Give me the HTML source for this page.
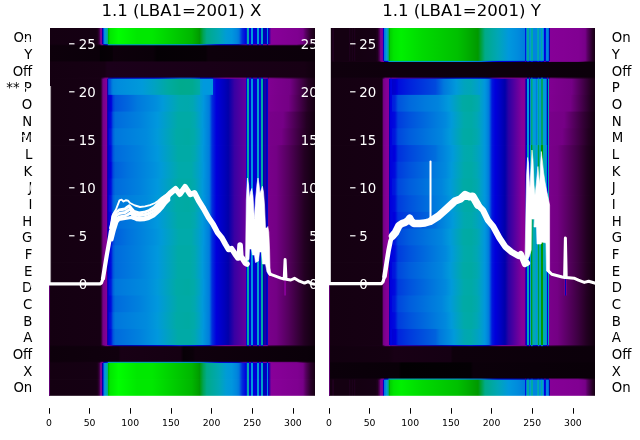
<!DOCTYPE html>
<html><head><meta charset="utf-8"><style>
html,body{margin:0;padding:0;background:#fff;}
body{width:640px;height:440px;overflow:hidden;}
svg{display:block;font-family:"DejaVu Sans","Liberation Sans",sans-serif;will-change:transform;}
</style></head><body>
<svg width="640" height="440" viewBox="0 0 640 440">
<rect width="640" height="440" fill="#fff"/>

<defs><linearGradient id="a0" gradientUnits="userSpaceOnUse" x1="49.00" y1="0" x2="315.00" y2="0"><stop offset="0.0000" stop-color="#140011"/><stop offset="0.1776" stop-color="#150013"/><stop offset="0.1842" stop-color="#1f001e"/><stop offset="0.1880" stop-color="#360039"/><stop offset="0.1898" stop-color="#430049"/><stop offset="0.1917" stop-color="#6a0078"/><stop offset="0.1927" stop-color="#780089"/><stop offset="0.1983" stop-color="#860097"/><stop offset="0.1992" stop-color="#66009d"/><stop offset="0.2011" stop-color="#0000aa"/><stop offset="0.2030" stop-color="#0000ce"/><stop offset="0.2039" stop-color="#000add"/><stop offset="0.2058" stop-color="#0073dd"/><stop offset="0.2068" stop-color="#0085dd"/><stop offset="0.2105" stop-color="#0099dd"/><stop offset="0.2180" stop-color="#00aaa5"/><stop offset="0.2199" stop-color="#00aa9c"/><stop offset="0.2209" stop-color="#00a66b"/><stop offset="0.2218" stop-color="#009a00"/><stop offset="0.2227" stop-color="#00b500"/><stop offset="0.2256" stop-color="#00cd00"/><stop offset="0.2293" stop-color="#00e700"/><stop offset="0.2613" stop-color="#00fe00"/><stop offset="0.3308" stop-color="#00e800"/><stop offset="0.3872" stop-color="#00e800"/><stop offset="0.5367" stop-color="#00b600"/><stop offset="0.5611" stop-color="#00a000"/><stop offset="0.5658" stop-color="#009902"/><stop offset="0.5799" stop-color="#00a455"/><stop offset="0.5930" stop-color="#00aa89"/><stop offset="0.6391" stop-color="#00a7b4"/><stop offset="0.6654" stop-color="#009cd5"/><stop offset="0.6870" stop-color="#0096dd"/><stop offset="0.7058" stop-color="#0086dd"/><stop offset="0.7143" stop-color="#0077dd"/><stop offset="0.7265" stop-color="#002ddd"/><stop offset="0.7415" stop-color="#0000dd"/><stop offset="0.7425" stop-color="#001bdd"/><stop offset="0.7434" stop-color="#0084dd"/><stop offset="0.7444" stop-color="#00a3c0"/><stop offset="0.7453" stop-color="#00a7b4"/><stop offset="0.7509" stop-color="#00a7b4"/><stop offset="0.7519" stop-color="#008cdd"/><stop offset="0.7528" stop-color="#0034dd"/><stop offset="0.7538" stop-color="#0000db"/><stop offset="0.7575" stop-color="#0000da"/><stop offset="0.7585" stop-color="#004bdd"/><stop offset="0.7594" stop-color="#0088dd"/><stop offset="0.7603" stop-color="#0099dd"/><stop offset="0.7660" stop-color="#0099dd"/><stop offset="0.7669" stop-color="#0087dd"/><stop offset="0.7679" stop-color="#0049dd"/><stop offset="0.7688" stop-color="#0000d9"/><stop offset="0.7801" stop-color="#0000d7"/><stop offset="0.7810" stop-color="#0008dd"/><stop offset="0.7820" stop-color="#0078dd"/><stop offset="0.7829" stop-color="#0099dd"/><stop offset="0.7838" stop-color="#009cd3"/><stop offset="0.7885" stop-color="#009cd3"/><stop offset="0.7895" stop-color="#0092dd"/><stop offset="0.7904" stop-color="#0062dd"/><stop offset="0.7914" stop-color="#0000d5"/><stop offset="0.7951" stop-color="#0000d4"/><stop offset="0.7961" stop-color="#006bdd"/><stop offset="0.7970" stop-color="#0098dd"/><stop offset="0.7979" stop-color="#00a0c9"/><stop offset="0.8036" stop-color="#00a0c9"/><stop offset="0.8045" stop-color="#0098dd"/><stop offset="0.8055" stop-color="#0058dd"/><stop offset="0.8064" stop-color="#0000b9"/><stop offset="0.8167" stop-color="#0000b9"/><stop offset="0.8177" stop-color="#0000cb"/><stop offset="0.8186" stop-color="#003edd"/><stop offset="0.8195" stop-color="#0085dd"/><stop offset="0.8233" stop-color="#0085dd"/><stop offset="0.8242" stop-color="#003add"/><stop offset="0.8252" stop-color="#0000c7"/><stop offset="0.8261" stop-color="#0000ad"/><stop offset="0.8271" stop-color="#0900a9"/><stop offset="0.8308" stop-color="#5200a0"/><stop offset="0.8365" stop-color="#880099"/><stop offset="0.9361" stop-color="#7f0090"/><stop offset="0.9549" stop-color="#770088"/><stop offset="0.9662" stop-color="#54005d"/><stop offset="0.9840" stop-color="#290029"/><stop offset="1.0000" stop-color="#160013"/></linearGradient><linearGradient id="a1" gradientUnits="userSpaceOnUse" x1="49.00" y1="0" x2="315.00" y2="0"><stop offset="0.0000" stop-color="#0d000b"/><stop offset="0.1889" stop-color="#0b000a"/><stop offset="0.1936" stop-color="#040004"/><stop offset="0.2378" stop-color="#070006"/><stop offset="0.2425" stop-color="#0d000b"/><stop offset="0.3910" stop-color="#0a0009"/><stop offset="0.4060" stop-color="#040004"/><stop offset="0.5883" stop-color="#070006"/><stop offset="0.5987" stop-color="#0d000b"/><stop offset="1.0000" stop-color="#0b000a"/></linearGradient><linearGradient id="a2" gradientUnits="userSpaceOnUse" x1="49.00" y1="0" x2="315.00" y2="0"><stop offset="0.0000" stop-color="#140011"/><stop offset="0.2086" stop-color="#160013"/><stop offset="0.2190" stop-color="#1b001a"/><stop offset="0.9596" stop-color="#170014"/><stop offset="1.0000" stop-color="#0f000d"/></linearGradient><linearGradient id="a3" gradientUnits="userSpaceOnUse" x1="49.00" y1="0" x2="315.00" y2="0"><stop offset="0.0000" stop-color="#140011"/><stop offset="0.1927" stop-color="#160013"/><stop offset="0.1964" stop-color="#2e002f"/><stop offset="0.2030" stop-color="#770088"/><stop offset="0.2180" stop-color="#860097"/><stop offset="0.2190" stop-color="#56009f"/><stop offset="0.2199" stop-color="#1600a7"/><stop offset="0.2209" stop-color="#0000ba"/><stop offset="0.2218" stop-color="#0000c5"/><stop offset="0.2227" stop-color="#002cdd"/><stop offset="0.2246" stop-color="#0050dd"/><stop offset="0.2331" stop-color="#005fdd"/><stop offset="0.2359" stop-color="#0078dd"/><stop offset="0.2425" stop-color="#0086dd"/><stop offset="0.2585" stop-color="#008cdd"/><stop offset="0.3496" stop-color="#009ada"/><stop offset="0.3966" stop-color="#00a2c2"/><stop offset="0.4483" stop-color="#00aaa0"/><stop offset="0.4953" stop-color="#00aa8d"/><stop offset="0.5385" stop-color="#00aa8f"/><stop offset="0.5667" stop-color="#00aaa7"/><stop offset="0.5677" stop-color="#009fcb"/><stop offset="0.5808" stop-color="#0099dd"/><stop offset="0.6156" stop-color="#0099dd"/><stop offset="0.6165" stop-color="#0024dd"/><stop offset="0.6288" stop-color="#0000dc"/><stop offset="0.6598" stop-color="#0000bc"/><stop offset="0.6739" stop-color="#0200aa"/><stop offset="0.6974" stop-color="#3900a3"/><stop offset="0.7312" stop-color="#5d009e"/><stop offset="0.7406" stop-color="#65009d"/><stop offset="0.7415" stop-color="#0000ac"/><stop offset="0.7425" stop-color="#000add"/><stop offset="0.7434" stop-color="#0088dd"/><stop offset="0.7444" stop-color="#00a9ae"/><stop offset="0.7453" stop-color="#00aaa3"/><stop offset="0.7509" stop-color="#00aaa3"/><stop offset="0.7519" stop-color="#0092dd"/><stop offset="0.7528" stop-color="#002cdd"/><stop offset="0.7538" stop-color="#0000d3"/><stop offset="0.7575" stop-color="#0000d3"/><stop offset="0.7585" stop-color="#0038dd"/><stop offset="0.7594" stop-color="#0081dd"/><stop offset="0.7603" stop-color="#0092dd"/><stop offset="0.7660" stop-color="#0092dd"/><stop offset="0.7669" stop-color="#0081dd"/><stop offset="0.7679" stop-color="#0038dd"/><stop offset="0.7688" stop-color="#0000d3"/><stop offset="0.7810" stop-color="#0000d3"/><stop offset="0.7820" stop-color="#0069dd"/><stop offset="0.7829" stop-color="#0098dd"/><stop offset="0.7838" stop-color="#00a0c9"/><stop offset="0.7885" stop-color="#00a0c9"/><stop offset="0.7895" stop-color="#0091dd"/><stop offset="0.7904" stop-color="#004fdd"/><stop offset="0.7914" stop-color="#0000d3"/><stop offset="0.7942" stop-color="#0000d3"/><stop offset="0.7951" stop-color="#000add"/><stop offset="0.7961" stop-color="#0088dd"/><stop offset="0.7970" stop-color="#00a9ae"/><stop offset="0.7979" stop-color="#00aaa3"/><stop offset="0.8036" stop-color="#00aaa3"/><stop offset="0.8045" stop-color="#00a9ae"/><stop offset="0.8055" stop-color="#0080dd"/><stop offset="0.8064" stop-color="#0000b3"/><stop offset="0.8073" stop-color="#1b00a7"/><stop offset="0.8167" stop-color="#1b00a7"/><stop offset="0.8177" stop-color="#0000b5"/><stop offset="0.8186" stop-color="#0000ca"/><stop offset="0.8195" stop-color="#0000d3"/><stop offset="0.8224" stop-color="#0000d3"/><stop offset="0.8233" stop-color="#2c00a4"/><stop offset="0.8242" stop-color="#800091"/><stop offset="0.8252" stop-color="#79008a"/><stop offset="0.8261" stop-color="#800091"/><stop offset="0.9051" stop-color="#740085"/><stop offset="0.9746" stop-color="#250024"/><stop offset="1.0000" stop-color="#150013"/></linearGradient><linearGradient id="a4" gradientUnits="userSpaceOnUse" x1="49.00" y1="0" x2="315.00" y2="0"><stop offset="0.0000" stop-color="#140011"/><stop offset="0.1927" stop-color="#160013"/><stop offset="0.1964" stop-color="#2e002f"/><stop offset="0.2030" stop-color="#770088"/><stop offset="0.2180" stop-color="#860097"/><stop offset="0.2190" stop-color="#56009f"/><stop offset="0.2199" stop-color="#1600a7"/><stop offset="0.2209" stop-color="#0000ba"/><stop offset="0.2218" stop-color="#0000c5"/><stop offset="0.2227" stop-color="#0000c2"/><stop offset="0.2246" stop-color="#0000d1"/><stop offset="0.2340" stop-color="#0000dc"/><stop offset="0.2406" stop-color="#003cdd"/><stop offset="0.2491" stop-color="#0054dd"/><stop offset="0.2979" stop-color="#0067dd"/><stop offset="0.3318" stop-color="#0079dd"/><stop offset="0.4013" stop-color="#008edd"/><stop offset="0.4276" stop-color="#009ad9"/><stop offset="0.4897" stop-color="#00a9ae"/><stop offset="0.5226" stop-color="#00a9ac"/><stop offset="0.5414" stop-color="#00a7b3"/><stop offset="0.5658" stop-color="#009dd2"/><stop offset="0.5667" stop-color="#009cd4"/><stop offset="0.5677" stop-color="#009fcb"/><stop offset="0.5808" stop-color="#0097dd"/><stop offset="0.6006" stop-color="#007edd"/><stop offset="0.6043" stop-color="#0073dd"/><stop offset="0.6128" stop-color="#0030dd"/><stop offset="0.6288" stop-color="#0000dc"/><stop offset="0.6598" stop-color="#0000bc"/><stop offset="0.6739" stop-color="#0200aa"/><stop offset="0.6974" stop-color="#3900a3"/><stop offset="0.7312" stop-color="#5d009e"/><stop offset="0.7406" stop-color="#65009d"/><stop offset="0.7415" stop-color="#0000ac"/><stop offset="0.7425" stop-color="#000add"/><stop offset="0.7434" stop-color="#0088dd"/><stop offset="0.7444" stop-color="#00a9ae"/><stop offset="0.7453" stop-color="#00aaa3"/><stop offset="0.7509" stop-color="#00aaa3"/><stop offset="0.7519" stop-color="#0092dd"/><stop offset="0.7528" stop-color="#002cdd"/><stop offset="0.7538" stop-color="#0000d3"/><stop offset="0.7575" stop-color="#0000d3"/><stop offset="0.7585" stop-color="#0038dd"/><stop offset="0.7594" stop-color="#0081dd"/><stop offset="0.7603" stop-color="#0092dd"/><stop offset="0.7660" stop-color="#0092dd"/><stop offset="0.7669" stop-color="#0081dd"/><stop offset="0.7679" stop-color="#0038dd"/><stop offset="0.7688" stop-color="#0000d3"/><stop offset="0.7810" stop-color="#0000d3"/><stop offset="0.7820" stop-color="#0069dd"/><stop offset="0.7829" stop-color="#0098dd"/><stop offset="0.7838" stop-color="#00a0c9"/><stop offset="0.7885" stop-color="#00a0c9"/><stop offset="0.7895" stop-color="#0091dd"/><stop offset="0.7904" stop-color="#004fdd"/><stop offset="0.7914" stop-color="#0000d3"/><stop offset="0.7942" stop-color="#0000d3"/><stop offset="0.7951" stop-color="#000add"/><stop offset="0.7961" stop-color="#0088dd"/><stop offset="0.7970" stop-color="#00a9ae"/><stop offset="0.7979" stop-color="#00aaa3"/><stop offset="0.8036" stop-color="#00aaa3"/><stop offset="0.8045" stop-color="#00a9ae"/><stop offset="0.8055" stop-color="#0080dd"/><stop offset="0.8064" stop-color="#0000b3"/><stop offset="0.8073" stop-color="#1b00a7"/><stop offset="0.8167" stop-color="#1b00a7"/><stop offset="0.8177" stop-color="#0000b5"/><stop offset="0.8186" stop-color="#0000ca"/><stop offset="0.8195" stop-color="#0000d3"/><stop offset="0.8224" stop-color="#0000d3"/><stop offset="0.8233" stop-color="#2c00a4"/><stop offset="0.8242" stop-color="#800091"/><stop offset="0.8252" stop-color="#79008a"/><stop offset="0.8261" stop-color="#7f0090"/><stop offset="0.9004" stop-color="#750085"/><stop offset="0.9737" stop-color="#240023"/><stop offset="1.0000" stop-color="#140012"/></linearGradient><linearGradient id="a5" gradientUnits="userSpaceOnUse" x1="49.00" y1="0" x2="315.00" y2="0"><stop offset="0.0000" stop-color="#140011"/><stop offset="0.1927" stop-color="#160013"/><stop offset="0.1964" stop-color="#2e002f"/><stop offset="0.2030" stop-color="#770088"/><stop offset="0.2180" stop-color="#860097"/><stop offset="0.2190" stop-color="#56009f"/><stop offset="0.2199" stop-color="#1600a7"/><stop offset="0.2209" stop-color="#0000ba"/><stop offset="0.2246" stop-color="#0000db"/><stop offset="0.2331" stop-color="#000cdd"/><stop offset="0.2406" stop-color="#0053dd"/><stop offset="0.2491" stop-color="#006bdd"/><stop offset="0.3412" stop-color="#0081dd"/><stop offset="0.4079" stop-color="#0098dd"/><stop offset="0.4859" stop-color="#00aaa6"/><stop offset="0.5320" stop-color="#00aaa6"/><stop offset="0.5479" stop-color="#00a8b0"/><stop offset="0.5771" stop-color="#009ada"/><stop offset="0.5996" stop-color="#0080dd"/><stop offset="0.6043" stop-color="#0073dd"/><stop offset="0.6128" stop-color="#0030dd"/><stop offset="0.6288" stop-color="#0000dc"/><stop offset="0.6598" stop-color="#0000bc"/><stop offset="0.6739" stop-color="#0200aa"/><stop offset="0.6974" stop-color="#3900a3"/><stop offset="0.7312" stop-color="#5d009e"/><stop offset="0.7406" stop-color="#65009d"/><stop offset="0.7415" stop-color="#0000ac"/><stop offset="0.7425" stop-color="#000add"/><stop offset="0.7434" stop-color="#0088dd"/><stop offset="0.7444" stop-color="#00a9ae"/><stop offset="0.7453" stop-color="#00aaa3"/><stop offset="0.7509" stop-color="#00aaa3"/><stop offset="0.7519" stop-color="#0092dd"/><stop offset="0.7528" stop-color="#002cdd"/><stop offset="0.7538" stop-color="#0000d3"/><stop offset="0.7575" stop-color="#0000d3"/><stop offset="0.7585" stop-color="#0038dd"/><stop offset="0.7594" stop-color="#0081dd"/><stop offset="0.7603" stop-color="#0092dd"/><stop offset="0.7660" stop-color="#0092dd"/><stop offset="0.7669" stop-color="#0081dd"/><stop offset="0.7679" stop-color="#0038dd"/><stop offset="0.7688" stop-color="#0000d3"/><stop offset="0.7810" stop-color="#0000d3"/><stop offset="0.7820" stop-color="#0069dd"/><stop offset="0.7829" stop-color="#0098dd"/><stop offset="0.7838" stop-color="#00a0c9"/><stop offset="0.7885" stop-color="#00a0c9"/><stop offset="0.7895" stop-color="#0091dd"/><stop offset="0.7904" stop-color="#004fdd"/><stop offset="0.7914" stop-color="#0000d3"/><stop offset="0.7942" stop-color="#0000d3"/><stop offset="0.7951" stop-color="#000add"/><stop offset="0.7961" stop-color="#0088dd"/><stop offset="0.7970" stop-color="#00a9ae"/><stop offset="0.7979" stop-color="#00aaa3"/><stop offset="0.8036" stop-color="#00aaa3"/><stop offset="0.8045" stop-color="#00a9ae"/><stop offset="0.8055" stop-color="#0080dd"/><stop offset="0.8064" stop-color="#0000b3"/><stop offset="0.8073" stop-color="#1b00a7"/><stop offset="0.8167" stop-color="#1b00a7"/><stop offset="0.8177" stop-color="#0000b5"/><stop offset="0.8186" stop-color="#0000ca"/><stop offset="0.8195" stop-color="#0000d3"/><stop offset="0.8224" stop-color="#0000d3"/><stop offset="0.8233" stop-color="#2c00a4"/><stop offset="0.8242" stop-color="#800091"/><stop offset="0.8252" stop-color="#79008a"/><stop offset="0.8797" stop-color="#750086"/><stop offset="0.9680" stop-color="#230022"/><stop offset="1.0000" stop-color="#11000f"/></linearGradient><linearGradient id="a6" gradientUnits="userSpaceOnUse" x1="49.00" y1="0" x2="315.00" y2="0"><stop offset="0.0000" stop-color="#140011"/><stop offset="0.1927" stop-color="#160013"/><stop offset="0.1964" stop-color="#2e002f"/><stop offset="0.2030" stop-color="#770088"/><stop offset="0.2180" stop-color="#860097"/><stop offset="0.2190" stop-color="#56009f"/><stop offset="0.2199" stop-color="#1600a7"/><stop offset="0.2209" stop-color="#0000ba"/><stop offset="0.2237" stop-color="#0000d9"/><stop offset="0.2256" stop-color="#000ddd"/><stop offset="0.2331" stop-color="#0018dd"/><stop offset="0.2406" stop-color="#005fdd"/><stop offset="0.2491" stop-color="#0077dd"/><stop offset="0.3675" stop-color="#008bdd"/><stop offset="0.4070" stop-color="#009ada"/><stop offset="0.4793" stop-color="#00aaa6"/><stop offset="0.5244" stop-color="#00aaa2"/><stop offset="0.5451" stop-color="#00aaa9"/><stop offset="0.5658" stop-color="#00a2c3"/><stop offset="0.5695" stop-color="#009ece"/><stop offset="0.5808" stop-color="#0097dd"/><stop offset="0.6006" stop-color="#007edd"/><stop offset="0.6043" stop-color="#0073dd"/><stop offset="0.6128" stop-color="#0030dd"/><stop offset="0.6288" stop-color="#0000dc"/><stop offset="0.6598" stop-color="#0000bc"/><stop offset="0.6739" stop-color="#0200aa"/><stop offset="0.6974" stop-color="#3900a3"/><stop offset="0.7312" stop-color="#5d009e"/><stop offset="0.7406" stop-color="#65009d"/><stop offset="0.7415" stop-color="#0000ac"/><stop offset="0.7425" stop-color="#000add"/><stop offset="0.7434" stop-color="#0088dd"/><stop offset="0.7444" stop-color="#00a9ae"/><stop offset="0.7453" stop-color="#00aaa3"/><stop offset="0.7509" stop-color="#00aaa3"/><stop offset="0.7519" stop-color="#0092dd"/><stop offset="0.7528" stop-color="#002cdd"/><stop offset="0.7538" stop-color="#0000d3"/><stop offset="0.7575" stop-color="#0000d3"/><stop offset="0.7585" stop-color="#0038dd"/><stop offset="0.7594" stop-color="#0081dd"/><stop offset="0.7603" stop-color="#0092dd"/><stop offset="0.7660" stop-color="#0092dd"/><stop offset="0.7669" stop-color="#0081dd"/><stop offset="0.7679" stop-color="#0038dd"/><stop offset="0.7688" stop-color="#0000d3"/><stop offset="0.7810" stop-color="#0000d3"/><stop offset="0.7820" stop-color="#0069dd"/><stop offset="0.7829" stop-color="#0098dd"/><stop offset="0.7838" stop-color="#00a0c9"/><stop offset="0.7885" stop-color="#00a0c9"/><stop offset="0.7895" stop-color="#0091dd"/><stop offset="0.7904" stop-color="#004fdd"/><stop offset="0.7914" stop-color="#0000d3"/><stop offset="0.7942" stop-color="#0000d3"/><stop offset="0.7951" stop-color="#000add"/><stop offset="0.7961" stop-color="#0088dd"/><stop offset="0.7970" stop-color="#00a9ae"/><stop offset="0.7979" stop-color="#00aaa3"/><stop offset="0.8036" stop-color="#00aaa3"/><stop offset="0.8045" stop-color="#00a9ae"/><stop offset="0.8055" stop-color="#0080dd"/><stop offset="0.8064" stop-color="#0000b3"/><stop offset="0.8073" stop-color="#1b00a7"/><stop offset="0.8167" stop-color="#1b00a7"/><stop offset="0.8177" stop-color="#0000b5"/><stop offset="0.8186" stop-color="#0000ca"/><stop offset="0.8195" stop-color="#0000d3"/><stop offset="0.8224" stop-color="#0000d3"/><stop offset="0.8233" stop-color="#2c00a4"/><stop offset="0.8242" stop-color="#800091"/><stop offset="0.8252" stop-color="#79008a"/><stop offset="0.8731" stop-color="#750085"/><stop offset="0.9662" stop-color="#230022"/><stop offset="1.0000" stop-color="#11000f"/></linearGradient><linearGradient id="a7" gradientUnits="userSpaceOnUse" x1="49.00" y1="0" x2="315.00" y2="0"><stop offset="0.0000" stop-color="#140011"/><stop offset="0.1927" stop-color="#160013"/><stop offset="0.1964" stop-color="#2e002f"/><stop offset="0.2030" stop-color="#770088"/><stop offset="0.2180" stop-color="#860097"/><stop offset="0.2190" stop-color="#56009f"/><stop offset="0.2199" stop-color="#1600a7"/><stop offset="0.2209" stop-color="#0000ba"/><stop offset="0.2246" stop-color="#0000db"/><stop offset="0.2331" stop-color="#000cdd"/><stop offset="0.2406" stop-color="#0053dd"/><stop offset="0.2491" stop-color="#006bdd"/><stop offset="0.3412" stop-color="#0081dd"/><stop offset="0.4079" stop-color="#0098dd"/><stop offset="0.4859" stop-color="#00aaa6"/><stop offset="0.5320" stop-color="#00aaa6"/><stop offset="0.5479" stop-color="#00a8b0"/><stop offset="0.5771" stop-color="#009ada"/><stop offset="0.5996" stop-color="#0080dd"/><stop offset="0.6043" stop-color="#0073dd"/><stop offset="0.6128" stop-color="#0030dd"/><stop offset="0.6288" stop-color="#0000dc"/><stop offset="0.6598" stop-color="#0000bc"/><stop offset="0.6739" stop-color="#0200aa"/><stop offset="0.6974" stop-color="#3900a3"/><stop offset="0.7312" stop-color="#5d009e"/><stop offset="0.7406" stop-color="#65009d"/><stop offset="0.7415" stop-color="#0000ac"/><stop offset="0.7425" stop-color="#000add"/><stop offset="0.7434" stop-color="#0088dd"/><stop offset="0.7444" stop-color="#00a9ae"/><stop offset="0.7453" stop-color="#00aaa3"/><stop offset="0.7509" stop-color="#00aaa3"/><stop offset="0.7519" stop-color="#0092dd"/><stop offset="0.7528" stop-color="#002cdd"/><stop offset="0.7538" stop-color="#0000d3"/><stop offset="0.7575" stop-color="#0000d3"/><stop offset="0.7585" stop-color="#0038dd"/><stop offset="0.7594" stop-color="#0081dd"/><stop offset="0.7603" stop-color="#0092dd"/><stop offset="0.7660" stop-color="#0092dd"/><stop offset="0.7669" stop-color="#0081dd"/><stop offset="0.7679" stop-color="#0038dd"/><stop offset="0.7688" stop-color="#0000d3"/><stop offset="0.7810" stop-color="#0000d3"/><stop offset="0.7820" stop-color="#0069dd"/><stop offset="0.7829" stop-color="#0098dd"/><stop offset="0.7838" stop-color="#00a0c9"/><stop offset="0.7885" stop-color="#00a0c9"/><stop offset="0.7895" stop-color="#0091dd"/><stop offset="0.7904" stop-color="#004fdd"/><stop offset="0.7914" stop-color="#0000d3"/><stop offset="0.7942" stop-color="#0000d3"/><stop offset="0.7951" stop-color="#000add"/><stop offset="0.7961" stop-color="#0088dd"/><stop offset="0.7970" stop-color="#00a9ae"/><stop offset="0.7979" stop-color="#00aaa3"/><stop offset="0.8036" stop-color="#00aaa3"/><stop offset="0.8045" stop-color="#00a9ae"/><stop offset="0.8055" stop-color="#0080dd"/><stop offset="0.8064" stop-color="#0000b3"/><stop offset="0.8073" stop-color="#1b00a7"/><stop offset="0.8167" stop-color="#1b00a7"/><stop offset="0.8177" stop-color="#0000b5"/><stop offset="0.8186" stop-color="#0000ca"/><stop offset="0.8195" stop-color="#0000d3"/><stop offset="0.8224" stop-color="#0000d3"/><stop offset="0.8233" stop-color="#2c00a4"/><stop offset="0.8242" stop-color="#800091"/><stop offset="0.8252" stop-color="#79008a"/><stop offset="0.8543" stop-color="#740085"/><stop offset="0.9004" stop-color="#54005d"/><stop offset="0.9605" stop-color="#230022"/><stop offset="1.0000" stop-color="#0f000d"/></linearGradient><linearGradient id="a8" gradientUnits="userSpaceOnUse" x1="49.00" y1="0" x2="315.00" y2="0"><stop offset="0.0000" stop-color="#140011"/><stop offset="0.1927" stop-color="#160013"/><stop offset="0.1964" stop-color="#2e002f"/><stop offset="0.2030" stop-color="#770088"/><stop offset="0.2180" stop-color="#860097"/><stop offset="0.2190" stop-color="#56009f"/><stop offset="0.2199" stop-color="#1600a7"/><stop offset="0.2209" stop-color="#0000ba"/><stop offset="0.2218" stop-color="#0000c5"/><stop offset="0.2237" stop-color="#0000cf"/><stop offset="0.2256" stop-color="#0000d8"/><stop offset="0.2331" stop-color="#0000dd"/><stop offset="0.2406" stop-color="#0047dd"/><stop offset="0.2491" stop-color="#0060dd"/><stop offset="0.2979" stop-color="#0073dd"/><stop offset="0.3985" stop-color="#0091dd"/><stop offset="0.4211" stop-color="#009ad9"/><stop offset="0.4887" stop-color="#00aaaa"/><stop offset="0.5348" stop-color="#00aaaa"/><stop offset="0.5620" stop-color="#00a0c7"/><stop offset="0.5667" stop-color="#009ecf"/><stop offset="0.5686" stop-color="#009ecd"/><stop offset="0.5808" stop-color="#0097dd"/><stop offset="0.6006" stop-color="#007edd"/><stop offset="0.6043" stop-color="#0073dd"/><stop offset="0.6128" stop-color="#0030dd"/><stop offset="0.6288" stop-color="#0000dc"/><stop offset="0.6598" stop-color="#0000bc"/><stop offset="0.6739" stop-color="#0200aa"/><stop offset="0.6974" stop-color="#3900a3"/><stop offset="0.7312" stop-color="#5d009e"/><stop offset="0.7406" stop-color="#65009d"/><stop offset="0.7415" stop-color="#0000ac"/><stop offset="0.7425" stop-color="#000add"/><stop offset="0.7434" stop-color="#0088dd"/><stop offset="0.7444" stop-color="#00a9ae"/><stop offset="0.7453" stop-color="#00aaa3"/><stop offset="0.7509" stop-color="#00aaa3"/><stop offset="0.7519" stop-color="#0092dd"/><stop offset="0.7528" stop-color="#002cdd"/><stop offset="0.7538" stop-color="#0000d3"/><stop offset="0.7575" stop-color="#0000d3"/><stop offset="0.7585" stop-color="#0038dd"/><stop offset="0.7594" stop-color="#0081dd"/><stop offset="0.7603" stop-color="#0092dd"/><stop offset="0.7660" stop-color="#0092dd"/><stop offset="0.7669" stop-color="#0081dd"/><stop offset="0.7679" stop-color="#0038dd"/><stop offset="0.7688" stop-color="#0000d3"/><stop offset="0.7810" stop-color="#0000d3"/><stop offset="0.7820" stop-color="#0069dd"/><stop offset="0.7829" stop-color="#0098dd"/><stop offset="0.7838" stop-color="#00a0c9"/><stop offset="0.7885" stop-color="#00a0c9"/><stop offset="0.7895" stop-color="#0091dd"/><stop offset="0.7904" stop-color="#004fdd"/><stop offset="0.7914" stop-color="#0000d3"/><stop offset="0.7942" stop-color="#0000d3"/><stop offset="0.7951" stop-color="#000add"/><stop offset="0.7961" stop-color="#0088dd"/><stop offset="0.7970" stop-color="#00a9ae"/><stop offset="0.7979" stop-color="#00aaa3"/><stop offset="0.8036" stop-color="#00aaa3"/><stop offset="0.8045" stop-color="#00a9ae"/><stop offset="0.8055" stop-color="#0080dd"/><stop offset="0.8064" stop-color="#0000b3"/><stop offset="0.8073" stop-color="#1b00a7"/><stop offset="0.8167" stop-color="#1b00a7"/><stop offset="0.8177" stop-color="#0000b5"/><stop offset="0.8186" stop-color="#0000ca"/><stop offset="0.8195" stop-color="#0000d3"/><stop offset="0.8224" stop-color="#0000d3"/><stop offset="0.8233" stop-color="#2c00a4"/><stop offset="0.8242" stop-color="#800091"/><stop offset="0.8252" stop-color="#79008a"/><stop offset="0.8543" stop-color="#740085"/><stop offset="0.9004" stop-color="#54005d"/><stop offset="0.9605" stop-color="#230022"/><stop offset="1.0000" stop-color="#0f000d"/></linearGradient><linearGradient id="a9" gradientUnits="userSpaceOnUse" x1="49.00" y1="0" x2="315.00" y2="0"><stop offset="0.0000" stop-color="#140011"/><stop offset="0.1927" stop-color="#160013"/><stop offset="0.1964" stop-color="#2e002f"/><stop offset="0.2030" stop-color="#770088"/><stop offset="0.2180" stop-color="#860097"/><stop offset="0.2190" stop-color="#56009f"/><stop offset="0.2199" stop-color="#1600a7"/><stop offset="0.2209" stop-color="#0000ba"/><stop offset="0.2246" stop-color="#0000db"/><stop offset="0.2331" stop-color="#000cdd"/><stop offset="0.2406" stop-color="#0053dd"/><stop offset="0.2491" stop-color="#006bdd"/><stop offset="0.3412" stop-color="#0081dd"/><stop offset="0.4079" stop-color="#0098dd"/><stop offset="0.4859" stop-color="#00aaa6"/><stop offset="0.5320" stop-color="#00aaa6"/><stop offset="0.5479" stop-color="#00a8b0"/><stop offset="0.5771" stop-color="#009ada"/><stop offset="0.5996" stop-color="#0080dd"/><stop offset="0.6043" stop-color="#0073dd"/><stop offset="0.6128" stop-color="#0030dd"/><stop offset="0.6288" stop-color="#0000dc"/><stop offset="0.6598" stop-color="#0000bc"/><stop offset="0.6739" stop-color="#0200aa"/><stop offset="0.6974" stop-color="#3900a3"/><stop offset="0.7312" stop-color="#5d009e"/><stop offset="0.7406" stop-color="#65009d"/><stop offset="0.7415" stop-color="#0000ac"/><stop offset="0.7425" stop-color="#000add"/><stop offset="0.7434" stop-color="#0088dd"/><stop offset="0.7444" stop-color="#00a9ae"/><stop offset="0.7453" stop-color="#00aaa3"/><stop offset="0.7509" stop-color="#00aaa3"/><stop offset="0.7519" stop-color="#0092dd"/><stop offset="0.7528" stop-color="#002cdd"/><stop offset="0.7538" stop-color="#0000d3"/><stop offset="0.7575" stop-color="#0000d3"/><stop offset="0.7585" stop-color="#0038dd"/><stop offset="0.7594" stop-color="#0081dd"/><stop offset="0.7603" stop-color="#0092dd"/><stop offset="0.7660" stop-color="#0092dd"/><stop offset="0.7669" stop-color="#0081dd"/><stop offset="0.7679" stop-color="#0038dd"/><stop offset="0.7688" stop-color="#0000d3"/><stop offset="0.7810" stop-color="#0000d3"/><stop offset="0.7820" stop-color="#0069dd"/><stop offset="0.7829" stop-color="#0098dd"/><stop offset="0.7838" stop-color="#00a0c9"/><stop offset="0.7885" stop-color="#00a0c9"/><stop offset="0.7895" stop-color="#0091dd"/><stop offset="0.7904" stop-color="#004fdd"/><stop offset="0.7914" stop-color="#0000d3"/><stop offset="0.7942" stop-color="#0000d3"/><stop offset="0.7951" stop-color="#000add"/><stop offset="0.7961" stop-color="#0088dd"/><stop offset="0.7970" stop-color="#00a9ae"/><stop offset="0.7979" stop-color="#00aaa3"/><stop offset="0.8036" stop-color="#00aaa3"/><stop offset="0.8045" stop-color="#00a9ae"/><stop offset="0.8055" stop-color="#0080dd"/><stop offset="0.8064" stop-color="#0000b3"/><stop offset="0.8073" stop-color="#1b00a7"/><stop offset="0.8167" stop-color="#1b00a7"/><stop offset="0.8177" stop-color="#0000b5"/><stop offset="0.8186" stop-color="#0000ca"/><stop offset="0.8195" stop-color="#0000d3"/><stop offset="0.8224" stop-color="#0000d3"/><stop offset="0.8233" stop-color="#2c00a4"/><stop offset="0.8242" stop-color="#800091"/><stop offset="0.8252" stop-color="#79008a"/><stop offset="0.8543" stop-color="#740085"/><stop offset="0.9004" stop-color="#54005d"/><stop offset="0.9605" stop-color="#230022"/><stop offset="1.0000" stop-color="#0f000d"/></linearGradient><linearGradient id="a10" gradientUnits="userSpaceOnUse" x1="49.00" y1="0" x2="315.00" y2="0"><stop offset="0.0000" stop-color="#140011"/><stop offset="0.1927" stop-color="#160013"/><stop offset="0.1964" stop-color="#2e002f"/><stop offset="0.2030" stop-color="#770088"/><stop offset="0.2180" stop-color="#860097"/><stop offset="0.2190" stop-color="#56009f"/><stop offset="0.2199" stop-color="#1600a7"/><stop offset="0.2209" stop-color="#0000ba"/><stop offset="0.2237" stop-color="#0000d9"/><stop offset="0.2256" stop-color="#000ddd"/><stop offset="0.2331" stop-color="#0018dd"/><stop offset="0.2406" stop-color="#005fdd"/><stop offset="0.2491" stop-color="#0077dd"/><stop offset="0.3675" stop-color="#008bdd"/><stop offset="0.4070" stop-color="#009ada"/><stop offset="0.4793" stop-color="#00aaa6"/><stop offset="0.5244" stop-color="#00aaa2"/><stop offset="0.5451" stop-color="#00aaa9"/><stop offset="0.5658" stop-color="#00a2c3"/><stop offset="0.5695" stop-color="#009ece"/><stop offset="0.5808" stop-color="#0097dd"/><stop offset="0.6006" stop-color="#007edd"/><stop offset="0.6043" stop-color="#0073dd"/><stop offset="0.6128" stop-color="#0030dd"/><stop offset="0.6288" stop-color="#0000dc"/><stop offset="0.6598" stop-color="#0000bc"/><stop offset="0.6739" stop-color="#0200aa"/><stop offset="0.6974" stop-color="#3900a3"/><stop offset="0.7312" stop-color="#5d009e"/><stop offset="0.7406" stop-color="#65009d"/><stop offset="0.7415" stop-color="#0000ac"/><stop offset="0.7425" stop-color="#000add"/><stop offset="0.7434" stop-color="#0088dd"/><stop offset="0.7444" stop-color="#00a9ae"/><stop offset="0.7453" stop-color="#00aaa3"/><stop offset="0.7509" stop-color="#00aaa3"/><stop offset="0.7519" stop-color="#0092dd"/><stop offset="0.7528" stop-color="#002cdd"/><stop offset="0.7538" stop-color="#0000d3"/><stop offset="0.7575" stop-color="#0000d3"/><stop offset="0.7585" stop-color="#0038dd"/><stop offset="0.7594" stop-color="#0081dd"/><stop offset="0.7603" stop-color="#0092dd"/><stop offset="0.7660" stop-color="#0092dd"/><stop offset="0.7669" stop-color="#0081dd"/><stop offset="0.7679" stop-color="#0038dd"/><stop offset="0.7688" stop-color="#0000d3"/><stop offset="0.7810" stop-color="#0000d3"/><stop offset="0.7820" stop-color="#0069dd"/><stop offset="0.7829" stop-color="#0098dd"/><stop offset="0.7838" stop-color="#00a0c9"/><stop offset="0.7885" stop-color="#00a0c9"/><stop offset="0.7895" stop-color="#0091dd"/><stop offset="0.7904" stop-color="#004fdd"/><stop offset="0.7914" stop-color="#0000d3"/><stop offset="0.7942" stop-color="#0000d3"/><stop offset="0.7951" stop-color="#000add"/><stop offset="0.7961" stop-color="#0088dd"/><stop offset="0.7970" stop-color="#00a9ae"/><stop offset="0.7979" stop-color="#00aaa3"/><stop offset="0.8036" stop-color="#00aaa3"/><stop offset="0.8045" stop-color="#00a9ae"/><stop offset="0.8055" stop-color="#0080dd"/><stop offset="0.8064" stop-color="#0000b3"/><stop offset="0.8073" stop-color="#1b00a7"/><stop offset="0.8167" stop-color="#1b00a7"/><stop offset="0.8177" stop-color="#0000b5"/><stop offset="0.8186" stop-color="#0000ca"/><stop offset="0.8195" stop-color="#0000d3"/><stop offset="0.8224" stop-color="#0000d3"/><stop offset="0.8233" stop-color="#2c00a4"/><stop offset="0.8242" stop-color="#800091"/><stop offset="0.8252" stop-color="#79008a"/><stop offset="0.8543" stop-color="#740085"/><stop offset="0.9004" stop-color="#54005d"/><stop offset="0.9605" stop-color="#230022"/><stop offset="1.0000" stop-color="#0f000d"/></linearGradient><linearGradient id="a11" gradientUnits="userSpaceOnUse" x1="49.00" y1="0" x2="315.00" y2="0"><stop offset="0.0000" stop-color="#140011"/><stop offset="0.1927" stop-color="#160013"/><stop offset="0.1964" stop-color="#2e002f"/><stop offset="0.2030" stop-color="#770088"/><stop offset="0.2180" stop-color="#860097"/><stop offset="0.2190" stop-color="#56009f"/><stop offset="0.2199" stop-color="#1600a7"/><stop offset="0.2209" stop-color="#0000ba"/><stop offset="0.2246" stop-color="#0000db"/><stop offset="0.2331" stop-color="#000cdd"/><stop offset="0.2406" stop-color="#0053dd"/><stop offset="0.2491" stop-color="#006bdd"/><stop offset="0.3412" stop-color="#0081dd"/><stop offset="0.4079" stop-color="#0098dd"/><stop offset="0.4859" stop-color="#00aaa6"/><stop offset="0.5320" stop-color="#00aaa6"/><stop offset="0.5479" stop-color="#00a8b0"/><stop offset="0.5771" stop-color="#009ada"/><stop offset="0.5996" stop-color="#0080dd"/><stop offset="0.6043" stop-color="#0073dd"/><stop offset="0.6128" stop-color="#0030dd"/><stop offset="0.6288" stop-color="#0000dc"/><stop offset="0.6598" stop-color="#0000bc"/><stop offset="0.6739" stop-color="#0200aa"/><stop offset="0.6974" stop-color="#3900a3"/><stop offset="0.7312" stop-color="#5d009e"/><stop offset="0.7406" stop-color="#65009d"/><stop offset="0.7415" stop-color="#0000ac"/><stop offset="0.7425" stop-color="#000add"/><stop offset="0.7434" stop-color="#0088dd"/><stop offset="0.7444" stop-color="#00a9ae"/><stop offset="0.7453" stop-color="#00aaa3"/><stop offset="0.7509" stop-color="#00aaa3"/><stop offset="0.7519" stop-color="#0092dd"/><stop offset="0.7528" stop-color="#002cdd"/><stop offset="0.7538" stop-color="#0000d3"/><stop offset="0.7575" stop-color="#0000d3"/><stop offset="0.7585" stop-color="#0038dd"/><stop offset="0.7594" stop-color="#0081dd"/><stop offset="0.7603" stop-color="#0092dd"/><stop offset="0.7660" stop-color="#0092dd"/><stop offset="0.7669" stop-color="#0081dd"/><stop offset="0.7679" stop-color="#0038dd"/><stop offset="0.7688" stop-color="#0000d3"/><stop offset="0.7810" stop-color="#0000d3"/><stop offset="0.7820" stop-color="#0069dd"/><stop offset="0.7829" stop-color="#0098dd"/><stop offset="0.7838" stop-color="#00a0c9"/><stop offset="0.7885" stop-color="#00a0c9"/><stop offset="0.7895" stop-color="#0091dd"/><stop offset="0.7904" stop-color="#004fdd"/><stop offset="0.7914" stop-color="#0000d3"/><stop offset="0.7942" stop-color="#0000d3"/><stop offset="0.7951" stop-color="#000add"/><stop offset="0.7961" stop-color="#0088dd"/><stop offset="0.7970" stop-color="#00a9ae"/><stop offset="0.7979" stop-color="#00aaa3"/><stop offset="0.8036" stop-color="#00aaa3"/><stop offset="0.8045" stop-color="#00a9ae"/><stop offset="0.8055" stop-color="#0080dd"/><stop offset="0.8064" stop-color="#0000b3"/><stop offset="0.8073" stop-color="#1b00a7"/><stop offset="0.8167" stop-color="#1b00a7"/><stop offset="0.8177" stop-color="#0000b5"/><stop offset="0.8186" stop-color="#0000ca"/><stop offset="0.8195" stop-color="#0000d3"/><stop offset="0.8224" stop-color="#0000d3"/><stop offset="0.8233" stop-color="#2c00a4"/><stop offset="0.8242" stop-color="#800091"/><stop offset="0.8252" stop-color="#79008a"/><stop offset="0.8543" stop-color="#740085"/><stop offset="0.9004" stop-color="#54005d"/><stop offset="0.9605" stop-color="#230022"/><stop offset="1.0000" stop-color="#0f000d"/></linearGradient><linearGradient id="a12" gradientUnits="userSpaceOnUse" x1="49.00" y1="0" x2="315.00" y2="0"><stop offset="0.0000" stop-color="#140011"/><stop offset="0.1927" stop-color="#160013"/><stop offset="0.1964" stop-color="#2e002f"/><stop offset="0.2030" stop-color="#770088"/><stop offset="0.2180" stop-color="#860097"/><stop offset="0.2190" stop-color="#56009f"/><stop offset="0.2199" stop-color="#1600a7"/><stop offset="0.2209" stop-color="#0000ba"/><stop offset="0.2218" stop-color="#0000c5"/><stop offset="0.2237" stop-color="#0000cf"/><stop offset="0.2256" stop-color="#0000d8"/><stop offset="0.2331" stop-color="#0000dd"/><stop offset="0.2406" stop-color="#0047dd"/><stop offset="0.2491" stop-color="#0060dd"/><stop offset="0.2979" stop-color="#0073dd"/><stop offset="0.3985" stop-color="#0091dd"/><stop offset="0.4211" stop-color="#009ad9"/><stop offset="0.4887" stop-color="#00aaaa"/><stop offset="0.5348" stop-color="#00aaaa"/><stop offset="0.5620" stop-color="#00a0c7"/><stop offset="0.5667" stop-color="#009ecf"/><stop offset="0.5686" stop-color="#009ecd"/><stop offset="0.5808" stop-color="#0097dd"/><stop offset="0.6006" stop-color="#007edd"/><stop offset="0.6043" stop-color="#0073dd"/><stop offset="0.6128" stop-color="#0030dd"/><stop offset="0.6288" stop-color="#0000dc"/><stop offset="0.6598" stop-color="#0000bc"/><stop offset="0.6739" stop-color="#0200aa"/><stop offset="0.6974" stop-color="#3900a3"/><stop offset="0.7312" stop-color="#5d009e"/><stop offset="0.7406" stop-color="#65009d"/><stop offset="0.7415" stop-color="#0000ac"/><stop offset="0.7425" stop-color="#000add"/><stop offset="0.7434" stop-color="#0088dd"/><stop offset="0.7444" stop-color="#00a9ae"/><stop offset="0.7453" stop-color="#00aaa3"/><stop offset="0.7509" stop-color="#00aaa3"/><stop offset="0.7519" stop-color="#0092dd"/><stop offset="0.7528" stop-color="#002cdd"/><stop offset="0.7538" stop-color="#0000d3"/><stop offset="0.7575" stop-color="#0000d3"/><stop offset="0.7585" stop-color="#0038dd"/><stop offset="0.7594" stop-color="#0081dd"/><stop offset="0.7603" stop-color="#0092dd"/><stop offset="0.7660" stop-color="#0092dd"/><stop offset="0.7669" stop-color="#0081dd"/><stop offset="0.7679" stop-color="#0038dd"/><stop offset="0.7688" stop-color="#0000d3"/><stop offset="0.7810" stop-color="#0000d3"/><stop offset="0.7820" stop-color="#0069dd"/><stop offset="0.7829" stop-color="#0098dd"/><stop offset="0.7838" stop-color="#00a0c9"/><stop offset="0.7885" stop-color="#00a0c9"/><stop offset="0.7895" stop-color="#0091dd"/><stop offset="0.7904" stop-color="#004fdd"/><stop offset="0.7914" stop-color="#0000d3"/><stop offset="0.7942" stop-color="#0000d3"/><stop offset="0.7951" stop-color="#000add"/><stop offset="0.7961" stop-color="#0088dd"/><stop offset="0.7970" stop-color="#00a9ae"/><stop offset="0.7979" stop-color="#00aaa3"/><stop offset="0.8036" stop-color="#00aaa3"/><stop offset="0.8045" stop-color="#00a9ae"/><stop offset="0.8055" stop-color="#0080dd"/><stop offset="0.8064" stop-color="#0000b3"/><stop offset="0.8073" stop-color="#1b00a7"/><stop offset="0.8167" stop-color="#1b00a7"/><stop offset="0.8177" stop-color="#0000b5"/><stop offset="0.8186" stop-color="#0000ca"/><stop offset="0.8195" stop-color="#0000d3"/><stop offset="0.8224" stop-color="#0000d3"/><stop offset="0.8233" stop-color="#2c00a4"/><stop offset="0.8242" stop-color="#800091"/><stop offset="0.8252" stop-color="#79008a"/><stop offset="0.8543" stop-color="#740085"/><stop offset="0.9004" stop-color="#54005d"/><stop offset="0.9605" stop-color="#230022"/><stop offset="1.0000" stop-color="#0f000d"/></linearGradient><linearGradient id="a13" gradientUnits="userSpaceOnUse" x1="49.00" y1="0" x2="315.00" y2="0"><stop offset="0.0000" stop-color="#140011"/><stop offset="0.1927" stop-color="#160013"/><stop offset="0.1964" stop-color="#2e002f"/><stop offset="0.2030" stop-color="#770088"/><stop offset="0.2180" stop-color="#860097"/><stop offset="0.2190" stop-color="#56009f"/><stop offset="0.2199" stop-color="#1600a7"/><stop offset="0.2209" stop-color="#0000ba"/><stop offset="0.2246" stop-color="#0000db"/><stop offset="0.2331" stop-color="#000cdd"/><stop offset="0.2406" stop-color="#0053dd"/><stop offset="0.2491" stop-color="#006bdd"/><stop offset="0.3412" stop-color="#0081dd"/><stop offset="0.4079" stop-color="#0098dd"/><stop offset="0.4859" stop-color="#00aaa6"/><stop offset="0.5320" stop-color="#00aaa6"/><stop offset="0.5479" stop-color="#00a8b0"/><stop offset="0.5771" stop-color="#009ada"/><stop offset="0.5996" stop-color="#0080dd"/><stop offset="0.6043" stop-color="#0073dd"/><stop offset="0.6128" stop-color="#0030dd"/><stop offset="0.6288" stop-color="#0000dc"/><stop offset="0.6598" stop-color="#0000bc"/><stop offset="0.6739" stop-color="#0200aa"/><stop offset="0.6974" stop-color="#3900a3"/><stop offset="0.7312" stop-color="#5d009e"/><stop offset="0.7406" stop-color="#65009d"/><stop offset="0.7415" stop-color="#0000ac"/><stop offset="0.7425" stop-color="#000add"/><stop offset="0.7434" stop-color="#0088dd"/><stop offset="0.7444" stop-color="#00a9ae"/><stop offset="0.7453" stop-color="#00aaa3"/><stop offset="0.7509" stop-color="#00aaa3"/><stop offset="0.7519" stop-color="#0092dd"/><stop offset="0.7528" stop-color="#002cdd"/><stop offset="0.7538" stop-color="#0000d3"/><stop offset="0.7575" stop-color="#0000d3"/><stop offset="0.7585" stop-color="#0038dd"/><stop offset="0.7594" stop-color="#0081dd"/><stop offset="0.7603" stop-color="#0092dd"/><stop offset="0.7660" stop-color="#0092dd"/><stop offset="0.7669" stop-color="#0081dd"/><stop offset="0.7679" stop-color="#0038dd"/><stop offset="0.7688" stop-color="#0000d3"/><stop offset="0.7810" stop-color="#0000d3"/><stop offset="0.7820" stop-color="#0069dd"/><stop offset="0.7829" stop-color="#0098dd"/><stop offset="0.7838" stop-color="#00a0c9"/><stop offset="0.7885" stop-color="#00a0c9"/><stop offset="0.7895" stop-color="#0091dd"/><stop offset="0.7904" stop-color="#004fdd"/><stop offset="0.7914" stop-color="#0000d3"/><stop offset="0.7942" stop-color="#0000d3"/><stop offset="0.7951" stop-color="#000add"/><stop offset="0.7961" stop-color="#0088dd"/><stop offset="0.7970" stop-color="#00a9ae"/><stop offset="0.7979" stop-color="#00aaa3"/><stop offset="0.8036" stop-color="#00aaa3"/><stop offset="0.8045" stop-color="#00a9ae"/><stop offset="0.8055" stop-color="#0080dd"/><stop offset="0.8064" stop-color="#0000b3"/><stop offset="0.8073" stop-color="#1b00a7"/><stop offset="0.8167" stop-color="#1b00a7"/><stop offset="0.8177" stop-color="#0000b5"/><stop offset="0.8186" stop-color="#0000ca"/><stop offset="0.8195" stop-color="#0000d3"/><stop offset="0.8224" stop-color="#0000d3"/><stop offset="0.8233" stop-color="#2c00a4"/><stop offset="0.8242" stop-color="#800091"/><stop offset="0.8252" stop-color="#79008a"/><stop offset="0.8543" stop-color="#740085"/><stop offset="0.9004" stop-color="#54005d"/><stop offset="0.9605" stop-color="#230022"/><stop offset="1.0000" stop-color="#0f000d"/></linearGradient><linearGradient id="a14" gradientUnits="userSpaceOnUse" x1="49.00" y1="0" x2="315.00" y2="0"><stop offset="0.0000" stop-color="#140011"/><stop offset="0.1927" stop-color="#160013"/><stop offset="0.1964" stop-color="#2e002f"/><stop offset="0.2030" stop-color="#770088"/><stop offset="0.2180" stop-color="#860097"/><stop offset="0.2190" stop-color="#56009f"/><stop offset="0.2199" stop-color="#1600a7"/><stop offset="0.2209" stop-color="#0000ba"/><stop offset="0.2246" stop-color="#0000db"/><stop offset="0.2331" stop-color="#000cdd"/><stop offset="0.2406" stop-color="#0053dd"/><stop offset="0.2491" stop-color="#006bdd"/><stop offset="0.3412" stop-color="#0081dd"/><stop offset="0.4079" stop-color="#0098dd"/><stop offset="0.4859" stop-color="#00aaa6"/><stop offset="0.5320" stop-color="#00aaa6"/><stop offset="0.5479" stop-color="#00a8b0"/><stop offset="0.5771" stop-color="#009ada"/><stop offset="0.5996" stop-color="#0080dd"/><stop offset="0.6043" stop-color="#0073dd"/><stop offset="0.6128" stop-color="#0030dd"/><stop offset="0.6288" stop-color="#0000dc"/><stop offset="0.6598" stop-color="#0000bc"/><stop offset="0.6739" stop-color="#0200aa"/><stop offset="0.6974" stop-color="#3900a3"/><stop offset="0.7312" stop-color="#5d009e"/><stop offset="0.7406" stop-color="#65009d"/><stop offset="0.7415" stop-color="#0000ac"/><stop offset="0.7425" stop-color="#000add"/><stop offset="0.7434" stop-color="#0088dd"/><stop offset="0.7444" stop-color="#00a9ae"/><stop offset="0.7453" stop-color="#00aaa3"/><stop offset="0.7509" stop-color="#00aaa3"/><stop offset="0.7519" stop-color="#0092dd"/><stop offset="0.7528" stop-color="#002cdd"/><stop offset="0.7538" stop-color="#0000d3"/><stop offset="0.7575" stop-color="#0000d3"/><stop offset="0.7585" stop-color="#0038dd"/><stop offset="0.7594" stop-color="#0081dd"/><stop offset="0.7603" stop-color="#0092dd"/><stop offset="0.7660" stop-color="#0092dd"/><stop offset="0.7669" stop-color="#0081dd"/><stop offset="0.7679" stop-color="#0038dd"/><stop offset="0.7688" stop-color="#0000d3"/><stop offset="0.7810" stop-color="#0000d3"/><stop offset="0.7820" stop-color="#0069dd"/><stop offset="0.7829" stop-color="#0098dd"/><stop offset="0.7838" stop-color="#00a0c9"/><stop offset="0.7885" stop-color="#00a0c9"/><stop offset="0.7895" stop-color="#0091dd"/><stop offset="0.7904" stop-color="#004fdd"/><stop offset="0.7914" stop-color="#0000d3"/><stop offset="0.7942" stop-color="#0000d3"/><stop offset="0.7951" stop-color="#000add"/><stop offset="0.7961" stop-color="#0088dd"/><stop offset="0.7970" stop-color="#00a9ae"/><stop offset="0.7979" stop-color="#00aaa3"/><stop offset="0.8036" stop-color="#00aaa3"/><stop offset="0.8045" stop-color="#00a9ae"/><stop offset="0.8055" stop-color="#0080dd"/><stop offset="0.8064" stop-color="#0000b3"/><stop offset="0.8073" stop-color="#1b00a7"/><stop offset="0.8167" stop-color="#1b00a7"/><stop offset="0.8177" stop-color="#0000b5"/><stop offset="0.8186" stop-color="#0000ca"/><stop offset="0.8195" stop-color="#0000d3"/><stop offset="0.8224" stop-color="#0000d3"/><stop offset="0.8233" stop-color="#2c00a4"/><stop offset="0.8242" stop-color="#800091"/><stop offset="0.8252" stop-color="#79008a"/><stop offset="0.8543" stop-color="#740085"/><stop offset="0.9004" stop-color="#54005d"/><stop offset="0.9605" stop-color="#230022"/><stop offset="1.0000" stop-color="#0f000d"/></linearGradient><linearGradient id="a15" gradientUnits="userSpaceOnUse" x1="49.00" y1="0" x2="315.00" y2="0"><stop offset="0.0000" stop-color="#140011"/><stop offset="0.1927" stop-color="#160013"/><stop offset="0.1964" stop-color="#2e002f"/><stop offset="0.2030" stop-color="#770088"/><stop offset="0.2180" stop-color="#860097"/><stop offset="0.2190" stop-color="#56009f"/><stop offset="0.2199" stop-color="#1600a7"/><stop offset="0.2209" stop-color="#0000ba"/><stop offset="0.2237" stop-color="#0000d9"/><stop offset="0.2256" stop-color="#000ddd"/><stop offset="0.2331" stop-color="#0018dd"/><stop offset="0.2406" stop-color="#005fdd"/><stop offset="0.2491" stop-color="#0077dd"/><stop offset="0.3675" stop-color="#008bdd"/><stop offset="0.4070" stop-color="#009ada"/><stop offset="0.4793" stop-color="#00aaa6"/><stop offset="0.5244" stop-color="#00aaa2"/><stop offset="0.5451" stop-color="#00aaa9"/><stop offset="0.5658" stop-color="#00a2c3"/><stop offset="0.5695" stop-color="#009ece"/><stop offset="0.5808" stop-color="#0097dd"/><stop offset="0.6006" stop-color="#007edd"/><stop offset="0.6043" stop-color="#0073dd"/><stop offset="0.6128" stop-color="#0030dd"/><stop offset="0.6288" stop-color="#0000dc"/><stop offset="0.6598" stop-color="#0000bc"/><stop offset="0.6739" stop-color="#0200aa"/><stop offset="0.6974" stop-color="#3900a3"/><stop offset="0.7312" stop-color="#5d009e"/><stop offset="0.7406" stop-color="#65009d"/><stop offset="0.7415" stop-color="#0000ac"/><stop offset="0.7425" stop-color="#000add"/><stop offset="0.7434" stop-color="#0088dd"/><stop offset="0.7444" stop-color="#00a9ae"/><stop offset="0.7453" stop-color="#00aaa3"/><stop offset="0.7509" stop-color="#00aaa3"/><stop offset="0.7519" stop-color="#0092dd"/><stop offset="0.7528" stop-color="#002cdd"/><stop offset="0.7538" stop-color="#0000d3"/><stop offset="0.7575" stop-color="#0000d3"/><stop offset="0.7585" stop-color="#0038dd"/><stop offset="0.7594" stop-color="#0081dd"/><stop offset="0.7603" stop-color="#0092dd"/><stop offset="0.7660" stop-color="#0092dd"/><stop offset="0.7669" stop-color="#0081dd"/><stop offset="0.7679" stop-color="#0038dd"/><stop offset="0.7688" stop-color="#0000d3"/><stop offset="0.7810" stop-color="#0000d3"/><stop offset="0.7820" stop-color="#0069dd"/><stop offset="0.7829" stop-color="#0098dd"/><stop offset="0.7838" stop-color="#00a0c9"/><stop offset="0.7885" stop-color="#00a0c9"/><stop offset="0.7895" stop-color="#0091dd"/><stop offset="0.7904" stop-color="#004fdd"/><stop offset="0.7914" stop-color="#0000d3"/><stop offset="0.7942" stop-color="#0000d3"/><stop offset="0.7951" stop-color="#000add"/><stop offset="0.7961" stop-color="#0088dd"/><stop offset="0.7970" stop-color="#00a9ae"/><stop offset="0.7979" stop-color="#00aaa3"/><stop offset="0.8036" stop-color="#00aaa3"/><stop offset="0.8045" stop-color="#00a9ae"/><stop offset="0.8055" stop-color="#0080dd"/><stop offset="0.8064" stop-color="#0000b3"/><stop offset="0.8073" stop-color="#1b00a7"/><stop offset="0.8167" stop-color="#1b00a7"/><stop offset="0.8177" stop-color="#0000b5"/><stop offset="0.8186" stop-color="#0000ca"/><stop offset="0.8195" stop-color="#0000d3"/><stop offset="0.8224" stop-color="#0000d3"/><stop offset="0.8233" stop-color="#2c00a4"/><stop offset="0.8242" stop-color="#800091"/><stop offset="0.8252" stop-color="#79008a"/><stop offset="0.8543" stop-color="#740085"/><stop offset="0.8835" stop-color="#61006e"/><stop offset="0.8844" stop-color="#79008a"/><stop offset="0.8863" stop-color="#880099"/><stop offset="0.8900" stop-color="#860097"/><stop offset="0.8910" stop-color="#7e008f"/><stop offset="0.8919" stop-color="#680075"/><stop offset="0.8929" stop-color="#5a0064"/><stop offset="0.9605" stop-color="#230022"/><stop offset="1.0000" stop-color="#0f000d"/></linearGradient><linearGradient id="a16" gradientUnits="userSpaceOnUse" x1="49.00" y1="0" x2="315.00" y2="0"><stop offset="0.0000" stop-color="#140011"/><stop offset="0.1927" stop-color="#160013"/><stop offset="0.1964" stop-color="#2e002f"/><stop offset="0.2030" stop-color="#770088"/><stop offset="0.2180" stop-color="#860097"/><stop offset="0.2190" stop-color="#56009f"/><stop offset="0.2199" stop-color="#1600a7"/><stop offset="0.2209" stop-color="#0000ba"/><stop offset="0.2246" stop-color="#0000db"/><stop offset="0.2331" stop-color="#000cdd"/><stop offset="0.2406" stop-color="#0053dd"/><stop offset="0.2491" stop-color="#006bdd"/><stop offset="0.3412" stop-color="#0081dd"/><stop offset="0.4079" stop-color="#0098dd"/><stop offset="0.4859" stop-color="#00aaa6"/><stop offset="0.5320" stop-color="#00aaa6"/><stop offset="0.5479" stop-color="#00a8b0"/><stop offset="0.5771" stop-color="#009ada"/><stop offset="0.5996" stop-color="#0080dd"/><stop offset="0.6043" stop-color="#0073dd"/><stop offset="0.6128" stop-color="#0030dd"/><stop offset="0.6288" stop-color="#0000dc"/><stop offset="0.6598" stop-color="#0000bc"/><stop offset="0.6739" stop-color="#0200aa"/><stop offset="0.6974" stop-color="#3900a3"/><stop offset="0.7312" stop-color="#5d009e"/><stop offset="0.7406" stop-color="#65009d"/><stop offset="0.7415" stop-color="#0000ac"/><stop offset="0.7425" stop-color="#000add"/><stop offset="0.7434" stop-color="#0088dd"/><stop offset="0.7444" stop-color="#00a9ae"/><stop offset="0.7453" stop-color="#00aaa3"/><stop offset="0.7509" stop-color="#00aaa3"/><stop offset="0.7519" stop-color="#0092dd"/><stop offset="0.7528" stop-color="#002cdd"/><stop offset="0.7538" stop-color="#0000d3"/><stop offset="0.7575" stop-color="#0000d3"/><stop offset="0.7585" stop-color="#0038dd"/><stop offset="0.7594" stop-color="#0081dd"/><stop offset="0.7603" stop-color="#0092dd"/><stop offset="0.7660" stop-color="#0092dd"/><stop offset="0.7669" stop-color="#0081dd"/><stop offset="0.7679" stop-color="#0038dd"/><stop offset="0.7688" stop-color="#0000d3"/><stop offset="0.7810" stop-color="#0000d3"/><stop offset="0.7820" stop-color="#0069dd"/><stop offset="0.7829" stop-color="#0098dd"/><stop offset="0.7838" stop-color="#00a0c9"/><stop offset="0.7885" stop-color="#00a0c9"/><stop offset="0.7895" stop-color="#0091dd"/><stop offset="0.7904" stop-color="#004fdd"/><stop offset="0.7914" stop-color="#0000d3"/><stop offset="0.7942" stop-color="#0000d3"/><stop offset="0.7951" stop-color="#000add"/><stop offset="0.7961" stop-color="#0088dd"/><stop offset="0.7970" stop-color="#00a9ae"/><stop offset="0.7979" stop-color="#00aaa3"/><stop offset="0.8036" stop-color="#00aaa3"/><stop offset="0.8045" stop-color="#00a9ae"/><stop offset="0.8055" stop-color="#0080dd"/><stop offset="0.8064" stop-color="#0000b3"/><stop offset="0.8073" stop-color="#1b00a7"/><stop offset="0.8167" stop-color="#1b00a7"/><stop offset="0.8177" stop-color="#0000b5"/><stop offset="0.8186" stop-color="#0000ca"/><stop offset="0.8195" stop-color="#0000d3"/><stop offset="0.8224" stop-color="#0000d3"/><stop offset="0.8233" stop-color="#2c00a4"/><stop offset="0.8242" stop-color="#800091"/><stop offset="0.8252" stop-color="#79008a"/><stop offset="0.8543" stop-color="#740085"/><stop offset="0.9004" stop-color="#54005d"/><stop offset="0.9605" stop-color="#230022"/><stop offset="1.0000" stop-color="#0f000d"/></linearGradient><linearGradient id="a17" gradientUnits="userSpaceOnUse" x1="49.00" y1="0" x2="315.00" y2="0"><stop offset="0.0000" stop-color="#140011"/><stop offset="0.1927" stop-color="#160013"/><stop offset="0.1964" stop-color="#2e002f"/><stop offset="0.2030" stop-color="#770088"/><stop offset="0.2180" stop-color="#860097"/><stop offset="0.2190" stop-color="#56009f"/><stop offset="0.2199" stop-color="#1600a7"/><stop offset="0.2209" stop-color="#0000ba"/><stop offset="0.2237" stop-color="#0000d9"/><stop offset="0.2256" stop-color="#000ddd"/><stop offset="0.2331" stop-color="#0018dd"/><stop offset="0.2406" stop-color="#005fdd"/><stop offset="0.2491" stop-color="#0077dd"/><stop offset="0.3675" stop-color="#008bdd"/><stop offset="0.4070" stop-color="#009ada"/><stop offset="0.4793" stop-color="#00aaa6"/><stop offset="0.5244" stop-color="#00aaa2"/><stop offset="0.5451" stop-color="#00aaa9"/><stop offset="0.5658" stop-color="#00a2c3"/><stop offset="0.5695" stop-color="#009ece"/><stop offset="0.5808" stop-color="#0097dd"/><stop offset="0.6006" stop-color="#007edd"/><stop offset="0.6043" stop-color="#0073dd"/><stop offset="0.6128" stop-color="#0030dd"/><stop offset="0.6288" stop-color="#0000dc"/><stop offset="0.6598" stop-color="#0000bc"/><stop offset="0.6739" stop-color="#0200aa"/><stop offset="0.6974" stop-color="#3900a3"/><stop offset="0.7312" stop-color="#5d009e"/><stop offset="0.7406" stop-color="#65009d"/><stop offset="0.7415" stop-color="#0000ac"/><stop offset="0.7425" stop-color="#000add"/><stop offset="0.7434" stop-color="#0088dd"/><stop offset="0.7444" stop-color="#00a9ae"/><stop offset="0.7453" stop-color="#00aaa3"/><stop offset="0.7509" stop-color="#00aaa3"/><stop offset="0.7519" stop-color="#0092dd"/><stop offset="0.7528" stop-color="#002cdd"/><stop offset="0.7538" stop-color="#0000d3"/><stop offset="0.7575" stop-color="#0000d3"/><stop offset="0.7585" stop-color="#0038dd"/><stop offset="0.7594" stop-color="#0081dd"/><stop offset="0.7603" stop-color="#0092dd"/><stop offset="0.7660" stop-color="#0092dd"/><stop offset="0.7669" stop-color="#0081dd"/><stop offset="0.7679" stop-color="#0038dd"/><stop offset="0.7688" stop-color="#0000d3"/><stop offset="0.7810" stop-color="#0000d3"/><stop offset="0.7820" stop-color="#0069dd"/><stop offset="0.7829" stop-color="#0098dd"/><stop offset="0.7838" stop-color="#00a0c9"/><stop offset="0.7885" stop-color="#00a0c9"/><stop offset="0.7895" stop-color="#0091dd"/><stop offset="0.7904" stop-color="#004fdd"/><stop offset="0.7914" stop-color="#0000d3"/><stop offset="0.7942" stop-color="#0000d3"/><stop offset="0.7951" stop-color="#000add"/><stop offset="0.7961" stop-color="#0088dd"/><stop offset="0.7970" stop-color="#00a9ae"/><stop offset="0.7979" stop-color="#00aaa3"/><stop offset="0.8036" stop-color="#00aaa3"/><stop offset="0.8045" stop-color="#00a9ae"/><stop offset="0.8055" stop-color="#0080dd"/><stop offset="0.8064" stop-color="#0000b3"/><stop offset="0.8073" stop-color="#1b00a7"/><stop offset="0.8167" stop-color="#1b00a7"/><stop offset="0.8177" stop-color="#0000b5"/><stop offset="0.8186" stop-color="#0000ca"/><stop offset="0.8195" stop-color="#0000d3"/><stop offset="0.8224" stop-color="#0000d3"/><stop offset="0.8233" stop-color="#2c00a4"/><stop offset="0.8242" stop-color="#800091"/><stop offset="0.8252" stop-color="#79008a"/><stop offset="0.8543" stop-color="#740085"/><stop offset="0.9004" stop-color="#54005d"/><stop offset="0.9605" stop-color="#230022"/><stop offset="1.0000" stop-color="#0f000d"/></linearGradient><linearGradient id="a18" gradientUnits="userSpaceOnUse" x1="49.00" y1="0" x2="315.00" y2="0"><stop offset="0.0000" stop-color="#140011"/><stop offset="0.1927" stop-color="#160013"/><stop offset="0.1964" stop-color="#2e002f"/><stop offset="0.2030" stop-color="#770088"/><stop offset="0.2180" stop-color="#860097"/><stop offset="0.2190" stop-color="#56009f"/><stop offset="0.2199" stop-color="#1600a7"/><stop offset="0.2209" stop-color="#0000ba"/><stop offset="0.2246" stop-color="#0000db"/><stop offset="0.2331" stop-color="#000cdd"/><stop offset="0.2406" stop-color="#0053dd"/><stop offset="0.2491" stop-color="#006bdd"/><stop offset="0.3412" stop-color="#0081dd"/><stop offset="0.4079" stop-color="#0098dd"/><stop offset="0.4859" stop-color="#00aaa6"/><stop offset="0.5320" stop-color="#00aaa6"/><stop offset="0.5479" stop-color="#00a8b0"/><stop offset="0.5771" stop-color="#009ada"/><stop offset="0.5996" stop-color="#0080dd"/><stop offset="0.6043" stop-color="#0073dd"/><stop offset="0.6128" stop-color="#0030dd"/><stop offset="0.6288" stop-color="#0000dc"/><stop offset="0.6598" stop-color="#0000bc"/><stop offset="0.6739" stop-color="#0200aa"/><stop offset="0.6974" stop-color="#3900a3"/><stop offset="0.7312" stop-color="#5d009e"/><stop offset="0.7406" stop-color="#65009d"/><stop offset="0.7415" stop-color="#0000ac"/><stop offset="0.7425" stop-color="#000add"/><stop offset="0.7434" stop-color="#0088dd"/><stop offset="0.7444" stop-color="#00a9ae"/><stop offset="0.7453" stop-color="#00aaa3"/><stop offset="0.7509" stop-color="#00aaa3"/><stop offset="0.7519" stop-color="#0092dd"/><stop offset="0.7528" stop-color="#002cdd"/><stop offset="0.7538" stop-color="#0000d3"/><stop offset="0.7575" stop-color="#0000d3"/><stop offset="0.7585" stop-color="#0038dd"/><stop offset="0.7594" stop-color="#0081dd"/><stop offset="0.7603" stop-color="#0092dd"/><stop offset="0.7660" stop-color="#0092dd"/><stop offset="0.7669" stop-color="#0081dd"/><stop offset="0.7679" stop-color="#0038dd"/><stop offset="0.7688" stop-color="#0000d3"/><stop offset="0.7810" stop-color="#0000d3"/><stop offset="0.7820" stop-color="#0069dd"/><stop offset="0.7829" stop-color="#0098dd"/><stop offset="0.7838" stop-color="#00a0c9"/><stop offset="0.7885" stop-color="#00a0c9"/><stop offset="0.7895" stop-color="#0091dd"/><stop offset="0.7904" stop-color="#004fdd"/><stop offset="0.7914" stop-color="#0000d3"/><stop offset="0.7942" stop-color="#0000d3"/><stop offset="0.7951" stop-color="#000add"/><stop offset="0.7961" stop-color="#0088dd"/><stop offset="0.7970" stop-color="#00a9ae"/><stop offset="0.7979" stop-color="#00aaa3"/><stop offset="0.8036" stop-color="#00aaa3"/><stop offset="0.8045" stop-color="#00a9ae"/><stop offset="0.8055" stop-color="#0080dd"/><stop offset="0.8064" stop-color="#0000b3"/><stop offset="0.8073" stop-color="#1b00a7"/><stop offset="0.8167" stop-color="#1b00a7"/><stop offset="0.8177" stop-color="#0000b5"/><stop offset="0.8186" stop-color="#0000ca"/><stop offset="0.8195" stop-color="#0000d3"/><stop offset="0.8224" stop-color="#0000d3"/><stop offset="0.8233" stop-color="#2c00a4"/><stop offset="0.8242" stop-color="#800091"/><stop offset="0.8252" stop-color="#79008a"/><stop offset="0.8543" stop-color="#740085"/><stop offset="0.9004" stop-color="#54005d"/><stop offset="0.9605" stop-color="#230022"/><stop offset="1.0000" stop-color="#0f000d"/></linearGradient><linearGradient id="a19" gradientUnits="userSpaceOnUse" x1="49.00" y1="0" x2="315.00" y2="0"><stop offset="0.0000" stop-color="#0d000b"/><stop offset="0.2613" stop-color="#10000e"/><stop offset="0.2697" stop-color="#180015"/><stop offset="0.4944" stop-color="#150012"/><stop offset="0.5056" stop-color="#070006"/><stop offset="0.5404" stop-color="#0a0009"/><stop offset="0.5508" stop-color="#0f000d"/><stop offset="0.9727" stop-color="#0a0009"/><stop offset="1.0000" stop-color="#070006"/></linearGradient><linearGradient id="a20" gradientUnits="userSpaceOnUse" x1="49.00" y1="0" x2="315.00" y2="0"><stop offset="0.0000" stop-color="#140011"/><stop offset="0.1776" stop-color="#150013"/><stop offset="0.1842" stop-color="#1f001e"/><stop offset="0.1880" stop-color="#360039"/><stop offset="0.1898" stop-color="#430049"/><stop offset="0.1917" stop-color="#6a0078"/><stop offset="0.1927" stop-color="#780089"/><stop offset="0.1983" stop-color="#860097"/><stop offset="0.1992" stop-color="#66009d"/><stop offset="0.2011" stop-color="#0000aa"/><stop offset="0.2030" stop-color="#0000ce"/><stop offset="0.2039" stop-color="#000add"/><stop offset="0.2058" stop-color="#0073dd"/><stop offset="0.2068" stop-color="#0085dd"/><stop offset="0.2105" stop-color="#0099dd"/><stop offset="0.2180" stop-color="#00aaa5"/><stop offset="0.2199" stop-color="#00aa9c"/><stop offset="0.2209" stop-color="#00a66b"/><stop offset="0.2218" stop-color="#009a00"/><stop offset="0.2227" stop-color="#00b500"/><stop offset="0.2256" stop-color="#00cd00"/><stop offset="0.2293" stop-color="#00e700"/><stop offset="0.2613" stop-color="#00fe00"/><stop offset="0.3308" stop-color="#00e800"/><stop offset="0.3872" stop-color="#00e800"/><stop offset="0.5367" stop-color="#00b600"/><stop offset="0.5611" stop-color="#00a000"/><stop offset="0.5658" stop-color="#009902"/><stop offset="0.5799" stop-color="#00a455"/><stop offset="0.5930" stop-color="#00aa89"/><stop offset="0.6391" stop-color="#00a7b4"/><stop offset="0.6654" stop-color="#009cd5"/><stop offset="0.6870" stop-color="#0096dd"/><stop offset="0.7058" stop-color="#0086dd"/><stop offset="0.7143" stop-color="#0077dd"/><stop offset="0.7265" stop-color="#002ddd"/><stop offset="0.7415" stop-color="#0000dd"/><stop offset="0.7425" stop-color="#001bdd"/><stop offset="0.7434" stop-color="#0084dd"/><stop offset="0.7444" stop-color="#00a3c0"/><stop offset="0.7453" stop-color="#00a7b4"/><stop offset="0.7509" stop-color="#00a7b4"/><stop offset="0.7519" stop-color="#008cdd"/><stop offset="0.7528" stop-color="#0034dd"/><stop offset="0.7538" stop-color="#0000db"/><stop offset="0.7575" stop-color="#0000da"/><stop offset="0.7585" stop-color="#004bdd"/><stop offset="0.7594" stop-color="#0088dd"/><stop offset="0.7603" stop-color="#0099dd"/><stop offset="0.7660" stop-color="#0099dd"/><stop offset="0.7669" stop-color="#0087dd"/><stop offset="0.7679" stop-color="#0049dd"/><stop offset="0.7688" stop-color="#0000d9"/><stop offset="0.7801" stop-color="#0000d7"/><stop offset="0.7810" stop-color="#0008dd"/><stop offset="0.7820" stop-color="#0078dd"/><stop offset="0.7829" stop-color="#0099dd"/><stop offset="0.7838" stop-color="#009cd3"/><stop offset="0.7885" stop-color="#009cd3"/><stop offset="0.7895" stop-color="#0092dd"/><stop offset="0.7904" stop-color="#0062dd"/><stop offset="0.7914" stop-color="#0000d5"/><stop offset="0.7951" stop-color="#0000d4"/><stop offset="0.7961" stop-color="#006bdd"/><stop offset="0.7970" stop-color="#0098dd"/><stop offset="0.7979" stop-color="#00a0c9"/><stop offset="0.8036" stop-color="#00a0c9"/><stop offset="0.8045" stop-color="#0098dd"/><stop offset="0.8055" stop-color="#0058dd"/><stop offset="0.8064" stop-color="#0000b9"/><stop offset="0.8167" stop-color="#0000b9"/><stop offset="0.8177" stop-color="#0000cb"/><stop offset="0.8186" stop-color="#003edd"/><stop offset="0.8195" stop-color="#0085dd"/><stop offset="0.8233" stop-color="#0085dd"/><stop offset="0.8242" stop-color="#003add"/><stop offset="0.8252" stop-color="#0000c7"/><stop offset="0.8261" stop-color="#0000ad"/><stop offset="0.8271" stop-color="#0900a9"/><stop offset="0.8308" stop-color="#5200a0"/><stop offset="0.8365" stop-color="#880099"/><stop offset="0.9361" stop-color="#7f0090"/><stop offset="0.9549" stop-color="#770088"/><stop offset="0.9662" stop-color="#54005d"/><stop offset="0.9840" stop-color="#290029"/><stop offset="1.0000" stop-color="#160013"/></linearGradient><linearGradient id="a21" gradientUnits="userSpaceOnUse" x1="49.00" y1="0" x2="315.00" y2="0"><stop offset="0.0000" stop-color="#140011"/><stop offset="0.1776" stop-color="#150013"/><stop offset="0.1842" stop-color="#1f001e"/><stop offset="0.1880" stop-color="#360039"/><stop offset="0.1898" stop-color="#430049"/><stop offset="0.1917" stop-color="#6a0078"/><stop offset="0.1927" stop-color="#780089"/><stop offset="0.1983" stop-color="#860097"/><stop offset="0.1992" stop-color="#66009d"/><stop offset="0.2011" stop-color="#0000aa"/><stop offset="0.2030" stop-color="#0000ce"/><stop offset="0.2039" stop-color="#000add"/><stop offset="0.2058" stop-color="#0073dd"/><stop offset="0.2068" stop-color="#0085dd"/><stop offset="0.2105" stop-color="#0099dd"/><stop offset="0.2180" stop-color="#00aaa5"/><stop offset="0.2199" stop-color="#00aa9c"/><stop offset="0.2209" stop-color="#00a66b"/><stop offset="0.2218" stop-color="#009a00"/><stop offset="0.2227" stop-color="#00b500"/><stop offset="0.2256" stop-color="#00cd00"/><stop offset="0.2293" stop-color="#00e700"/><stop offset="0.2613" stop-color="#00fe00"/><stop offset="0.3308" stop-color="#00e800"/><stop offset="0.3872" stop-color="#00e800"/><stop offset="0.5367" stop-color="#00b600"/><stop offset="0.5611" stop-color="#00a000"/><stop offset="0.5658" stop-color="#009902"/><stop offset="0.5799" stop-color="#00a455"/><stop offset="0.5930" stop-color="#00aa89"/><stop offset="0.6391" stop-color="#00a7b4"/><stop offset="0.6654" stop-color="#009cd5"/><stop offset="0.6870" stop-color="#0096dd"/><stop offset="0.7058" stop-color="#0086dd"/><stop offset="0.7143" stop-color="#0077dd"/><stop offset="0.7265" stop-color="#002ddd"/><stop offset="0.7415" stop-color="#0000dd"/><stop offset="0.7425" stop-color="#001bdd"/><stop offset="0.7434" stop-color="#0084dd"/><stop offset="0.7444" stop-color="#00a3c0"/><stop offset="0.7453" stop-color="#00a7b4"/><stop offset="0.7509" stop-color="#00a7b4"/><stop offset="0.7519" stop-color="#008cdd"/><stop offset="0.7528" stop-color="#0034dd"/><stop offset="0.7538" stop-color="#0000db"/><stop offset="0.7575" stop-color="#0000da"/><stop offset="0.7585" stop-color="#004bdd"/><stop offset="0.7594" stop-color="#0088dd"/><stop offset="0.7603" stop-color="#0099dd"/><stop offset="0.7660" stop-color="#0099dd"/><stop offset="0.7669" stop-color="#0087dd"/><stop offset="0.7679" stop-color="#0049dd"/><stop offset="0.7688" stop-color="#0000d9"/><stop offset="0.7801" stop-color="#0000d7"/><stop offset="0.7810" stop-color="#0008dd"/><stop offset="0.7820" stop-color="#0078dd"/><stop offset="0.7829" stop-color="#0099dd"/><stop offset="0.7838" stop-color="#009cd3"/><stop offset="0.7885" stop-color="#009cd3"/><stop offset="0.7895" stop-color="#0092dd"/><stop offset="0.7904" stop-color="#0062dd"/><stop offset="0.7914" stop-color="#0000d5"/><stop offset="0.7951" stop-color="#0000d4"/><stop offset="0.7961" stop-color="#006bdd"/><stop offset="0.7970" stop-color="#0098dd"/><stop offset="0.7979" stop-color="#00a0c9"/><stop offset="0.8036" stop-color="#00a0c9"/><stop offset="0.8045" stop-color="#0098dd"/><stop offset="0.8055" stop-color="#0058dd"/><stop offset="0.8064" stop-color="#0000b9"/><stop offset="0.8167" stop-color="#0000b9"/><stop offset="0.8177" stop-color="#0000cb"/><stop offset="0.8186" stop-color="#003edd"/><stop offset="0.8195" stop-color="#0085dd"/><stop offset="0.8233" stop-color="#0085dd"/><stop offset="0.8242" stop-color="#003add"/><stop offset="0.8252" stop-color="#0000c7"/><stop offset="0.8261" stop-color="#0000ad"/><stop offset="0.8271" stop-color="#0900a9"/><stop offset="0.8308" stop-color="#5200a0"/><stop offset="0.8365" stop-color="#880099"/><stop offset="0.9361" stop-color="#7f0090"/><stop offset="0.9549" stop-color="#770088"/><stop offset="0.9662" stop-color="#54005d"/><stop offset="0.9840" stop-color="#290029"/><stop offset="1.0000" stop-color="#160013"/></linearGradient><linearGradient id="af1" gradientUnits="userSpaceOnUse" x1="49.00" y1="0" x2="315.00" y2="0"><stop offset="0.0000" stop-color="#11000f"/><stop offset="0.1814" stop-color="#150013"/><stop offset="0.1898" stop-color="#270027"/><stop offset="0.1974" stop-color="#770088"/><stop offset="0.2021" stop-color="#870098"/><stop offset="0.2039" stop-color="#5300a0"/><stop offset="0.2058" stop-color="#0e00a8"/><stop offset="0.2068" stop-color="#0000b2"/><stop offset="0.2162" stop-color="#0000dd"/><stop offset="0.2199" stop-color="#0025dd"/><stop offset="0.2209" stop-color="#005ddd"/><stop offset="0.2218" stop-color="#0080dd"/><stop offset="0.2237" stop-color="#0096dd"/><stop offset="0.2303" stop-color="#00a3bf"/><stop offset="0.2641" stop-color="#00aaab"/><stop offset="0.3402" stop-color="#00a4bd"/><stop offset="0.3947" stop-color="#00a2c1"/><stop offset="0.5113" stop-color="#0096dd"/><stop offset="0.5658" stop-color="#007fdd"/><stop offset="0.5771" stop-color="#0070dd"/><stop offset="0.6259" stop-color="#0015dd"/><stop offset="0.6429" stop-color="#0000da"/><stop offset="0.7077" stop-color="#0000b2"/><stop offset="0.7133" stop-color="#0300aa"/><stop offset="0.7284" stop-color="#3c00a2"/><stop offset="0.7415" stop-color="#56009f"/><stop offset="0.7425" stop-color="#4400a1"/><stop offset="0.7434" stop-color="#0000b3"/><stop offset="0.7444" stop-color="#0000d6"/><stop offset="0.7472" stop-color="#0000dd"/><stop offset="0.7509" stop-color="#0000dd"/><stop offset="0.7519" stop-color="#0000ba"/><stop offset="0.7528" stop-color="#3400a4"/><stop offset="0.7538" stop-color="#59009f"/><stop offset="0.7575" stop-color="#5a009f"/><stop offset="0.7585" stop-color="#2400a5"/><stop offset="0.7594" stop-color="#0000b6"/><stop offset="0.7603" stop-color="#0000c5"/><stop offset="0.7660" stop-color="#0000c5"/><stop offset="0.7669" stop-color="#0000b5"/><stop offset="0.7679" stop-color="#2600a5"/><stop offset="0.7688" stop-color="#5d009e"/><stop offset="0.7801" stop-color="#60009e"/><stop offset="0.7810" stop-color="#5100a0"/><stop offset="0.7820" stop-color="#0400a9"/><stop offset="0.7829" stop-color="#0000c5"/><stop offset="0.7885" stop-color="#0000cb"/><stop offset="0.7895" stop-color="#0000bf"/><stop offset="0.7904" stop-color="#1500a7"/><stop offset="0.7914" stop-color="#63009e"/><stop offset="0.7951" stop-color="#64009e"/><stop offset="0.7961" stop-color="#0f00a8"/><stop offset="0.7970" stop-color="#0000c4"/><stop offset="0.7979" stop-color="#0000d1"/><stop offset="0.8036" stop-color="#0000d1"/><stop offset="0.8045" stop-color="#0000c4"/><stop offset="0.8055" stop-color="#1c00a7"/><stop offset="0.8064" stop-color="#870098"/><stop offset="0.8167" stop-color="#870098"/><stop offset="0.8177" stop-color="#72009c"/><stop offset="0.8186" stop-color="#2d00a4"/><stop offset="0.8195" stop-color="#0000b3"/><stop offset="0.8233" stop-color="#0000b3"/><stop offset="0.8242" stop-color="#3000a4"/><stop offset="0.8252" stop-color="#78009b"/><stop offset="0.8261" stop-color="#850096"/><stop offset="0.8459" stop-color="#7a008b"/><stop offset="0.9305" stop-color="#730083"/><stop offset="0.9727" stop-color="#280028"/><stop offset="1.0000" stop-color="#11000f"/></linearGradient><linearGradient id="af3" gradientUnits="userSpaceOnUse" x1="49.00" y1="0" x2="315.00" y2="0"><stop offset="0.0000" stop-color="#140011"/><stop offset="0.1936" stop-color="#180015"/><stop offset="0.1992" stop-color="#310033"/><stop offset="0.2105" stop-color="#770088"/><stop offset="0.2190" stop-color="#7f0090"/><stop offset="0.2209" stop-color="#840099"/><stop offset="0.2218" stop-color="#73009c"/><stop offset="0.2227" stop-color="#3000a4"/><stop offset="0.2246" stop-color="#1900a7"/><stop offset="0.2340" stop-color="#0900a9"/><stop offset="0.2378" stop-color="#0000b0"/><stop offset="0.2556" stop-color="#0000bd"/><stop offset="0.3947" stop-color="#0000d7"/><stop offset="0.4173" stop-color="#0007dd"/><stop offset="0.4915" stop-color="#004ddd"/><stop offset="0.5291" stop-color="#004ddd"/><stop offset="0.5451" stop-color="#0040dd"/><stop offset="0.5667" stop-color="#0019dd"/><stop offset="0.5677" stop-color="#0000d2"/><stop offset="0.5893" stop-color="#0000c8"/><stop offset="0.6156" stop-color="#0000c8"/><stop offset="0.6165" stop-color="#3700a3"/><stop offset="0.6466" stop-color="#69009d"/><stop offset="0.6654" stop-color="#870098"/><stop offset="0.7406" stop-color="#7e008f"/><stop offset="0.7415" stop-color="#860097"/><stop offset="0.7425" stop-color="#4800a1"/><stop offset="0.7434" stop-color="#0000b9"/><stop offset="0.7444" stop-color="#000edd"/><stop offset="0.7453" stop-color="#0021dd"/><stop offset="0.7509" stop-color="#0021dd"/><stop offset="0.7519" stop-color="#0000c1"/><stop offset="0.7528" stop-color="#3200a4"/><stop offset="0.7538" stop-color="#5e009e"/><stop offset="0.7575" stop-color="#5e009e"/><stop offset="0.7585" stop-color="#2a00a5"/><stop offset="0.7594" stop-color="#0000b3"/><stop offset="0.7603" stop-color="#0000c2"/><stop offset="0.7660" stop-color="#0000c2"/><stop offset="0.7669" stop-color="#0000b3"/><stop offset="0.7679" stop-color="#2a00a5"/><stop offset="0.7688" stop-color="#5e009e"/><stop offset="0.7810" stop-color="#5e009e"/><stop offset="0.7820" stop-color="#0900a9"/><stop offset="0.7829" stop-color="#0000c7"/><stop offset="0.7838" stop-color="#0000d4"/><stop offset="0.7885" stop-color="#0000d4"/><stop offset="0.7895" stop-color="#0000c0"/><stop offset="0.7904" stop-color="#1a00a7"/><stop offset="0.7914" stop-color="#5e009e"/><stop offset="0.7942" stop-color="#5e009e"/><stop offset="0.7951" stop-color="#4800a1"/><stop offset="0.7961" stop-color="#0000b9"/><stop offset="0.7970" stop-color="#000edd"/><stop offset="0.7979" stop-color="#0021dd"/><stop offset="0.8036" stop-color="#0021dd"/><stop offset="0.8045" stop-color="#000edd"/><stop offset="0.8055" stop-color="#0000b2"/><stop offset="0.8064" stop-color="#870098"/><stop offset="0.8177" stop-color="#870098"/><stop offset="0.8186" stop-color="#6b009d"/><stop offset="0.8195" stop-color="#5e009e"/><stop offset="0.8224" stop-color="#5e009e"/><stop offset="0.8233" stop-color="#820093"/><stop offset="0.8242" stop-color="#770088"/><stop offset="0.8252" stop-color="#55005e"/><stop offset="0.8261" stop-color="#750086"/><stop offset="0.9079" stop-color="#4a0051"/><stop offset="0.9821" stop-color="#1b0019"/><stop offset="1.0000" stop-color="#130010"/></linearGradient><linearGradient id="af19" gradientUnits="userSpaceOnUse" x1="49.00" y1="0" x2="315.00" y2="0"><stop offset="0.0000" stop-color="#11000f"/><stop offset="0.1936" stop-color="#150013"/><stop offset="0.2002" stop-color="#340036"/><stop offset="0.2115" stop-color="#770088"/><stop offset="0.2190" stop-color="#7e008f"/><stop offset="0.2209" stop-color="#870098"/><stop offset="0.2246" stop-color="#58009f"/><stop offset="0.2340" stop-color="#4800a1"/><stop offset="0.2415" stop-color="#1c00a6"/><stop offset="0.2519" stop-color="#0e00a8"/><stop offset="0.3055" stop-color="#0000ad"/><stop offset="0.4154" stop-color="#0000ca"/><stop offset="0.4633" stop-color="#0005dd"/><stop offset="0.4934" stop-color="#001bdd"/><stop offset="0.5451" stop-color="#000add"/><stop offset="0.5583" stop-color="#0000d8"/><stop offset="0.6034" stop-color="#0400aa"/><stop offset="0.6147" stop-color="#3900a3"/><stop offset="0.6429" stop-color="#6a009d"/><stop offset="0.6626" stop-color="#870098"/><stop offset="0.7406" stop-color="#7d008e"/><stop offset="0.7415" stop-color="#850096"/><stop offset="0.7425" stop-color="#4e00a0"/><stop offset="0.7434" stop-color="#0000b6"/><stop offset="0.7444" stop-color="#0008dd"/><stop offset="0.7453" stop-color="#001bdd"/><stop offset="0.7509" stop-color="#001bdd"/><stop offset="0.7519" stop-color="#0000bf"/><stop offset="0.7528" stop-color="#3800a3"/><stop offset="0.7538" stop-color="#65009d"/><stop offset="0.7575" stop-color="#65009d"/><stop offset="0.7594" stop-color="#0000b1"/><stop offset="0.7603" stop-color="#0000bf"/><stop offset="0.7660" stop-color="#0000bf"/><stop offset="0.7669" stop-color="#0000b1"/><stop offset="0.7688" stop-color="#65009d"/><stop offset="0.7810" stop-color="#65009d"/><stop offset="0.7820" stop-color="#0f00a8"/><stop offset="0.7829" stop-color="#0000c4"/><stop offset="0.7838" stop-color="#0000d1"/><stop offset="0.7885" stop-color="#0000d1"/><stop offset="0.7895" stop-color="#0000be"/><stop offset="0.7904" stop-color="#2100a6"/><stop offset="0.7914" stop-color="#65009d"/><stop offset="0.7942" stop-color="#65009d"/><stop offset="0.7951" stop-color="#4f00a0"/><stop offset="0.7961" stop-color="#0000b6"/><stop offset="0.7970" stop-color="#0008dd"/><stop offset="0.7979" stop-color="#001bdd"/><stop offset="0.8036" stop-color="#001bdd"/><stop offset="0.8045" stop-color="#0008dd"/><stop offset="0.8055" stop-color="#0000af"/><stop offset="0.8064" stop-color="#860097"/><stop offset="0.8177" stop-color="#870098"/><stop offset="0.8195" stop-color="#65009d"/><stop offset="0.8224" stop-color="#65009d"/><stop offset="0.8233" stop-color="#810092"/><stop offset="0.8242" stop-color="#710080"/><stop offset="0.8252" stop-color="#4e0056"/><stop offset="1.0000" stop-color="#0c000a"/></linearGradient><linearGradient id="af20" gradientUnits="userSpaceOnUse" x1="49.00" y1="0" x2="315.00" y2="0"><stop offset="0.0000" stop-color="#11000f"/><stop offset="0.1814" stop-color="#150013"/><stop offset="0.1898" stop-color="#290029"/><stop offset="0.1964" stop-color="#720082"/><stop offset="0.2021" stop-color="#880099"/><stop offset="0.2049" stop-color="#2c00a4"/><stop offset="0.2058" stop-color="#0a00a9"/><stop offset="0.2077" stop-color="#0000b8"/><stop offset="0.2162" stop-color="#0004dd"/><stop offset="0.2199" stop-color="#0029dd"/><stop offset="0.2209" stop-color="#0061dd"/><stop offset="0.2218" stop-color="#0081dd"/><stop offset="0.2237" stop-color="#0097dd"/><stop offset="0.2303" stop-color="#00a3be"/><stop offset="0.2679" stop-color="#00aaaa"/><stop offset="0.3402" stop-color="#00a4bb"/><stop offset="0.4004" stop-color="#00a3c0"/><stop offset="0.5188" stop-color="#0095dd"/><stop offset="0.5677" stop-color="#007edd"/><stop offset="0.5799" stop-color="#006ddd"/><stop offset="0.6222" stop-color="#001cdd"/><stop offset="0.6419" stop-color="#0000db"/><stop offset="0.6870" stop-color="#0000c3"/><stop offset="0.7096" stop-color="#0000af"/><stop offset="0.7143" stop-color="#0600a9"/><stop offset="0.7284" stop-color="#3b00a3"/><stop offset="0.7415" stop-color="#55009f"/><stop offset="0.7425" stop-color="#4300a2"/><stop offset="0.7434" stop-color="#0000b3"/><stop offset="0.7444" stop-color="#0000d6"/><stop offset="0.7472" stop-color="#0000dd"/><stop offset="0.7509" stop-color="#0000dd"/><stop offset="0.7519" stop-color="#0000ba"/><stop offset="0.7528" stop-color="#3300a4"/><stop offset="0.7538" stop-color="#58009f"/><stop offset="0.7575" stop-color="#59009f"/><stop offset="0.7585" stop-color="#2300a6"/><stop offset="0.7594" stop-color="#0000b6"/><stop offset="0.7603" stop-color="#0000c5"/><stop offset="0.7660" stop-color="#0000c5"/><stop offset="0.7669" stop-color="#0000b6"/><stop offset="0.7679" stop-color="#2500a5"/><stop offset="0.7688" stop-color="#5c009e"/><stop offset="0.7801" stop-color="#5f009e"/><stop offset="0.7810" stop-color="#5000a0"/><stop offset="0.7820" stop-color="#0300aa"/><stop offset="0.7829" stop-color="#0000c5"/><stop offset="0.7885" stop-color="#0000cb"/><stop offset="0.7895" stop-color="#0000c0"/><stop offset="0.7904" stop-color="#1400a8"/><stop offset="0.7914" stop-color="#62009e"/><stop offset="0.7951" stop-color="#63009e"/><stop offset="0.7961" stop-color="#0e00a8"/><stop offset="0.7970" stop-color="#0000c4"/><stop offset="0.7979" stop-color="#0000d1"/><stop offset="0.8036" stop-color="#0000d1"/><stop offset="0.8045" stop-color="#0000c4"/><stop offset="0.8055" stop-color="#1b00a7"/><stop offset="0.8064" stop-color="#870098"/><stop offset="0.8167" stop-color="#870098"/><stop offset="0.8177" stop-color="#71009c"/><stop offset="0.8186" stop-color="#2c00a5"/><stop offset="0.8195" stop-color="#0000b3"/><stop offset="0.8233" stop-color="#0000b3"/><stop offset="0.8242" stop-color="#2f00a4"/><stop offset="0.8252" stop-color="#77009b"/><stop offset="0.8261" stop-color="#850096"/><stop offset="0.8459" stop-color="#7a008b"/><stop offset="0.9305" stop-color="#740084"/><stop offset="0.9727" stop-color="#280027"/><stop offset="1.0000" stop-color="#0f000e"/></linearGradient><linearGradient id="b0" gradientUnits="userSpaceOnUse" x1="329.00" y1="0" x2="595.00" y2="0"><stop offset="0.0000" stop-color="#140011"/><stop offset="0.0113" stop-color="#140011"/><stop offset="0.0141" stop-color="#210020"/><stop offset="0.0169" stop-color="#1f001e"/><stop offset="0.0188" stop-color="#140011"/><stop offset="0.0733" stop-color="#140011"/><stop offset="0.0761" stop-color="#1d001c"/><stop offset="0.0789" stop-color="#1c001a"/><stop offset="0.0818" stop-color="#140011"/><stop offset="0.0855" stop-color="#160013"/><stop offset="0.0883" stop-color="#1b001a"/><stop offset="0.0921" stop-color="#140011"/><stop offset="0.0959" stop-color="#1d001c"/><stop offset="0.1006" stop-color="#140011"/><stop offset="0.1748" stop-color="#160014"/><stop offset="0.1823" stop-color="#1f001e"/><stop offset="0.1861" stop-color="#360039"/><stop offset="0.1898" stop-color="#500058"/><stop offset="0.1917" stop-color="#700080"/><stop offset="0.1927" stop-color="#780089"/><stop offset="0.2002" stop-color="#870098"/><stop offset="0.2011" stop-color="#7a009b"/><stop offset="0.2030" stop-color="#5200a0"/><stop offset="0.2039" stop-color="#0200aa"/><stop offset="0.2049" stop-color="#0000c7"/><stop offset="0.2058" stop-color="#0001dd"/><stop offset="0.2077" stop-color="#0054dd"/><stop offset="0.2086" stop-color="#0079dd"/><stop offset="0.2162" stop-color="#0099dd"/><stop offset="0.2218" stop-color="#00aaa3"/><stop offset="0.2227" stop-color="#00aa94"/><stop offset="0.2237" stop-color="#00a87a"/><stop offset="0.2256" stop-color="#009900"/><stop offset="0.2293" stop-color="#00cf00"/><stop offset="0.2434" stop-color="#00e500"/><stop offset="0.2707" stop-color="#00f000"/><stop offset="0.3496" stop-color="#00da00"/><stop offset="0.4831" stop-color="#00c000"/><stop offset="0.5150" stop-color="#00b100"/><stop offset="0.5602" stop-color="#009900"/><stop offset="0.5865" stop-color="#00aa88"/><stop offset="0.6344" stop-color="#00a6b6"/><stop offset="0.6758" stop-color="#0098dd"/><stop offset="0.7077" stop-color="#008cdd"/><stop offset="0.7350" stop-color="#007edd"/><stop offset="0.7359" stop-color="#0079dd"/><stop offset="0.7368" stop-color="#005ddd"/><stop offset="0.7378" stop-color="#0033dd"/><stop offset="0.7387" stop-color="#0018dd"/><stop offset="0.7415" stop-color="#0018dd"/><stop offset="0.7425" stop-color="#007edd"/><stop offset="0.7434" stop-color="#00a3c0"/><stop offset="0.7444" stop-color="#00aaa3"/><stop offset="0.7500" stop-color="#00aaa3"/><stop offset="0.7509" stop-color="#00a1c6"/><stop offset="0.7519" stop-color="#008fdd"/><stop offset="0.7528" stop-color="#0085dd"/><stop offset="0.7566" stop-color="#0085dd"/><stop offset="0.7575" stop-color="#0099dd"/><stop offset="0.7585" stop-color="#00a6b7"/><stop offset="0.7594" stop-color="#00aaa3"/><stop offset="0.7650" stop-color="#00aaa3"/><stop offset="0.7660" stop-color="#00a1c6"/><stop offset="0.7669" stop-color="#008fdd"/><stop offset="0.7679" stop-color="#0085dd"/><stop offset="0.7820" stop-color="#0085dd"/><stop offset="0.7829" stop-color="#0097dd"/><stop offset="0.7838" stop-color="#00a3be"/><stop offset="0.7848" stop-color="#00aaaa"/><stop offset="0.7885" stop-color="#00aaaa"/><stop offset="0.7895" stop-color="#00a8b1"/><stop offset="0.7904" stop-color="#009cd3"/><stop offset="0.7914" stop-color="#0089dd"/><stop offset="0.7932" stop-color="#0085dd"/><stop offset="0.7942" stop-color="#0085dd"/><stop offset="0.7951" stop-color="#0092dd"/><stop offset="0.7970" stop-color="#00aaaa"/><stop offset="0.8017" stop-color="#00aaaa"/><stop offset="0.8026" stop-color="#009fcc"/><stop offset="0.8036" stop-color="#008edd"/><stop offset="0.8045" stop-color="#0085dd"/><stop offset="0.8073" stop-color="#0085dd"/><stop offset="0.8083" stop-color="#0061dd"/><stop offset="0.8092" stop-color="#001cdd"/><stop offset="0.8102" stop-color="#0000dd"/><stop offset="0.8130" stop-color="#0000dd"/><stop offset="0.8139" stop-color="#000edd"/><stop offset="0.8148" stop-color="#0053dd"/><stop offset="0.8158" stop-color="#0081dd"/><stop offset="0.8195" stop-color="#0085dd"/><stop offset="0.8242" stop-color="#0085dd"/><stop offset="0.8252" stop-color="#006cdd"/><stop offset="0.8261" stop-color="#0024dd"/><stop offset="0.8271" stop-color="#0000cd"/><stop offset="0.8280" stop-color="#0000b2"/><stop offset="0.8289" stop-color="#0e00a8"/><stop offset="0.8318" stop-color="#74009c"/><stop offset="0.8327" stop-color="#860097"/><stop offset="0.9389" stop-color="#810092"/><stop offset="0.9633" stop-color="#770088"/><stop offset="0.9727" stop-color="#55005f"/><stop offset="0.9906" stop-color="#260025"/><stop offset="1.0000" stop-color="#160013"/></linearGradient><linearGradient id="b1" gradientUnits="userSpaceOnUse" x1="329.00" y1="0" x2="595.00" y2="0"><stop offset="0.0000" stop-color="#140011"/><stop offset="0.0113" stop-color="#140011"/><stop offset="0.0141" stop-color="#210020"/><stop offset="0.0169" stop-color="#1f001e"/><stop offset="0.0188" stop-color="#140011"/><stop offset="0.0733" stop-color="#140011"/><stop offset="0.0761" stop-color="#1d001c"/><stop offset="0.0789" stop-color="#1c001a"/><stop offset="0.0818" stop-color="#140011"/><stop offset="0.0855" stop-color="#160013"/><stop offset="0.0883" stop-color="#1b001a"/><stop offset="0.0921" stop-color="#140011"/><stop offset="0.0959" stop-color="#1d001c"/><stop offset="0.1006" stop-color="#140011"/><stop offset="0.1748" stop-color="#160014"/><stop offset="0.1823" stop-color="#1f001e"/><stop offset="0.1861" stop-color="#360039"/><stop offset="0.1898" stop-color="#500058"/><stop offset="0.1917" stop-color="#700080"/><stop offset="0.1927" stop-color="#780089"/><stop offset="0.2002" stop-color="#870098"/><stop offset="0.2011" stop-color="#7a009b"/><stop offset="0.2030" stop-color="#5200a0"/><stop offset="0.2039" stop-color="#0200aa"/><stop offset="0.2049" stop-color="#0000c7"/><stop offset="0.2058" stop-color="#0001dd"/><stop offset="0.2077" stop-color="#0054dd"/><stop offset="0.2086" stop-color="#0079dd"/><stop offset="0.2162" stop-color="#0099dd"/><stop offset="0.2218" stop-color="#00aaa3"/><stop offset="0.2227" stop-color="#00aa94"/><stop offset="0.2237" stop-color="#00a87a"/><stop offset="0.2256" stop-color="#009900"/><stop offset="0.2293" stop-color="#00cf00"/><stop offset="0.2434" stop-color="#00e500"/><stop offset="0.2707" stop-color="#00f000"/><stop offset="0.3496" stop-color="#00da00"/><stop offset="0.4831" stop-color="#00c000"/><stop offset="0.5150" stop-color="#00b100"/><stop offset="0.5602" stop-color="#009900"/><stop offset="0.5865" stop-color="#00aa88"/><stop offset="0.6344" stop-color="#00a6b6"/><stop offset="0.6758" stop-color="#0098dd"/><stop offset="0.7077" stop-color="#008cdd"/><stop offset="0.7350" stop-color="#007edd"/><stop offset="0.7359" stop-color="#0079dd"/><stop offset="0.7368" stop-color="#005ddd"/><stop offset="0.7378" stop-color="#0033dd"/><stop offset="0.7387" stop-color="#0018dd"/><stop offset="0.7415" stop-color="#0018dd"/><stop offset="0.7425" stop-color="#007edd"/><stop offset="0.7434" stop-color="#00a3c0"/><stop offset="0.7444" stop-color="#00aaa3"/><stop offset="0.7500" stop-color="#00aaa3"/><stop offset="0.7509" stop-color="#00a1c6"/><stop offset="0.7519" stop-color="#008fdd"/><stop offset="0.7528" stop-color="#0085dd"/><stop offset="0.7566" stop-color="#0085dd"/><stop offset="0.7575" stop-color="#0099dd"/><stop offset="0.7585" stop-color="#00a6b7"/><stop offset="0.7594" stop-color="#00aaa3"/><stop offset="0.7650" stop-color="#00aaa3"/><stop offset="0.7660" stop-color="#00a1c6"/><stop offset="0.7669" stop-color="#008fdd"/><stop offset="0.7679" stop-color="#0085dd"/><stop offset="0.7820" stop-color="#0085dd"/><stop offset="0.7829" stop-color="#0097dd"/><stop offset="0.7838" stop-color="#00a3be"/><stop offset="0.7848" stop-color="#00aaaa"/><stop offset="0.7885" stop-color="#00aaaa"/><stop offset="0.7895" stop-color="#00a8b1"/><stop offset="0.7904" stop-color="#009cd3"/><stop offset="0.7914" stop-color="#0089dd"/><stop offset="0.7932" stop-color="#0085dd"/><stop offset="0.7942" stop-color="#0085dd"/><stop offset="0.7951" stop-color="#0092dd"/><stop offset="0.7970" stop-color="#00aaaa"/><stop offset="0.8017" stop-color="#00aaaa"/><stop offset="0.8026" stop-color="#009fcc"/><stop offset="0.8036" stop-color="#008edd"/><stop offset="0.8045" stop-color="#0085dd"/><stop offset="0.8073" stop-color="#0085dd"/><stop offset="0.8083" stop-color="#0061dd"/><stop offset="0.8092" stop-color="#001cdd"/><stop offset="0.8102" stop-color="#0000dd"/><stop offset="0.8130" stop-color="#0000dd"/><stop offset="0.8139" stop-color="#000edd"/><stop offset="0.8148" stop-color="#0053dd"/><stop offset="0.8158" stop-color="#0081dd"/><stop offset="0.8195" stop-color="#0085dd"/><stop offset="0.8242" stop-color="#0085dd"/><stop offset="0.8252" stop-color="#006cdd"/><stop offset="0.8261" stop-color="#0024dd"/><stop offset="0.8271" stop-color="#0000cd"/><stop offset="0.8280" stop-color="#0000b2"/><stop offset="0.8289" stop-color="#0e00a8"/><stop offset="0.8318" stop-color="#74009c"/><stop offset="0.8327" stop-color="#860097"/><stop offset="0.9389" stop-color="#810092"/><stop offset="0.9633" stop-color="#770088"/><stop offset="0.9727" stop-color="#55005f"/><stop offset="0.9906" stop-color="#260025"/><stop offset="1.0000" stop-color="#160013"/></linearGradient><linearGradient id="b2" gradientUnits="userSpaceOnUse" x1="329.00" y1="0" x2="595.00" y2="0"><stop offset="0.0000" stop-color="#0f000d"/><stop offset="1.0000" stop-color="#0b000a"/></linearGradient><linearGradient id="b3" gradientUnits="userSpaceOnUse" x1="329.00" y1="0" x2="595.00" y2="0"><stop offset="0.0000" stop-color="#140011"/><stop offset="0.1974" stop-color="#160013"/><stop offset="0.2011" stop-color="#360039"/><stop offset="0.2049" stop-color="#730083"/><stop offset="0.2068" stop-color="#7a008b"/><stop offset="0.2162" stop-color="#840095"/><stop offset="0.2246" stop-color="#860097"/><stop offset="0.2256" stop-color="#63009e"/><stop offset="0.2265" stop-color="#2300a6"/><stop offset="0.2274" stop-color="#0000b5"/><stop offset="0.2284" stop-color="#0000c4"/><stop offset="0.2312" stop-color="#0000dd"/><stop offset="0.2368" stop-color="#0004dd"/><stop offset="0.2378" stop-color="#0000cb"/><stop offset="0.2500" stop-color="#0000d1"/><stop offset="0.2566" stop-color="#0000dd"/><stop offset="0.2603" stop-color="#000cdd"/><stop offset="0.3026" stop-color="#0022dd"/><stop offset="0.4004" stop-color="#004add"/><stop offset="0.4314" stop-color="#0078dd"/><stop offset="0.4784" stop-color="#009ada"/><stop offset="0.5085" stop-color="#00a4bd"/><stop offset="0.5329" stop-color="#00a6b6"/><stop offset="0.5583" stop-color="#009fcb"/><stop offset="0.5667" stop-color="#009bd7"/><stop offset="0.5677" stop-color="#00a2c4"/><stop offset="0.5855" stop-color="#0097dd"/><stop offset="0.5940" stop-color="#0089dd"/><stop offset="0.6015" stop-color="#0077dd"/><stop offset="0.6128" stop-color="#0018dd"/><stop offset="0.6250" stop-color="#0000dc"/><stop offset="0.6447" stop-color="#0000c4"/><stop offset="0.6617" stop-color="#0000aa"/><stop offset="0.6748" stop-color="#2c00a4"/><stop offset="0.7246" stop-color="#83009a"/><stop offset="0.7321" stop-color="#870098"/><stop offset="0.7378" stop-color="#860097"/><stop offset="0.7387" stop-color="#3600a3"/><stop offset="0.7397" stop-color="#000add"/><stop offset="0.7406" stop-color="#0000dd"/><stop offset="0.7415" stop-color="#0000dd"/><stop offset="0.7425" stop-color="#0000b9"/><stop offset="0.7434" stop-color="#0000c5"/><stop offset="0.7444" stop-color="#0053dd"/><stop offset="0.7453" stop-color="#0094dd"/><stop offset="0.7462" stop-color="#009bd8"/><stop offset="0.7500" stop-color="#009bd8"/><stop offset="0.7509" stop-color="#007add"/><stop offset="0.7519" stop-color="#0000d5"/><stop offset="0.7528" stop-color="#0000af"/><stop offset="0.7556" stop-color="#0000af"/><stop offset="0.7566" stop-color="#000cdd"/><stop offset="0.7575" stop-color="#0083dd"/><stop offset="0.7585" stop-color="#00a9ad"/><stop offset="0.7594" stop-color="#00aa90"/><stop offset="0.7603" stop-color="#00a87a"/><stop offset="0.7641" stop-color="#00a87a"/><stop offset="0.7650" stop-color="#00aa9b"/><stop offset="0.7660" stop-color="#00a3be"/><stop offset="0.7669" stop-color="#009bd8"/><stop offset="0.7754" stop-color="#009bd8"/><stop offset="0.7763" stop-color="#0094dd"/><stop offset="0.7782" stop-color="#007add"/><stop offset="0.7810" stop-color="#007add"/><stop offset="0.7829" stop-color="#0091dd"/><stop offset="0.7838" stop-color="#009bd8"/><stop offset="0.7848" stop-color="#00a2c1"/><stop offset="0.7857" stop-color="#00aaa0"/><stop offset="0.7867" stop-color="#00aa8b"/><stop offset="0.7895" stop-color="#00aa8b"/><stop offset="0.7904" stop-color="#00aaa5"/><stop offset="0.7914" stop-color="#00a0c9"/><stop offset="0.7923" stop-color="#009bd8"/><stop offset="0.7951" stop-color="#009bd8"/><stop offset="0.7961" stop-color="#00aaa9"/><stop offset="0.7970" stop-color="#00aa8a"/><stop offset="0.7979" stop-color="#00a55f"/><stop offset="0.8026" stop-color="#00a55f"/><stop offset="0.8036" stop-color="#00a878"/><stop offset="0.8045" stop-color="#00aaa3"/><stop offset="0.8055" stop-color="#009ecf"/><stop offset="0.8064" stop-color="#009bd8"/><stop offset="0.8167" stop-color="#009bd8"/><stop offset="0.8177" stop-color="#0065dd"/><stop offset="0.8186" stop-color="#0000c9"/><stop offset="0.8195" stop-color="#0000af"/><stop offset="0.8224" stop-color="#0000af"/><stop offset="0.8233" stop-color="#0079dd"/><stop offset="0.8242" stop-color="#009ece"/><stop offset="0.8252" stop-color="#00a7b4"/><stop offset="0.8261" stop-color="#00a7b4"/><stop offset="0.8271" stop-color="#007ddd"/><stop offset="0.8280" stop-color="#0000b1"/><stop offset="0.8289" stop-color="#79008a"/><stop offset="0.8299" stop-color="#800091"/><stop offset="0.9126" stop-color="#740085"/><stop offset="0.9831" stop-color="#240023"/><stop offset="1.0000" stop-color="#150013"/></linearGradient><linearGradient id="b4" gradientUnits="userSpaceOnUse" x1="329.00" y1="0" x2="595.00" y2="0"><stop offset="0.0000" stop-color="#140011"/><stop offset="0.1974" stop-color="#160013"/><stop offset="0.2011" stop-color="#360039"/><stop offset="0.2049" stop-color="#730083"/><stop offset="0.2068" stop-color="#7a008b"/><stop offset="0.2162" stop-color="#840095"/><stop offset="0.2246" stop-color="#860097"/><stop offset="0.2256" stop-color="#63009e"/><stop offset="0.2265" stop-color="#2300a6"/><stop offset="0.2274" stop-color="#0000b5"/><stop offset="0.2284" stop-color="#0000c4"/><stop offset="0.2312" stop-color="#0000dd"/><stop offset="0.2368" stop-color="#0004dd"/><stop offset="0.2378" stop-color="#001cdd"/><stop offset="0.2481" stop-color="#0024dd"/><stop offset="0.2594" stop-color="#0053dd"/><stop offset="0.3017" stop-color="#0069dd"/><stop offset="0.3628" stop-color="#007add"/><stop offset="0.4098" stop-color="#0083dd"/><stop offset="0.4511" stop-color="#009adb"/><stop offset="0.5028" stop-color="#00aaa4"/><stop offset="0.5348" stop-color="#00aa9f"/><stop offset="0.5583" stop-color="#00a9ad"/><stop offset="0.5667" stop-color="#00a5b8"/><stop offset="0.5677" stop-color="#00a2c4"/><stop offset="0.5855" stop-color="#0097dd"/><stop offset="0.5940" stop-color="#0089dd"/><stop offset="0.6015" stop-color="#0077dd"/><stop offset="0.6128" stop-color="#0018dd"/><stop offset="0.6250" stop-color="#0000dc"/><stop offset="0.6447" stop-color="#0000c4"/><stop offset="0.6617" stop-color="#0000aa"/><stop offset="0.6748" stop-color="#2c00a4"/><stop offset="0.7246" stop-color="#83009a"/><stop offset="0.7321" stop-color="#870098"/><stop offset="0.7378" stop-color="#860097"/><stop offset="0.7387" stop-color="#3600a3"/><stop offset="0.7397" stop-color="#000add"/><stop offset="0.7406" stop-color="#0000dd"/><stop offset="0.7415" stop-color="#0000dd"/><stop offset="0.7425" stop-color="#0000b9"/><stop offset="0.7434" stop-color="#0000c5"/><stop offset="0.7444" stop-color="#0053dd"/><stop offset="0.7453" stop-color="#0094dd"/><stop offset="0.7462" stop-color="#009bd8"/><stop offset="0.7500" stop-color="#009bd8"/><stop offset="0.7509" stop-color="#007add"/><stop offset="0.7519" stop-color="#0000d5"/><stop offset="0.7528" stop-color="#0000af"/><stop offset="0.7556" stop-color="#0000af"/><stop offset="0.7566" stop-color="#000cdd"/><stop offset="0.7575" stop-color="#0083dd"/><stop offset="0.7585" stop-color="#00a9ad"/><stop offset="0.7594" stop-color="#00aa90"/><stop offset="0.7603" stop-color="#00a87a"/><stop offset="0.7641" stop-color="#00a87a"/><stop offset="0.7650" stop-color="#00aa9b"/><stop offset="0.7660" stop-color="#00a3be"/><stop offset="0.7669" stop-color="#009bd8"/><stop offset="0.7754" stop-color="#009bd8"/><stop offset="0.7763" stop-color="#0094dd"/><stop offset="0.7782" stop-color="#007add"/><stop offset="0.7810" stop-color="#007add"/><stop offset="0.7829" stop-color="#0091dd"/><stop offset="0.7838" stop-color="#009bd8"/><stop offset="0.7848" stop-color="#00a2c1"/><stop offset="0.7857" stop-color="#00aaa0"/><stop offset="0.7867" stop-color="#00aa8b"/><stop offset="0.7895" stop-color="#00aa8b"/><stop offset="0.7904" stop-color="#00aaa5"/><stop offset="0.7914" stop-color="#00a0c9"/><stop offset="0.7923" stop-color="#009bd8"/><stop offset="0.7951" stop-color="#009bd8"/><stop offset="0.7961" stop-color="#00aaa9"/><stop offset="0.7970" stop-color="#00aa8a"/><stop offset="0.7979" stop-color="#00a55f"/><stop offset="0.8026" stop-color="#00a55f"/><stop offset="0.8036" stop-color="#00a878"/><stop offset="0.8045" stop-color="#00aaa3"/><stop offset="0.8055" stop-color="#009ecf"/><stop offset="0.8064" stop-color="#009bd8"/><stop offset="0.8167" stop-color="#009bd8"/><stop offset="0.8177" stop-color="#0065dd"/><stop offset="0.8186" stop-color="#0000c9"/><stop offset="0.8195" stop-color="#0000af"/><stop offset="0.8224" stop-color="#0000af"/><stop offset="0.8233" stop-color="#0079dd"/><stop offset="0.8242" stop-color="#009ece"/><stop offset="0.8252" stop-color="#00a7b4"/><stop offset="0.8261" stop-color="#00a7b4"/><stop offset="0.8271" stop-color="#007ddd"/><stop offset="0.8280" stop-color="#0000b1"/><stop offset="0.8289" stop-color="#79008a"/><stop offset="0.8299" stop-color="#7f0090"/><stop offset="0.9079" stop-color="#750085"/><stop offset="0.9821" stop-color="#230023"/><stop offset="1.0000" stop-color="#140012"/></linearGradient><linearGradient id="b5" gradientUnits="userSpaceOnUse" x1="329.00" y1="0" x2="595.00" y2="0"><stop offset="0.0000" stop-color="#140011"/><stop offset="0.1974" stop-color="#160013"/><stop offset="0.2011" stop-color="#360039"/><stop offset="0.2049" stop-color="#730083"/><stop offset="0.2068" stop-color="#7a008b"/><stop offset="0.2162" stop-color="#840095"/><stop offset="0.2246" stop-color="#860097"/><stop offset="0.2256" stop-color="#63009e"/><stop offset="0.2265" stop-color="#2300a6"/><stop offset="0.2274" stop-color="#0000b5"/><stop offset="0.2284" stop-color="#0000c4"/><stop offset="0.2312" stop-color="#0000dd"/><stop offset="0.2481" stop-color="#000cdd"/><stop offset="0.2594" stop-color="#003cdd"/><stop offset="0.3017" stop-color="#0052dd"/><stop offset="0.4380" stop-color="#0089dd"/><stop offset="0.4605" stop-color="#009ada"/><stop offset="0.5075" stop-color="#00aaa9"/><stop offset="0.5348" stop-color="#00aaa5"/><stop offset="0.5564" stop-color="#00a7b4"/><stop offset="0.5855" stop-color="#0097dd"/><stop offset="0.5940" stop-color="#0089dd"/><stop offset="0.6015" stop-color="#0077dd"/><stop offset="0.6128" stop-color="#0018dd"/><stop offset="0.6250" stop-color="#0000dc"/><stop offset="0.6447" stop-color="#0000c4"/><stop offset="0.6617" stop-color="#0000aa"/><stop offset="0.6748" stop-color="#2c00a4"/><stop offset="0.7246" stop-color="#83009a"/><stop offset="0.7321" stop-color="#870098"/><stop offset="0.7378" stop-color="#860097"/><stop offset="0.7387" stop-color="#3600a3"/><stop offset="0.7397" stop-color="#000add"/><stop offset="0.7406" stop-color="#0000dd"/><stop offset="0.7415" stop-color="#0000dd"/><stop offset="0.7425" stop-color="#0000b9"/><stop offset="0.7434" stop-color="#0000c5"/><stop offset="0.7444" stop-color="#0053dd"/><stop offset="0.7453" stop-color="#0094dd"/><stop offset="0.7462" stop-color="#009bd8"/><stop offset="0.7500" stop-color="#009bd8"/><stop offset="0.7509" stop-color="#007add"/><stop offset="0.7519" stop-color="#0000d5"/><stop offset="0.7528" stop-color="#0000af"/><stop offset="0.7556" stop-color="#0000af"/><stop offset="0.7566" stop-color="#000cdd"/><stop offset="0.7575" stop-color="#0083dd"/><stop offset="0.7585" stop-color="#00a9ad"/><stop offset="0.7594" stop-color="#00aa90"/><stop offset="0.7603" stop-color="#00a87a"/><stop offset="0.7641" stop-color="#00a87a"/><stop offset="0.7650" stop-color="#00aa9b"/><stop offset="0.7660" stop-color="#00a3be"/><stop offset="0.7669" stop-color="#009bd8"/><stop offset="0.7754" stop-color="#009bd8"/><stop offset="0.7763" stop-color="#0094dd"/><stop offset="0.7782" stop-color="#007add"/><stop offset="0.7810" stop-color="#007add"/><stop offset="0.7829" stop-color="#0091dd"/><stop offset="0.7838" stop-color="#009bd8"/><stop offset="0.7848" stop-color="#00a2c1"/><stop offset="0.7857" stop-color="#00aaa0"/><stop offset="0.7867" stop-color="#00aa8b"/><stop offset="0.7895" stop-color="#00aa8b"/><stop offset="0.7904" stop-color="#00aaa5"/><stop offset="0.7914" stop-color="#00a0c9"/><stop offset="0.7923" stop-color="#009bd8"/><stop offset="0.7951" stop-color="#009bd8"/><stop offset="0.7961" stop-color="#00aaa9"/><stop offset="0.7970" stop-color="#00aa8a"/><stop offset="0.7979" stop-color="#00a55f"/><stop offset="0.8026" stop-color="#00a55f"/><stop offset="0.8036" stop-color="#00a878"/><stop offset="0.8045" stop-color="#00aaa3"/><stop offset="0.8055" stop-color="#009ecf"/><stop offset="0.8064" stop-color="#009bd8"/><stop offset="0.8167" stop-color="#009bd8"/><stop offset="0.8177" stop-color="#0065dd"/><stop offset="0.8186" stop-color="#0000c9"/><stop offset="0.8195" stop-color="#0000af"/><stop offset="0.8224" stop-color="#0000af"/><stop offset="0.8233" stop-color="#0079dd"/><stop offset="0.8242" stop-color="#009ece"/><stop offset="0.8252" stop-color="#00a7b4"/><stop offset="0.8261" stop-color="#00a7b4"/><stop offset="0.8271" stop-color="#007ddd"/><stop offset="0.8280" stop-color="#0000b1"/><stop offset="0.8289" stop-color="#79008a"/><stop offset="0.8844" stop-color="#750085"/><stop offset="0.9539" stop-color="#350038"/><stop offset="0.9850" stop-color="#1d001b"/><stop offset="1.0000" stop-color="#11000f"/></linearGradient><linearGradient id="b6" gradientUnits="userSpaceOnUse" x1="329.00" y1="0" x2="595.00" y2="0"><stop offset="0.0000" stop-color="#140011"/><stop offset="0.1974" stop-color="#160013"/><stop offset="0.2011" stop-color="#360039"/><stop offset="0.2049" stop-color="#730083"/><stop offset="0.2068" stop-color="#7a008b"/><stop offset="0.2162" stop-color="#840095"/><stop offset="0.2246" stop-color="#860097"/><stop offset="0.2256" stop-color="#63009e"/><stop offset="0.2265" stop-color="#2300a6"/><stop offset="0.2274" stop-color="#0000b5"/><stop offset="0.2284" stop-color="#0000c4"/><stop offset="0.2312" stop-color="#0000dd"/><stop offset="0.2368" stop-color="#0004dd"/><stop offset="0.2378" stop-color="#0011dd"/><stop offset="0.2481" stop-color="#0018dd"/><stop offset="0.2594" stop-color="#0047dd"/><stop offset="0.3017" stop-color="#005ddd"/><stop offset="0.3844" stop-color="#0079dd"/><stop offset="0.4229" stop-color="#0085dd"/><stop offset="0.4558" stop-color="#009ada"/><stop offset="0.5047" stop-color="#00aaa6"/><stop offset="0.5348" stop-color="#00aaa2"/><stop offset="0.5564" stop-color="#00a8af"/><stop offset="0.5667" stop-color="#00a4bd"/><stop offset="0.5686" stop-color="#00a1c5"/><stop offset="0.5855" stop-color="#0097dd"/><stop offset="0.5940" stop-color="#0089dd"/><stop offset="0.6015" stop-color="#0077dd"/><stop offset="0.6128" stop-color="#0018dd"/><stop offset="0.6250" stop-color="#0000dc"/><stop offset="0.6447" stop-color="#0000c4"/><stop offset="0.6617" stop-color="#0000aa"/><stop offset="0.6748" stop-color="#2c00a4"/><stop offset="0.7246" stop-color="#83009a"/><stop offset="0.7321" stop-color="#870098"/><stop offset="0.7378" stop-color="#860097"/><stop offset="0.7387" stop-color="#3600a3"/><stop offset="0.7397" stop-color="#000add"/><stop offset="0.7406" stop-color="#0000dd"/><stop offset="0.7415" stop-color="#0000dd"/><stop offset="0.7425" stop-color="#0000b9"/><stop offset="0.7434" stop-color="#0000c5"/><stop offset="0.7444" stop-color="#0053dd"/><stop offset="0.7453" stop-color="#0094dd"/><stop offset="0.7462" stop-color="#009bd8"/><stop offset="0.7500" stop-color="#009bd8"/><stop offset="0.7509" stop-color="#007add"/><stop offset="0.7519" stop-color="#0000d5"/><stop offset="0.7528" stop-color="#0000af"/><stop offset="0.7556" stop-color="#0000af"/><stop offset="0.7566" stop-color="#000cdd"/><stop offset="0.7575" stop-color="#0083dd"/><stop offset="0.7585" stop-color="#00a9ad"/><stop offset="0.7594" stop-color="#00aa90"/><stop offset="0.7603" stop-color="#00a87a"/><stop offset="0.7641" stop-color="#00a87a"/><stop offset="0.7650" stop-color="#00aa9b"/><stop offset="0.7660" stop-color="#00a3be"/><stop offset="0.7669" stop-color="#009bd8"/><stop offset="0.7754" stop-color="#009bd8"/><stop offset="0.7763" stop-color="#0094dd"/><stop offset="0.7782" stop-color="#007add"/><stop offset="0.7810" stop-color="#007add"/><stop offset="0.7829" stop-color="#0091dd"/><stop offset="0.7838" stop-color="#009bd8"/><stop offset="0.7848" stop-color="#00a2c1"/><stop offset="0.7857" stop-color="#00aaa0"/><stop offset="0.7867" stop-color="#00aa8b"/><stop offset="0.7895" stop-color="#00aa8b"/><stop offset="0.7904" stop-color="#00aaa5"/><stop offset="0.7914" stop-color="#00a0c9"/><stop offset="0.7923" stop-color="#009bd8"/><stop offset="0.7951" stop-color="#009bd8"/><stop offset="0.7961" stop-color="#00aaa9"/><stop offset="0.7970" stop-color="#00aa8a"/><stop offset="0.7979" stop-color="#00a55f"/><stop offset="0.8026" stop-color="#00a55f"/><stop offset="0.8036" stop-color="#00a878"/><stop offset="0.8045" stop-color="#00aaa3"/><stop offset="0.8055" stop-color="#009ecf"/><stop offset="0.8064" stop-color="#009bd8"/><stop offset="0.8167" stop-color="#009bd8"/><stop offset="0.8177" stop-color="#0065dd"/><stop offset="0.8186" stop-color="#0000c9"/><stop offset="0.8195" stop-color="#0000af"/><stop offset="0.8224" stop-color="#0000af"/><stop offset="0.8233" stop-color="#0079dd"/><stop offset="0.8242" stop-color="#009ece"/><stop offset="0.8252" stop-color="#00a7b4"/><stop offset="0.8261" stop-color="#00a7b4"/><stop offset="0.8271" stop-color="#007ddd"/><stop offset="0.8280" stop-color="#0000b1"/><stop offset="0.8289" stop-color="#79008a"/><stop offset="0.8769" stop-color="#750085"/><stop offset="0.9427" stop-color="#3e0042"/><stop offset="0.9746" stop-color="#220021"/><stop offset="1.0000" stop-color="#11000f"/></linearGradient><linearGradient id="b7" gradientUnits="userSpaceOnUse" x1="329.00" y1="0" x2="595.00" y2="0"><stop offset="0.0000" stop-color="#140011"/><stop offset="0.1974" stop-color="#160013"/><stop offset="0.2011" stop-color="#360039"/><stop offset="0.2049" stop-color="#730083"/><stop offset="0.2068" stop-color="#7a008b"/><stop offset="0.2162" stop-color="#840095"/><stop offset="0.2246" stop-color="#860097"/><stop offset="0.2256" stop-color="#63009e"/><stop offset="0.2265" stop-color="#2300a6"/><stop offset="0.2274" stop-color="#0000b5"/><stop offset="0.2284" stop-color="#0000c4"/><stop offset="0.2312" stop-color="#0000dd"/><stop offset="0.2368" stop-color="#0004dd"/><stop offset="0.2406" stop-color="#0000db"/><stop offset="0.2481" stop-color="#0000dd"/><stop offset="0.2594" stop-color="#0030dd"/><stop offset="0.3017" stop-color="#0046dd"/><stop offset="0.4004" stop-color="#006edd"/><stop offset="0.4107" stop-color="#0079dd"/><stop offset="0.4502" stop-color="#0090dd"/><stop offset="0.4652" stop-color="#009ada"/><stop offset="0.5075" stop-color="#00a9ae"/><stop offset="0.5348" stop-color="#00aaa9"/><stop offset="0.5573" stop-color="#00a4bb"/><stop offset="0.5667" stop-color="#00a0c7"/><stop offset="0.5686" stop-color="#00a1c5"/><stop offset="0.5855" stop-color="#0097dd"/><stop offset="0.5940" stop-color="#0089dd"/><stop offset="0.6015" stop-color="#0077dd"/><stop offset="0.6128" stop-color="#0018dd"/><stop offset="0.6250" stop-color="#0000dc"/><stop offset="0.6447" stop-color="#0000c4"/><stop offset="0.6617" stop-color="#0000aa"/><stop offset="0.6748" stop-color="#2c00a4"/><stop offset="0.7246" stop-color="#83009a"/><stop offset="0.7321" stop-color="#870098"/><stop offset="0.7378" stop-color="#860097"/><stop offset="0.7387" stop-color="#3600a3"/><stop offset="0.7397" stop-color="#000add"/><stop offset="0.7406" stop-color="#0000dd"/><stop offset="0.7425" stop-color="#0000dd"/><stop offset="0.7434" stop-color="#001cdd"/><stop offset="0.7444" stop-color="#0085dd"/><stop offset="0.7453" stop-color="#00a3c0"/><stop offset="0.7462" stop-color="#00a7b4"/><stop offset="0.7500" stop-color="#00a7b4"/><stop offset="0.7509" stop-color="#0092dd"/><stop offset="0.7519" stop-color="#0041dd"/><stop offset="0.7528" stop-color="#0000d3"/><stop offset="0.7556" stop-color="#0000d3"/><stop offset="0.7566" stop-color="#005fdd"/><stop offset="0.7575" stop-color="#009ada"/><stop offset="0.7585" stop-color="#00aa94"/><stop offset="0.7594" stop-color="#00a249"/><stop offset="0.7603" stop-color="#009c1b"/><stop offset="0.7641" stop-color="#009c1b"/><stop offset="0.7650" stop-color="#00a876"/><stop offset="0.7660" stop-color="#00aaa0"/><stop offset="0.7669" stop-color="#00a7b4"/><stop offset="0.7754" stop-color="#00a7b4"/><stop offset="0.7763" stop-color="#00a2c1"/><stop offset="0.7773" stop-color="#009bd6"/><stop offset="0.7782" stop-color="#0092dd"/><stop offset="0.7810" stop-color="#0092dd"/><stop offset="0.7820" stop-color="#009ada"/><stop offset="0.7848" stop-color="#00aaa2"/><stop offset="0.7857" stop-color="#00aa88"/><stop offset="0.7867" stop-color="#00a036"/><stop offset="0.7895" stop-color="#00a036"/><stop offset="0.7904" stop-color="#00aa8d"/><stop offset="0.7914" stop-color="#00aaa7"/><stop offset="0.7923" stop-color="#00a7b4"/><stop offset="0.7951" stop-color="#00a7b4"/><stop offset="0.7961" stop-color="#00aa92"/><stop offset="0.7970" stop-color="#009f32"/><stop offset="0.7979" stop-color="#009900"/><stop offset="0.8026" stop-color="#009900"/><stop offset="0.8036" stop-color="#009c19"/><stop offset="0.8045" stop-color="#00aa8b"/><stop offset="0.8055" stop-color="#00aaab"/><stop offset="0.8064" stop-color="#00a7b4"/><stop offset="0.8167" stop-color="#00a7b4"/><stop offset="0.8177" stop-color="#008add"/><stop offset="0.8186" stop-color="#0024dd"/><stop offset="0.8195" stop-color="#0000d3"/><stop offset="0.8224" stop-color="#0000d3"/><stop offset="0.8233" stop-color="#0079dd"/><stop offset="0.8242" stop-color="#009ece"/><stop offset="0.8252" stop-color="#00a7b4"/><stop offset="0.8261" stop-color="#00a7b4"/><stop offset="0.8271" stop-color="#007ddd"/><stop offset="0.8280" stop-color="#0000b1"/><stop offset="0.8289" stop-color="#79008a"/><stop offset="0.8590" stop-color="#740084"/><stop offset="0.9323" stop-color="#400045"/><stop offset="0.9680" stop-color="#230022"/><stop offset="1.0000" stop-color="#0f000d"/></linearGradient><linearGradient id="b8" gradientUnits="userSpaceOnUse" x1="329.00" y1="0" x2="595.00" y2="0"><stop offset="0.0000" stop-color="#140011"/><stop offset="0.1974" stop-color="#160013"/><stop offset="0.2011" stop-color="#360039"/><stop offset="0.2049" stop-color="#730083"/><stop offset="0.2068" stop-color="#7a008b"/><stop offset="0.2162" stop-color="#840095"/><stop offset="0.2246" stop-color="#860097"/><stop offset="0.2256" stop-color="#63009e"/><stop offset="0.2265" stop-color="#2300a6"/><stop offset="0.2274" stop-color="#0000b5"/><stop offset="0.2284" stop-color="#0000c4"/><stop offset="0.2312" stop-color="#0000dd"/><stop offset="0.2481" stop-color="#000cdd"/><stop offset="0.2594" stop-color="#003cdd"/><stop offset="0.3017" stop-color="#0052dd"/><stop offset="0.4380" stop-color="#0089dd"/><stop offset="0.4605" stop-color="#009ada"/><stop offset="0.5075" stop-color="#00aaa9"/><stop offset="0.5348" stop-color="#00aaa5"/><stop offset="0.5564" stop-color="#00a7b4"/><stop offset="0.5855" stop-color="#0097dd"/><stop offset="0.5940" stop-color="#0089dd"/><stop offset="0.6015" stop-color="#0077dd"/><stop offset="0.6128" stop-color="#0018dd"/><stop offset="0.6250" stop-color="#0000dc"/><stop offset="0.6447" stop-color="#0000c4"/><stop offset="0.6617" stop-color="#0000aa"/><stop offset="0.6748" stop-color="#2c00a4"/><stop offset="0.7246" stop-color="#83009a"/><stop offset="0.7321" stop-color="#870098"/><stop offset="0.7378" stop-color="#860097"/><stop offset="0.7387" stop-color="#3600a3"/><stop offset="0.7397" stop-color="#000add"/><stop offset="0.7406" stop-color="#0000dd"/><stop offset="0.7425" stop-color="#0000dd"/><stop offset="0.7434" stop-color="#001cdd"/><stop offset="0.7444" stop-color="#0085dd"/><stop offset="0.7453" stop-color="#00a3c0"/><stop offset="0.7462" stop-color="#00a7b4"/><stop offset="0.7500" stop-color="#00a7b4"/><stop offset="0.7509" stop-color="#0092dd"/><stop offset="0.7519" stop-color="#0041dd"/><stop offset="0.7528" stop-color="#0000d3"/><stop offset="0.7556" stop-color="#0000d3"/><stop offset="0.7566" stop-color="#005fdd"/><stop offset="0.7575" stop-color="#009ada"/><stop offset="0.7585" stop-color="#00aa94"/><stop offset="0.7594" stop-color="#00a249"/><stop offset="0.7603" stop-color="#009c1b"/><stop offset="0.7641" stop-color="#009c1b"/><stop offset="0.7650" stop-color="#00a876"/><stop offset="0.7660" stop-color="#00aaa0"/><stop offset="0.7669" stop-color="#00a7b4"/><stop offset="0.7754" stop-color="#00a7b4"/><stop offset="0.7763" stop-color="#00a2c1"/><stop offset="0.7773" stop-color="#009bd6"/><stop offset="0.7782" stop-color="#0092dd"/><stop offset="0.7810" stop-color="#0092dd"/><stop offset="0.7820" stop-color="#009ada"/><stop offset="0.7848" stop-color="#00aaa2"/><stop offset="0.7857" stop-color="#00aa88"/><stop offset="0.7867" stop-color="#00a036"/><stop offset="0.7895" stop-color="#00a036"/><stop offset="0.7904" stop-color="#00aa8d"/><stop offset="0.7914" stop-color="#00aaa7"/><stop offset="0.7923" stop-color="#00a7b4"/><stop offset="0.7951" stop-color="#00a7b4"/><stop offset="0.7961" stop-color="#00aa92"/><stop offset="0.7970" stop-color="#009f32"/><stop offset="0.7979" stop-color="#009900"/><stop offset="0.8026" stop-color="#009900"/><stop offset="0.8036" stop-color="#009c19"/><stop offset="0.8045" stop-color="#00aa8b"/><stop offset="0.8055" stop-color="#00aaab"/><stop offset="0.8064" stop-color="#00a7b4"/><stop offset="0.8167" stop-color="#00a7b4"/><stop offset="0.8177" stop-color="#008add"/><stop offset="0.8186" stop-color="#0024dd"/><stop offset="0.8195" stop-color="#0000d3"/><stop offset="0.8224" stop-color="#0000d3"/><stop offset="0.8233" stop-color="#0079dd"/><stop offset="0.8242" stop-color="#009ece"/><stop offset="0.8252" stop-color="#00a7b4"/><stop offset="0.8261" stop-color="#00a7b4"/><stop offset="0.8271" stop-color="#007ddd"/><stop offset="0.8280" stop-color="#0000b1"/><stop offset="0.8289" stop-color="#79008a"/><stop offset="0.8590" stop-color="#740084"/><stop offset="0.9323" stop-color="#400045"/><stop offset="0.9680" stop-color="#230022"/><stop offset="1.0000" stop-color="#0f000d"/></linearGradient><linearGradient id="b9" gradientUnits="userSpaceOnUse" x1="329.00" y1="0" x2="595.00" y2="0"><stop offset="0.0000" stop-color="#140011"/><stop offset="0.1974" stop-color="#160013"/><stop offset="0.2011" stop-color="#360039"/><stop offset="0.2049" stop-color="#730083"/><stop offset="0.2068" stop-color="#7a008b"/><stop offset="0.2162" stop-color="#840095"/><stop offset="0.2246" stop-color="#860097"/><stop offset="0.2256" stop-color="#63009e"/><stop offset="0.2265" stop-color="#2300a6"/><stop offset="0.2274" stop-color="#0000b5"/><stop offset="0.2284" stop-color="#0000c4"/><stop offset="0.2312" stop-color="#0000dd"/><stop offset="0.2368" stop-color="#0004dd"/><stop offset="0.2378" stop-color="#0011dd"/><stop offset="0.2481" stop-color="#0018dd"/><stop offset="0.2594" stop-color="#0047dd"/><stop offset="0.3017" stop-color="#005ddd"/><stop offset="0.3844" stop-color="#0079dd"/><stop offset="0.4229" stop-color="#0085dd"/><stop offset="0.4558" stop-color="#009ada"/><stop offset="0.5047" stop-color="#00aaa6"/><stop offset="0.5348" stop-color="#00aaa2"/><stop offset="0.5564" stop-color="#00a8af"/><stop offset="0.5667" stop-color="#00a4bd"/><stop offset="0.5686" stop-color="#00a1c5"/><stop offset="0.5855" stop-color="#0097dd"/><stop offset="0.5940" stop-color="#0089dd"/><stop offset="0.6015" stop-color="#0077dd"/><stop offset="0.6128" stop-color="#0018dd"/><stop offset="0.6250" stop-color="#0000dc"/><stop offset="0.6447" stop-color="#0000c4"/><stop offset="0.6617" stop-color="#0000aa"/><stop offset="0.6748" stop-color="#2c00a4"/><stop offset="0.7246" stop-color="#83009a"/><stop offset="0.7321" stop-color="#870098"/><stop offset="0.7378" stop-color="#860097"/><stop offset="0.7387" stop-color="#3600a3"/><stop offset="0.7397" stop-color="#000add"/><stop offset="0.7406" stop-color="#0000dd"/><stop offset="0.7425" stop-color="#0000dd"/><stop offset="0.7434" stop-color="#001cdd"/><stop offset="0.7444" stop-color="#0085dd"/><stop offset="0.7453" stop-color="#00a3c0"/><stop offset="0.7462" stop-color="#00a7b4"/><stop offset="0.7500" stop-color="#00a7b4"/><stop offset="0.7509" stop-color="#0092dd"/><stop offset="0.7519" stop-color="#0041dd"/><stop offset="0.7528" stop-color="#0000d3"/><stop offset="0.7556" stop-color="#0000d3"/><stop offset="0.7566" stop-color="#005fdd"/><stop offset="0.7575" stop-color="#009ada"/><stop offset="0.7585" stop-color="#00aa94"/><stop offset="0.7594" stop-color="#00a249"/><stop offset="0.7603" stop-color="#009c1b"/><stop offset="0.7641" stop-color="#009c1b"/><stop offset="0.7650" stop-color="#00a876"/><stop offset="0.7660" stop-color="#00aaa0"/><stop offset="0.7669" stop-color="#00a7b4"/><stop offset="0.7754" stop-color="#00a7b4"/><stop offset="0.7763" stop-color="#00a2c1"/><stop offset="0.7773" stop-color="#009bd6"/><stop offset="0.7782" stop-color="#0092dd"/><stop offset="0.7810" stop-color="#0092dd"/><stop offset="0.7820" stop-color="#009ada"/><stop offset="0.7848" stop-color="#00aaa2"/><stop offset="0.7857" stop-color="#00aa88"/><stop offset="0.7867" stop-color="#00a036"/><stop offset="0.7895" stop-color="#00a036"/><stop offset="0.7904" stop-color="#00aa8d"/><stop offset="0.7914" stop-color="#00aaa7"/><stop offset="0.7923" stop-color="#00a7b4"/><stop offset="0.7951" stop-color="#00a7b4"/><stop offset="0.7961" stop-color="#00aa92"/><stop offset="0.7970" stop-color="#009f32"/><stop offset="0.7979" stop-color="#009900"/><stop offset="0.8026" stop-color="#009900"/><stop offset="0.8036" stop-color="#009c19"/><stop offset="0.8045" stop-color="#00aa8b"/><stop offset="0.8055" stop-color="#00aaab"/><stop offset="0.8064" stop-color="#00a7b4"/><stop offset="0.8167" stop-color="#00a7b4"/><stop offset="0.8177" stop-color="#008add"/><stop offset="0.8186" stop-color="#0024dd"/><stop offset="0.8195" stop-color="#0000d3"/><stop offset="0.8224" stop-color="#0000d3"/><stop offset="0.8233" stop-color="#0079dd"/><stop offset="0.8242" stop-color="#009ece"/><stop offset="0.8252" stop-color="#00a7b4"/><stop offset="0.8261" stop-color="#00a7b4"/><stop offset="0.8271" stop-color="#007ddd"/><stop offset="0.8280" stop-color="#0000b1"/><stop offset="0.8289" stop-color="#79008a"/><stop offset="0.8590" stop-color="#740084"/><stop offset="0.9323" stop-color="#400045"/><stop offset="0.9680" stop-color="#230022"/><stop offset="1.0000" stop-color="#0f000d"/></linearGradient><linearGradient id="b10" gradientUnits="userSpaceOnUse" x1="329.00" y1="0" x2="595.00" y2="0"><stop offset="0.0000" stop-color="#140011"/><stop offset="0.1974" stop-color="#160013"/><stop offset="0.2011" stop-color="#360039"/><stop offset="0.2049" stop-color="#730083"/><stop offset="0.2068" stop-color="#7a008b"/><stop offset="0.2162" stop-color="#840095"/><stop offset="0.2246" stop-color="#860097"/><stop offset="0.2256" stop-color="#63009e"/><stop offset="0.2265" stop-color="#2300a6"/><stop offset="0.2274" stop-color="#0000b5"/><stop offset="0.2284" stop-color="#0000c4"/><stop offset="0.2312" stop-color="#0000dd"/><stop offset="0.2481" stop-color="#000cdd"/><stop offset="0.2594" stop-color="#003cdd"/><stop offset="0.3017" stop-color="#0052dd"/><stop offset="0.4380" stop-color="#0089dd"/><stop offset="0.4605" stop-color="#009ada"/><stop offset="0.5075" stop-color="#00aaa9"/><stop offset="0.5348" stop-color="#00aaa5"/><stop offset="0.5564" stop-color="#00a7b4"/><stop offset="0.5855" stop-color="#0097dd"/><stop offset="0.5940" stop-color="#0089dd"/><stop offset="0.6015" stop-color="#0077dd"/><stop offset="0.6128" stop-color="#0018dd"/><stop offset="0.6250" stop-color="#0000dc"/><stop offset="0.6447" stop-color="#0000c4"/><stop offset="0.6617" stop-color="#0000aa"/><stop offset="0.6748" stop-color="#2c00a4"/><stop offset="0.7246" stop-color="#83009a"/><stop offset="0.7321" stop-color="#870098"/><stop offset="0.7378" stop-color="#860097"/><stop offset="0.7387" stop-color="#3600a3"/><stop offset="0.7397" stop-color="#000add"/><stop offset="0.7406" stop-color="#0000dd"/><stop offset="0.7425" stop-color="#0000dd"/><stop offset="0.7434" stop-color="#001cdd"/><stop offset="0.7444" stop-color="#0085dd"/><stop offset="0.7453" stop-color="#00a3c0"/><stop offset="0.7462" stop-color="#00a7b4"/><stop offset="0.7500" stop-color="#00a7b4"/><stop offset="0.7509" stop-color="#0092dd"/><stop offset="0.7519" stop-color="#0041dd"/><stop offset="0.7528" stop-color="#0000d3"/><stop offset="0.7556" stop-color="#0000d3"/><stop offset="0.7566" stop-color="#005fdd"/><stop offset="0.7575" stop-color="#009ada"/><stop offset="0.7585" stop-color="#00aa94"/><stop offset="0.7594" stop-color="#00a249"/><stop offset="0.7603" stop-color="#009c1b"/><stop offset="0.7641" stop-color="#009c1b"/><stop offset="0.7650" stop-color="#00a876"/><stop offset="0.7660" stop-color="#00aaa0"/><stop offset="0.7669" stop-color="#00a7b4"/><stop offset="0.7754" stop-color="#00a7b4"/><stop offset="0.7763" stop-color="#00a2c1"/><stop offset="0.7773" stop-color="#009bd6"/><stop offset="0.7782" stop-color="#0092dd"/><stop offset="0.7810" stop-color="#0092dd"/><stop offset="0.7820" stop-color="#009ada"/><stop offset="0.7848" stop-color="#00aaa2"/><stop offset="0.7857" stop-color="#00aa88"/><stop offset="0.7867" stop-color="#00a036"/><stop offset="0.7895" stop-color="#00a036"/><stop offset="0.7904" stop-color="#00aa8d"/><stop offset="0.7914" stop-color="#00aaa7"/><stop offset="0.7923" stop-color="#00a7b4"/><stop offset="0.7951" stop-color="#00a7b4"/><stop offset="0.7961" stop-color="#00aa92"/><stop offset="0.7970" stop-color="#009f32"/><stop offset="0.7979" stop-color="#009900"/><stop offset="0.8026" stop-color="#009900"/><stop offset="0.8036" stop-color="#009c19"/><stop offset="0.8045" stop-color="#00aa8b"/><stop offset="0.8055" stop-color="#00aaab"/><stop offset="0.8064" stop-color="#00a7b4"/><stop offset="0.8167" stop-color="#00a7b4"/><stop offset="0.8177" stop-color="#008add"/><stop offset="0.8186" stop-color="#0024dd"/><stop offset="0.8195" stop-color="#0000d3"/><stop offset="0.8224" stop-color="#0000d3"/><stop offset="0.8233" stop-color="#0079dd"/><stop offset="0.8242" stop-color="#009ece"/><stop offset="0.8252" stop-color="#00a7b4"/><stop offset="0.8261" stop-color="#00a7b4"/><stop offset="0.8271" stop-color="#007ddd"/><stop offset="0.8280" stop-color="#0000b1"/><stop offset="0.8289" stop-color="#79008a"/><stop offset="0.8590" stop-color="#740084"/><stop offset="0.9323" stop-color="#400045"/><stop offset="0.9680" stop-color="#230022"/><stop offset="1.0000" stop-color="#0f000d"/></linearGradient><linearGradient id="b11" gradientUnits="userSpaceOnUse" x1="329.00" y1="0" x2="595.00" y2="0"><stop offset="0.0000" stop-color="#140011"/><stop offset="0.1974" stop-color="#160013"/><stop offset="0.2011" stop-color="#360039"/><stop offset="0.2049" stop-color="#730083"/><stop offset="0.2068" stop-color="#7a008b"/><stop offset="0.2162" stop-color="#840095"/><stop offset="0.2246" stop-color="#860097"/><stop offset="0.2256" stop-color="#63009e"/><stop offset="0.2265" stop-color="#2300a6"/><stop offset="0.2274" stop-color="#0000b5"/><stop offset="0.2284" stop-color="#0000c4"/><stop offset="0.2312" stop-color="#0000dd"/><stop offset="0.2368" stop-color="#0004dd"/><stop offset="0.2406" stop-color="#0000db"/><stop offset="0.2481" stop-color="#0000dd"/><stop offset="0.2594" stop-color="#0030dd"/><stop offset="0.3017" stop-color="#0046dd"/><stop offset="0.4004" stop-color="#006edd"/><stop offset="0.4107" stop-color="#0079dd"/><stop offset="0.4502" stop-color="#0090dd"/><stop offset="0.4652" stop-color="#009ada"/><stop offset="0.5075" stop-color="#00a9ae"/><stop offset="0.5348" stop-color="#00aaa9"/><stop offset="0.5573" stop-color="#00a4bb"/><stop offset="0.5667" stop-color="#00a0c7"/><stop offset="0.5686" stop-color="#00a1c5"/><stop offset="0.5855" stop-color="#0097dd"/><stop offset="0.5940" stop-color="#0089dd"/><stop offset="0.6015" stop-color="#0077dd"/><stop offset="0.6128" stop-color="#0018dd"/><stop offset="0.6250" stop-color="#0000dc"/><stop offset="0.6447" stop-color="#0000c4"/><stop offset="0.6617" stop-color="#0000aa"/><stop offset="0.6748" stop-color="#2c00a4"/><stop offset="0.7246" stop-color="#83009a"/><stop offset="0.7321" stop-color="#870098"/><stop offset="0.7378" stop-color="#860097"/><stop offset="0.7387" stop-color="#3600a3"/><stop offset="0.7397" stop-color="#000add"/><stop offset="0.7406" stop-color="#0000dd"/><stop offset="0.7425" stop-color="#0000dd"/><stop offset="0.7434" stop-color="#001cdd"/><stop offset="0.7444" stop-color="#0085dd"/><stop offset="0.7453" stop-color="#00a3c0"/><stop offset="0.7462" stop-color="#00a7b4"/><stop offset="0.7500" stop-color="#00a7b4"/><stop offset="0.7509" stop-color="#0092dd"/><stop offset="0.7519" stop-color="#0041dd"/><stop offset="0.7528" stop-color="#0000d3"/><stop offset="0.7556" stop-color="#0000d3"/><stop offset="0.7566" stop-color="#005fdd"/><stop offset="0.7575" stop-color="#009ada"/><stop offset="0.7585" stop-color="#00aa94"/><stop offset="0.7594" stop-color="#00a249"/><stop offset="0.7603" stop-color="#009c1b"/><stop offset="0.7641" stop-color="#009c1b"/><stop offset="0.7650" stop-color="#00a876"/><stop offset="0.7660" stop-color="#00aaa0"/><stop offset="0.7669" stop-color="#00a7b4"/><stop offset="0.7754" stop-color="#00a7b4"/><stop offset="0.7763" stop-color="#00a2c1"/><stop offset="0.7773" stop-color="#009bd6"/><stop offset="0.7782" stop-color="#0092dd"/><stop offset="0.7810" stop-color="#0092dd"/><stop offset="0.7820" stop-color="#009ada"/><stop offset="0.7848" stop-color="#00aaa2"/><stop offset="0.7857" stop-color="#00aa88"/><stop offset="0.7867" stop-color="#00a036"/><stop offset="0.7895" stop-color="#00a036"/><stop offset="0.7904" stop-color="#00aa8d"/><stop offset="0.7914" stop-color="#00aaa7"/><stop offset="0.7923" stop-color="#00a7b4"/><stop offset="0.7951" stop-color="#00a7b4"/><stop offset="0.7961" stop-color="#00aa92"/><stop offset="0.7970" stop-color="#009f32"/><stop offset="0.7979" stop-color="#009900"/><stop offset="0.8026" stop-color="#009900"/><stop offset="0.8036" stop-color="#009c19"/><stop offset="0.8045" stop-color="#00aa8b"/><stop offset="0.8055" stop-color="#00aaab"/><stop offset="0.8064" stop-color="#00a7b4"/><stop offset="0.8167" stop-color="#00a7b4"/><stop offset="0.8177" stop-color="#008add"/><stop offset="0.8186" stop-color="#0024dd"/><stop offset="0.8195" stop-color="#0000d3"/><stop offset="0.8224" stop-color="#0000d3"/><stop offset="0.8233" stop-color="#0079dd"/><stop offset="0.8242" stop-color="#009ece"/><stop offset="0.8252" stop-color="#00a7b4"/><stop offset="0.8261" stop-color="#00a7b4"/><stop offset="0.8271" stop-color="#007ddd"/><stop offset="0.8280" stop-color="#0000b1"/><stop offset="0.8289" stop-color="#79008a"/><stop offset="0.8590" stop-color="#740084"/><stop offset="0.9323" stop-color="#400045"/><stop offset="0.9680" stop-color="#230022"/><stop offset="1.0000" stop-color="#0f000d"/></linearGradient><linearGradient id="b12" gradientUnits="userSpaceOnUse" x1="329.00" y1="0" x2="595.00" y2="0"><stop offset="0.0000" stop-color="#140011"/><stop offset="0.1974" stop-color="#160013"/><stop offset="0.2011" stop-color="#360039"/><stop offset="0.2049" stop-color="#730083"/><stop offset="0.2068" stop-color="#7a008b"/><stop offset="0.2162" stop-color="#840095"/><stop offset="0.2246" stop-color="#860097"/><stop offset="0.2256" stop-color="#63009e"/><stop offset="0.2265" stop-color="#2300a6"/><stop offset="0.2274" stop-color="#0000b5"/><stop offset="0.2284" stop-color="#0000c4"/><stop offset="0.2312" stop-color="#0000dd"/><stop offset="0.2368" stop-color="#0004dd"/><stop offset="0.2378" stop-color="#0011dd"/><stop offset="0.2481" stop-color="#0018dd"/><stop offset="0.2594" stop-color="#0047dd"/><stop offset="0.3017" stop-color="#005ddd"/><stop offset="0.3844" stop-color="#0079dd"/><stop offset="0.4229" stop-color="#0085dd"/><stop offset="0.4558" stop-color="#009ada"/><stop offset="0.5047" stop-color="#00aaa6"/><stop offset="0.5348" stop-color="#00aaa2"/><stop offset="0.5564" stop-color="#00a8af"/><stop offset="0.5667" stop-color="#00a4bd"/><stop offset="0.5686" stop-color="#00a1c5"/><stop offset="0.5855" stop-color="#0097dd"/><stop offset="0.5940" stop-color="#0089dd"/><stop offset="0.6015" stop-color="#0077dd"/><stop offset="0.6128" stop-color="#0018dd"/><stop offset="0.6250" stop-color="#0000dc"/><stop offset="0.6447" stop-color="#0000c4"/><stop offset="0.6617" stop-color="#0000aa"/><stop offset="0.6748" stop-color="#2c00a4"/><stop offset="0.7246" stop-color="#83009a"/><stop offset="0.7321" stop-color="#870098"/><stop offset="0.7378" stop-color="#860097"/><stop offset="0.7387" stop-color="#3600a3"/><stop offset="0.7397" stop-color="#000add"/><stop offset="0.7406" stop-color="#0000dd"/><stop offset="0.7425" stop-color="#0000dd"/><stop offset="0.7434" stop-color="#001cdd"/><stop offset="0.7444" stop-color="#0085dd"/><stop offset="0.7453" stop-color="#00a3c0"/><stop offset="0.7462" stop-color="#00a7b4"/><stop offset="0.7500" stop-color="#00a7b4"/><stop offset="0.7509" stop-color="#0092dd"/><stop offset="0.7519" stop-color="#0041dd"/><stop offset="0.7528" stop-color="#0000d3"/><stop offset="0.7556" stop-color="#0000d3"/><stop offset="0.7566" stop-color="#005fdd"/><stop offset="0.7575" stop-color="#009ada"/><stop offset="0.7585" stop-color="#00aa94"/><stop offset="0.7594" stop-color="#00a249"/><stop offset="0.7603" stop-color="#009c1b"/><stop offset="0.7641" stop-color="#009c1b"/><stop offset="0.7650" stop-color="#00a876"/><stop offset="0.7660" stop-color="#00aaa0"/><stop offset="0.7669" stop-color="#00a7b4"/><stop offset="0.7754" stop-color="#00a7b4"/><stop offset="0.7763" stop-color="#00a2c1"/><stop offset="0.7773" stop-color="#009bd6"/><stop offset="0.7782" stop-color="#0092dd"/><stop offset="0.7810" stop-color="#0092dd"/><stop offset="0.7820" stop-color="#009ada"/><stop offset="0.7848" stop-color="#00aaa2"/><stop offset="0.7857" stop-color="#00aa88"/><stop offset="0.7867" stop-color="#00a036"/><stop offset="0.7895" stop-color="#00a036"/><stop offset="0.7904" stop-color="#00aa8d"/><stop offset="0.7914" stop-color="#00aaa7"/><stop offset="0.7923" stop-color="#00a7b4"/><stop offset="0.7951" stop-color="#00a7b4"/><stop offset="0.7961" stop-color="#00aa92"/><stop offset="0.7970" stop-color="#009f32"/><stop offset="0.7979" stop-color="#009900"/><stop offset="0.8026" stop-color="#009900"/><stop offset="0.8036" stop-color="#009c19"/><stop offset="0.8045" stop-color="#00aa8b"/><stop offset="0.8055" stop-color="#00aaab"/><stop offset="0.8064" stop-color="#00a7b4"/><stop offset="0.8167" stop-color="#00a7b4"/><stop offset="0.8177" stop-color="#008add"/><stop offset="0.8186" stop-color="#0024dd"/><stop offset="0.8195" stop-color="#0000d3"/><stop offset="0.8224" stop-color="#0000d3"/><stop offset="0.8233" stop-color="#0079dd"/><stop offset="0.8242" stop-color="#009ece"/><stop offset="0.8252" stop-color="#00a7b4"/><stop offset="0.8261" stop-color="#00a7b4"/><stop offset="0.8271" stop-color="#007ddd"/><stop offset="0.8280" stop-color="#0000b1"/><stop offset="0.8289" stop-color="#79008a"/><stop offset="0.8590" stop-color="#740084"/><stop offset="0.9323" stop-color="#400045"/><stop offset="0.9680" stop-color="#230022"/><stop offset="1.0000" stop-color="#0f000d"/></linearGradient><linearGradient id="b13" gradientUnits="userSpaceOnUse" x1="329.00" y1="0" x2="595.00" y2="0"><stop offset="0.0000" stop-color="#140011"/><stop offset="0.1974" stop-color="#160013"/><stop offset="0.2011" stop-color="#360039"/><stop offset="0.2049" stop-color="#730083"/><stop offset="0.2068" stop-color="#7a008b"/><stop offset="0.2162" stop-color="#840095"/><stop offset="0.2246" stop-color="#860097"/><stop offset="0.2256" stop-color="#63009e"/><stop offset="0.2265" stop-color="#2300a6"/><stop offset="0.2274" stop-color="#0000b5"/><stop offset="0.2284" stop-color="#0000c4"/><stop offset="0.2312" stop-color="#0000dd"/><stop offset="0.2481" stop-color="#000cdd"/><stop offset="0.2594" stop-color="#003cdd"/><stop offset="0.3017" stop-color="#0052dd"/><stop offset="0.4380" stop-color="#0089dd"/><stop offset="0.4605" stop-color="#009ada"/><stop offset="0.5075" stop-color="#00aaa9"/><stop offset="0.5348" stop-color="#00aaa5"/><stop offset="0.5564" stop-color="#00a7b4"/><stop offset="0.5855" stop-color="#0097dd"/><stop offset="0.5940" stop-color="#0089dd"/><stop offset="0.6015" stop-color="#0077dd"/><stop offset="0.6128" stop-color="#0018dd"/><stop offset="0.6250" stop-color="#0000dc"/><stop offset="0.6447" stop-color="#0000c4"/><stop offset="0.6617" stop-color="#0000aa"/><stop offset="0.6748" stop-color="#2c00a4"/><stop offset="0.7246" stop-color="#83009a"/><stop offset="0.7321" stop-color="#870098"/><stop offset="0.7378" stop-color="#860097"/><stop offset="0.7387" stop-color="#3600a3"/><stop offset="0.7397" stop-color="#000add"/><stop offset="0.7406" stop-color="#0000dd"/><stop offset="0.7425" stop-color="#0000dd"/><stop offset="0.7434" stop-color="#001cdd"/><stop offset="0.7444" stop-color="#0085dd"/><stop offset="0.7453" stop-color="#00a3c0"/><stop offset="0.7462" stop-color="#00a7b4"/><stop offset="0.7500" stop-color="#00a7b4"/><stop offset="0.7509" stop-color="#0092dd"/><stop offset="0.7519" stop-color="#0041dd"/><stop offset="0.7528" stop-color="#0000d3"/><stop offset="0.7556" stop-color="#0000d3"/><stop offset="0.7566" stop-color="#005fdd"/><stop offset="0.7575" stop-color="#009ada"/><stop offset="0.7585" stop-color="#00aa94"/><stop offset="0.7594" stop-color="#00a249"/><stop offset="0.7603" stop-color="#009c1b"/><stop offset="0.7641" stop-color="#009c1b"/><stop offset="0.7650" stop-color="#00a876"/><stop offset="0.7660" stop-color="#00aaa0"/><stop offset="0.7669" stop-color="#00a7b4"/><stop offset="0.7754" stop-color="#00a7b4"/><stop offset="0.7763" stop-color="#00a2c1"/><stop offset="0.7773" stop-color="#009bd6"/><stop offset="0.7782" stop-color="#0092dd"/><stop offset="0.7810" stop-color="#0092dd"/><stop offset="0.7820" stop-color="#009ada"/><stop offset="0.7848" stop-color="#00aaa2"/><stop offset="0.7857" stop-color="#00aa88"/><stop offset="0.7867" stop-color="#00a036"/><stop offset="0.7895" stop-color="#00a036"/><stop offset="0.7904" stop-color="#00aa8d"/><stop offset="0.7914" stop-color="#00aaa7"/><stop offset="0.7923" stop-color="#00a7b4"/><stop offset="0.7951" stop-color="#00a7b4"/><stop offset="0.7961" stop-color="#00aa92"/><stop offset="0.7970" stop-color="#009f32"/><stop offset="0.7979" stop-color="#009900"/><stop offset="0.8026" stop-color="#009900"/><stop offset="0.8036" stop-color="#009c19"/><stop offset="0.8045" stop-color="#00aa8b"/><stop offset="0.8055" stop-color="#00aaab"/><stop offset="0.8064" stop-color="#00a7b4"/><stop offset="0.8167" stop-color="#00a7b4"/><stop offset="0.8177" stop-color="#008add"/><stop offset="0.8186" stop-color="#0024dd"/><stop offset="0.8195" stop-color="#0000d3"/><stop offset="0.8224" stop-color="#0000d3"/><stop offset="0.8233" stop-color="#0079dd"/><stop offset="0.8242" stop-color="#009ece"/><stop offset="0.8252" stop-color="#00a7b4"/><stop offset="0.8261" stop-color="#00a7b4"/><stop offset="0.8271" stop-color="#007ddd"/><stop offset="0.8280" stop-color="#0000b1"/><stop offset="0.8289" stop-color="#79008a"/><stop offset="0.8590" stop-color="#740084"/><stop offset="0.9323" stop-color="#400045"/><stop offset="0.9680" stop-color="#230022"/><stop offset="1.0000" stop-color="#0f000d"/></linearGradient><linearGradient id="b14" gradientUnits="userSpaceOnUse" x1="329.00" y1="0" x2="595.00" y2="0"><stop offset="0.0000" stop-color="#140011"/><stop offset="0.1974" stop-color="#160013"/><stop offset="0.2011" stop-color="#360039"/><stop offset="0.2049" stop-color="#730083"/><stop offset="0.2068" stop-color="#7a008b"/><stop offset="0.2162" stop-color="#840095"/><stop offset="0.2246" stop-color="#860097"/><stop offset="0.2256" stop-color="#63009e"/><stop offset="0.2265" stop-color="#2300a6"/><stop offset="0.2274" stop-color="#0000b5"/><stop offset="0.2284" stop-color="#0000c4"/><stop offset="0.2312" stop-color="#0000dd"/><stop offset="0.2368" stop-color="#0004dd"/><stop offset="0.2378" stop-color="#0011dd"/><stop offset="0.2481" stop-color="#0018dd"/><stop offset="0.2594" stop-color="#0047dd"/><stop offset="0.3017" stop-color="#005ddd"/><stop offset="0.3844" stop-color="#0079dd"/><stop offset="0.4229" stop-color="#0085dd"/><stop offset="0.4558" stop-color="#009ada"/><stop offset="0.5047" stop-color="#00aaa6"/><stop offset="0.5348" stop-color="#00aaa2"/><stop offset="0.5564" stop-color="#00a8af"/><stop offset="0.5667" stop-color="#00a4bd"/><stop offset="0.5686" stop-color="#00a1c5"/><stop offset="0.5855" stop-color="#0097dd"/><stop offset="0.5940" stop-color="#0089dd"/><stop offset="0.6015" stop-color="#0077dd"/><stop offset="0.6128" stop-color="#0018dd"/><stop offset="0.6250" stop-color="#0000dc"/><stop offset="0.6447" stop-color="#0000c4"/><stop offset="0.6617" stop-color="#0000aa"/><stop offset="0.6748" stop-color="#2c00a4"/><stop offset="0.7246" stop-color="#83009a"/><stop offset="0.7321" stop-color="#870098"/><stop offset="0.7378" stop-color="#860097"/><stop offset="0.7387" stop-color="#3600a3"/><stop offset="0.7397" stop-color="#000add"/><stop offset="0.7406" stop-color="#0000dd"/><stop offset="0.7425" stop-color="#0000dd"/><stop offset="0.7434" stop-color="#001cdd"/><stop offset="0.7444" stop-color="#0085dd"/><stop offset="0.7453" stop-color="#00a3c0"/><stop offset="0.7462" stop-color="#00a7b4"/><stop offset="0.7500" stop-color="#00a7b4"/><stop offset="0.7509" stop-color="#0092dd"/><stop offset="0.7519" stop-color="#0041dd"/><stop offset="0.7528" stop-color="#0000d3"/><stop offset="0.7556" stop-color="#0000d3"/><stop offset="0.7566" stop-color="#005fdd"/><stop offset="0.7575" stop-color="#009ada"/><stop offset="0.7585" stop-color="#00aa94"/><stop offset="0.7594" stop-color="#00a249"/><stop offset="0.7603" stop-color="#009c1b"/><stop offset="0.7641" stop-color="#009c1b"/><stop offset="0.7650" stop-color="#00a876"/><stop offset="0.7660" stop-color="#00aaa0"/><stop offset="0.7669" stop-color="#00a7b4"/><stop offset="0.7754" stop-color="#00a7b4"/><stop offset="0.7763" stop-color="#00a2c1"/><stop offset="0.7773" stop-color="#009bd6"/><stop offset="0.7782" stop-color="#0092dd"/><stop offset="0.7810" stop-color="#0092dd"/><stop offset="0.7820" stop-color="#009ada"/><stop offset="0.7848" stop-color="#00aaa2"/><stop offset="0.7857" stop-color="#00aa88"/><stop offset="0.7867" stop-color="#00a036"/><stop offset="0.7895" stop-color="#00a036"/><stop offset="0.7904" stop-color="#00aa8d"/><stop offset="0.7914" stop-color="#00aaa7"/><stop offset="0.7923" stop-color="#00a7b4"/><stop offset="0.7951" stop-color="#00a7b4"/><stop offset="0.7961" stop-color="#00aa92"/><stop offset="0.7970" stop-color="#009f32"/><stop offset="0.7979" stop-color="#009900"/><stop offset="0.8026" stop-color="#009900"/><stop offset="0.8036" stop-color="#009c19"/><stop offset="0.8045" stop-color="#00aa8b"/><stop offset="0.8055" stop-color="#00aaab"/><stop offset="0.8064" stop-color="#00a7b4"/><stop offset="0.8167" stop-color="#00a7b4"/><stop offset="0.8177" stop-color="#008add"/><stop offset="0.8186" stop-color="#0024dd"/><stop offset="0.8195" stop-color="#0000d3"/><stop offset="0.8224" stop-color="#0000d3"/><stop offset="0.8233" stop-color="#0079dd"/><stop offset="0.8242" stop-color="#009ece"/><stop offset="0.8252" stop-color="#00a7b4"/><stop offset="0.8261" stop-color="#00a7b4"/><stop offset="0.8271" stop-color="#007ddd"/><stop offset="0.8280" stop-color="#0000b1"/><stop offset="0.8289" stop-color="#79008a"/><stop offset="0.8590" stop-color="#740084"/><stop offset="0.9323" stop-color="#400045"/><stop offset="0.9680" stop-color="#230022"/><stop offset="1.0000" stop-color="#0f000d"/></linearGradient><linearGradient id="b15" gradientUnits="userSpaceOnUse" x1="329.00" y1="0" x2="595.00" y2="0"><stop offset="0.0000" stop-color="#140011"/><stop offset="0.1974" stop-color="#160013"/><stop offset="0.2011" stop-color="#360039"/><stop offset="0.2049" stop-color="#730083"/><stop offset="0.2068" stop-color="#7a008b"/><stop offset="0.2162" stop-color="#840095"/><stop offset="0.2246" stop-color="#860097"/><stop offset="0.2256" stop-color="#63009e"/><stop offset="0.2265" stop-color="#2300a6"/><stop offset="0.2274" stop-color="#0000b5"/><stop offset="0.2284" stop-color="#0000c4"/><stop offset="0.2312" stop-color="#0000dd"/><stop offset="0.2481" stop-color="#000cdd"/><stop offset="0.2594" stop-color="#003cdd"/><stop offset="0.3017" stop-color="#0052dd"/><stop offset="0.4380" stop-color="#0089dd"/><stop offset="0.4605" stop-color="#009ada"/><stop offset="0.5075" stop-color="#00aaa9"/><stop offset="0.5348" stop-color="#00aaa5"/><stop offset="0.5564" stop-color="#00a7b4"/><stop offset="0.5855" stop-color="#0097dd"/><stop offset="0.5940" stop-color="#0089dd"/><stop offset="0.6015" stop-color="#0077dd"/><stop offset="0.6128" stop-color="#0018dd"/><stop offset="0.6250" stop-color="#0000dc"/><stop offset="0.6447" stop-color="#0000c4"/><stop offset="0.6617" stop-color="#0000aa"/><stop offset="0.6748" stop-color="#2c00a4"/><stop offset="0.7246" stop-color="#83009a"/><stop offset="0.7321" stop-color="#870098"/><stop offset="0.7378" stop-color="#860097"/><stop offset="0.7387" stop-color="#3600a3"/><stop offset="0.7397" stop-color="#000add"/><stop offset="0.7406" stop-color="#0000dd"/><stop offset="0.7425" stop-color="#0000dd"/><stop offset="0.7434" stop-color="#001cdd"/><stop offset="0.7444" stop-color="#0085dd"/><stop offset="0.7453" stop-color="#00a3c0"/><stop offset="0.7462" stop-color="#00a7b4"/><stop offset="0.7500" stop-color="#00a7b4"/><stop offset="0.7509" stop-color="#0092dd"/><stop offset="0.7519" stop-color="#0041dd"/><stop offset="0.7528" stop-color="#0000d3"/><stop offset="0.7556" stop-color="#0000d3"/><stop offset="0.7566" stop-color="#005fdd"/><stop offset="0.7575" stop-color="#009ada"/><stop offset="0.7585" stop-color="#00aa94"/><stop offset="0.7594" stop-color="#00a249"/><stop offset="0.7603" stop-color="#009c1b"/><stop offset="0.7641" stop-color="#009c1b"/><stop offset="0.7650" stop-color="#00a876"/><stop offset="0.7660" stop-color="#00aaa0"/><stop offset="0.7669" stop-color="#00a7b4"/><stop offset="0.7754" stop-color="#00a7b4"/><stop offset="0.7763" stop-color="#00a2c1"/><stop offset="0.7773" stop-color="#009bd6"/><stop offset="0.7782" stop-color="#0092dd"/><stop offset="0.7810" stop-color="#0092dd"/><stop offset="0.7820" stop-color="#009ada"/><stop offset="0.7848" stop-color="#00aaa2"/><stop offset="0.7857" stop-color="#00aa88"/><stop offset="0.7867" stop-color="#00a036"/><stop offset="0.7895" stop-color="#00a036"/><stop offset="0.7904" stop-color="#00aa8d"/><stop offset="0.7914" stop-color="#00aaa7"/><stop offset="0.7923" stop-color="#00a7b4"/><stop offset="0.7951" stop-color="#00a7b4"/><stop offset="0.7961" stop-color="#00aa92"/><stop offset="0.7970" stop-color="#009f32"/><stop offset="0.7979" stop-color="#009900"/><stop offset="0.8026" stop-color="#009900"/><stop offset="0.8036" stop-color="#009c19"/><stop offset="0.8045" stop-color="#00aa8b"/><stop offset="0.8055" stop-color="#00aaab"/><stop offset="0.8064" stop-color="#00a7b4"/><stop offset="0.8167" stop-color="#00a7b4"/><stop offset="0.8177" stop-color="#008add"/><stop offset="0.8186" stop-color="#0024dd"/><stop offset="0.8195" stop-color="#0000d3"/><stop offset="0.8224" stop-color="#0000d3"/><stop offset="0.8233" stop-color="#0079dd"/><stop offset="0.8242" stop-color="#009ece"/><stop offset="0.8252" stop-color="#00a7b4"/><stop offset="0.8261" stop-color="#00a7b4"/><stop offset="0.8271" stop-color="#007ddd"/><stop offset="0.8280" stop-color="#0000b1"/><stop offset="0.8289" stop-color="#79008a"/><stop offset="0.8590" stop-color="#740084"/><stop offset="0.8844" stop-color="#640071"/><stop offset="0.8853" stop-color="#780089"/><stop offset="0.8863" stop-color="#77009b"/><stop offset="0.8872" stop-color="#0000b4"/><stop offset="0.8882" stop-color="#0000be"/><stop offset="0.8900" stop-color="#0000be"/><stop offset="0.8910" stop-color="#0000b3"/><stop offset="0.8919" stop-color="#79009b"/><stop offset="0.8929" stop-color="#770088"/><stop offset="0.8938" stop-color="#5e0069"/><stop offset="0.9690" stop-color="#230022"/><stop offset="1.0000" stop-color="#0f000d"/></linearGradient><linearGradient id="b16" gradientUnits="userSpaceOnUse" x1="329.00" y1="0" x2="595.00" y2="0"><stop offset="0.0000" stop-color="#140011"/><stop offset="0.1974" stop-color="#160013"/><stop offset="0.2011" stop-color="#360039"/><stop offset="0.2049" stop-color="#730083"/><stop offset="0.2068" stop-color="#7a008b"/><stop offset="0.2162" stop-color="#840095"/><stop offset="0.2246" stop-color="#860097"/><stop offset="0.2256" stop-color="#63009e"/><stop offset="0.2265" stop-color="#2300a6"/><stop offset="0.2274" stop-color="#0000b5"/><stop offset="0.2284" stop-color="#0000c4"/><stop offset="0.2312" stop-color="#0000dd"/><stop offset="0.2368" stop-color="#0004dd"/><stop offset="0.2378" stop-color="#0011dd"/><stop offset="0.2481" stop-color="#0018dd"/><stop offset="0.2594" stop-color="#0047dd"/><stop offset="0.3017" stop-color="#005ddd"/><stop offset="0.3844" stop-color="#0079dd"/><stop offset="0.4229" stop-color="#0085dd"/><stop offset="0.4558" stop-color="#009ada"/><stop offset="0.5047" stop-color="#00aaa6"/><stop offset="0.5348" stop-color="#00aaa2"/><stop offset="0.5564" stop-color="#00a8af"/><stop offset="0.5667" stop-color="#00a4bd"/><stop offset="0.5686" stop-color="#00a1c5"/><stop offset="0.5855" stop-color="#0097dd"/><stop offset="0.5940" stop-color="#0089dd"/><stop offset="0.6015" stop-color="#0077dd"/><stop offset="0.6128" stop-color="#0018dd"/><stop offset="0.6250" stop-color="#0000dc"/><stop offset="0.6447" stop-color="#0000c4"/><stop offset="0.6617" stop-color="#0000aa"/><stop offset="0.6748" stop-color="#2c00a4"/><stop offset="0.7246" stop-color="#83009a"/><stop offset="0.7321" stop-color="#870098"/><stop offset="0.7378" stop-color="#860097"/><stop offset="0.7387" stop-color="#3600a3"/><stop offset="0.7397" stop-color="#000add"/><stop offset="0.7406" stop-color="#0000dd"/><stop offset="0.7425" stop-color="#0000dd"/><stop offset="0.7434" stop-color="#001cdd"/><stop offset="0.7444" stop-color="#0085dd"/><stop offset="0.7453" stop-color="#00a3c0"/><stop offset="0.7462" stop-color="#00a7b4"/><stop offset="0.7500" stop-color="#00a7b4"/><stop offset="0.7509" stop-color="#0092dd"/><stop offset="0.7519" stop-color="#0041dd"/><stop offset="0.7528" stop-color="#0000d3"/><stop offset="0.7556" stop-color="#0000d3"/><stop offset="0.7566" stop-color="#005fdd"/><stop offset="0.7575" stop-color="#009ada"/><stop offset="0.7585" stop-color="#00aa94"/><stop offset="0.7594" stop-color="#00a249"/><stop offset="0.7603" stop-color="#009c1b"/><stop offset="0.7641" stop-color="#009c1b"/><stop offset="0.7650" stop-color="#00a876"/><stop offset="0.7660" stop-color="#00aaa0"/><stop offset="0.7669" stop-color="#00a7b4"/><stop offset="0.7754" stop-color="#00a7b4"/><stop offset="0.7763" stop-color="#00a2c1"/><stop offset="0.7773" stop-color="#009bd6"/><stop offset="0.7782" stop-color="#0092dd"/><stop offset="0.7810" stop-color="#0092dd"/><stop offset="0.7820" stop-color="#009ada"/><stop offset="0.7848" stop-color="#00aaa2"/><stop offset="0.7857" stop-color="#00aa88"/><stop offset="0.7867" stop-color="#00a036"/><stop offset="0.7895" stop-color="#00a036"/><stop offset="0.7904" stop-color="#00aa8d"/><stop offset="0.7914" stop-color="#00aaa7"/><stop offset="0.7923" stop-color="#00a7b4"/><stop offset="0.7951" stop-color="#00a7b4"/><stop offset="0.7961" stop-color="#00aa92"/><stop offset="0.7970" stop-color="#009f32"/><stop offset="0.7979" stop-color="#009900"/><stop offset="0.8026" stop-color="#009900"/><stop offset="0.8036" stop-color="#009c19"/><stop offset="0.8045" stop-color="#00aa8b"/><stop offset="0.8055" stop-color="#00aaab"/><stop offset="0.8064" stop-color="#00a7b4"/><stop offset="0.8167" stop-color="#00a7b4"/><stop offset="0.8177" stop-color="#008add"/><stop offset="0.8186" stop-color="#0024dd"/><stop offset="0.8195" stop-color="#0000d3"/><stop offset="0.8224" stop-color="#0000d3"/><stop offset="0.8233" stop-color="#0079dd"/><stop offset="0.8242" stop-color="#009ece"/><stop offset="0.8252" stop-color="#00a7b4"/><stop offset="0.8261" stop-color="#00a7b4"/><stop offset="0.8271" stop-color="#007ddd"/><stop offset="0.8280" stop-color="#0000b1"/><stop offset="0.8289" stop-color="#79008a"/><stop offset="0.8590" stop-color="#740084"/><stop offset="0.9323" stop-color="#400045"/><stop offset="0.9680" stop-color="#230022"/><stop offset="1.0000" stop-color="#0f000d"/></linearGradient><linearGradient id="b17" gradientUnits="userSpaceOnUse" x1="329.00" y1="0" x2="595.00" y2="0"><stop offset="0.0000" stop-color="#140011"/><stop offset="0.1974" stop-color="#160013"/><stop offset="0.2011" stop-color="#360039"/><stop offset="0.2049" stop-color="#730083"/><stop offset="0.2068" stop-color="#7a008b"/><stop offset="0.2162" stop-color="#840095"/><stop offset="0.2246" stop-color="#860097"/><stop offset="0.2256" stop-color="#63009e"/><stop offset="0.2265" stop-color="#2300a6"/><stop offset="0.2274" stop-color="#0000b5"/><stop offset="0.2284" stop-color="#0000c4"/><stop offset="0.2312" stop-color="#0000dd"/><stop offset="0.2481" stop-color="#000cdd"/><stop offset="0.2594" stop-color="#003cdd"/><stop offset="0.3017" stop-color="#0052dd"/><stop offset="0.4380" stop-color="#0089dd"/><stop offset="0.4605" stop-color="#009ada"/><stop offset="0.5075" stop-color="#00aaa9"/><stop offset="0.5348" stop-color="#00aaa5"/><stop offset="0.5564" stop-color="#00a7b4"/><stop offset="0.5855" stop-color="#0097dd"/><stop offset="0.5940" stop-color="#0089dd"/><stop offset="0.6015" stop-color="#0077dd"/><stop offset="0.6128" stop-color="#0018dd"/><stop offset="0.6250" stop-color="#0000dc"/><stop offset="0.6447" stop-color="#0000c4"/><stop offset="0.6617" stop-color="#0000aa"/><stop offset="0.6748" stop-color="#2c00a4"/><stop offset="0.7246" stop-color="#83009a"/><stop offset="0.7321" stop-color="#870098"/><stop offset="0.7378" stop-color="#860097"/><stop offset="0.7387" stop-color="#3600a3"/><stop offset="0.7397" stop-color="#000add"/><stop offset="0.7406" stop-color="#0000dd"/><stop offset="0.7425" stop-color="#0000dd"/><stop offset="0.7434" stop-color="#001cdd"/><stop offset="0.7444" stop-color="#0085dd"/><stop offset="0.7453" stop-color="#00a3c0"/><stop offset="0.7462" stop-color="#00a7b4"/><stop offset="0.7500" stop-color="#00a7b4"/><stop offset="0.7509" stop-color="#0092dd"/><stop offset="0.7519" stop-color="#0041dd"/><stop offset="0.7528" stop-color="#0000d3"/><stop offset="0.7556" stop-color="#0000d3"/><stop offset="0.7566" stop-color="#005fdd"/><stop offset="0.7575" stop-color="#009ada"/><stop offset="0.7585" stop-color="#00aa94"/><stop offset="0.7594" stop-color="#00a249"/><stop offset="0.7603" stop-color="#009c1b"/><stop offset="0.7641" stop-color="#009c1b"/><stop offset="0.7650" stop-color="#00a876"/><stop offset="0.7660" stop-color="#00aaa0"/><stop offset="0.7669" stop-color="#00a7b4"/><stop offset="0.7754" stop-color="#00a7b4"/><stop offset="0.7763" stop-color="#00a2c1"/><stop offset="0.7773" stop-color="#009bd6"/><stop offset="0.7782" stop-color="#0092dd"/><stop offset="0.7810" stop-color="#0092dd"/><stop offset="0.7820" stop-color="#009ada"/><stop offset="0.7848" stop-color="#00aaa2"/><stop offset="0.7857" stop-color="#00aa88"/><stop offset="0.7867" stop-color="#00a036"/><stop offset="0.7895" stop-color="#00a036"/><stop offset="0.7904" stop-color="#00aa8d"/><stop offset="0.7914" stop-color="#00aaa7"/><stop offset="0.7923" stop-color="#00a7b4"/><stop offset="0.7951" stop-color="#00a7b4"/><stop offset="0.7961" stop-color="#00aa92"/><stop offset="0.7970" stop-color="#009f32"/><stop offset="0.7979" stop-color="#009900"/><stop offset="0.8026" stop-color="#009900"/><stop offset="0.8036" stop-color="#009c19"/><stop offset="0.8045" stop-color="#00aa8b"/><stop offset="0.8055" stop-color="#00aaab"/><stop offset="0.8064" stop-color="#00a7b4"/><stop offset="0.8167" stop-color="#00a7b4"/><stop offset="0.8177" stop-color="#008add"/><stop offset="0.8186" stop-color="#0024dd"/><stop offset="0.8195" stop-color="#0000d3"/><stop offset="0.8224" stop-color="#0000d3"/><stop offset="0.8233" stop-color="#0079dd"/><stop offset="0.8242" stop-color="#009ece"/><stop offset="0.8252" stop-color="#00a7b4"/><stop offset="0.8261" stop-color="#00a7b4"/><stop offset="0.8271" stop-color="#007ddd"/><stop offset="0.8280" stop-color="#0000b1"/><stop offset="0.8289" stop-color="#79008a"/><stop offset="0.8590" stop-color="#740084"/><stop offset="0.9323" stop-color="#400045"/><stop offset="0.9680" stop-color="#230022"/><stop offset="1.0000" stop-color="#0f000d"/></linearGradient><linearGradient id="b18" gradientUnits="userSpaceOnUse" x1="329.00" y1="0" x2="595.00" y2="0"><stop offset="0.0000" stop-color="#140011"/><stop offset="0.1974" stop-color="#160013"/><stop offset="0.2011" stop-color="#360039"/><stop offset="0.2049" stop-color="#730083"/><stop offset="0.2068" stop-color="#7a008b"/><stop offset="0.2162" stop-color="#840095"/><stop offset="0.2246" stop-color="#860097"/><stop offset="0.2256" stop-color="#63009e"/><stop offset="0.2265" stop-color="#2300a6"/><stop offset="0.2274" stop-color="#0000b5"/><stop offset="0.2284" stop-color="#0000c4"/><stop offset="0.2312" stop-color="#0000dd"/><stop offset="0.2368" stop-color="#0004dd"/><stop offset="0.2378" stop-color="#0000d5"/><stop offset="0.2500" stop-color="#0000db"/><stop offset="0.2538" stop-color="#000cdd"/><stop offset="0.2603" stop-color="#0024dd"/><stop offset="0.3026" stop-color="#003add"/><stop offset="0.4004" stop-color="#0062dd"/><stop offset="0.4164" stop-color="#0078dd"/><stop offset="0.4530" stop-color="#008edd"/><stop offset="0.4699" stop-color="#009ada"/><stop offset="0.5085" stop-color="#00a7b2"/><stop offset="0.5329" stop-color="#00a9ac"/><stop offset="0.5583" stop-color="#00a2c1"/><stop offset="0.5667" stop-color="#009fcc"/><stop offset="0.5677" stop-color="#00a2c4"/><stop offset="0.5855" stop-color="#0097dd"/><stop offset="0.5940" stop-color="#0089dd"/><stop offset="0.6015" stop-color="#0077dd"/><stop offset="0.6128" stop-color="#0018dd"/><stop offset="0.6250" stop-color="#0000dc"/><stop offset="0.6447" stop-color="#0000c4"/><stop offset="0.6617" stop-color="#0000aa"/><stop offset="0.6748" stop-color="#2c00a4"/><stop offset="0.7246" stop-color="#83009a"/><stop offset="0.7321" stop-color="#870098"/><stop offset="0.7378" stop-color="#860097"/><stop offset="0.7387" stop-color="#3600a3"/><stop offset="0.7397" stop-color="#000add"/><stop offset="0.7406" stop-color="#0000dd"/><stop offset="0.7425" stop-color="#0000dd"/><stop offset="0.7434" stop-color="#001cdd"/><stop offset="0.7444" stop-color="#0085dd"/><stop offset="0.7453" stop-color="#00a3c0"/><stop offset="0.7462" stop-color="#00a7b4"/><stop offset="0.7500" stop-color="#00a7b4"/><stop offset="0.7509" stop-color="#0092dd"/><stop offset="0.7519" stop-color="#0041dd"/><stop offset="0.7528" stop-color="#0000d3"/><stop offset="0.7556" stop-color="#0000d3"/><stop offset="0.7566" stop-color="#005fdd"/><stop offset="0.7575" stop-color="#009ada"/><stop offset="0.7585" stop-color="#00aa94"/><stop offset="0.7594" stop-color="#00a249"/><stop offset="0.7603" stop-color="#009c1b"/><stop offset="0.7641" stop-color="#009c1b"/><stop offset="0.7650" stop-color="#00a876"/><stop offset="0.7660" stop-color="#00aaa0"/><stop offset="0.7669" stop-color="#00a7b4"/><stop offset="0.7754" stop-color="#00a7b4"/><stop offset="0.7763" stop-color="#00a2c1"/><stop offset="0.7773" stop-color="#009bd6"/><stop offset="0.7782" stop-color="#0092dd"/><stop offset="0.7810" stop-color="#0092dd"/><stop offset="0.7820" stop-color="#009ada"/><stop offset="0.7848" stop-color="#00aaa2"/><stop offset="0.7857" stop-color="#00aa88"/><stop offset="0.7867" stop-color="#00a036"/><stop offset="0.7895" stop-color="#00a036"/><stop offset="0.7904" stop-color="#00aa8d"/><stop offset="0.7914" stop-color="#00aaa7"/><stop offset="0.7923" stop-color="#00a7b4"/><stop offset="0.7951" stop-color="#00a7b4"/><stop offset="0.7961" stop-color="#00aa92"/><stop offset="0.7970" stop-color="#009f32"/><stop offset="0.7979" stop-color="#009900"/><stop offset="0.8026" stop-color="#009900"/><stop offset="0.8036" stop-color="#009c19"/><stop offset="0.8045" stop-color="#00aa8b"/><stop offset="0.8055" stop-color="#00aaab"/><stop offset="0.8064" stop-color="#00a7b4"/><stop offset="0.8167" stop-color="#00a7b4"/><stop offset="0.8177" stop-color="#008add"/><stop offset="0.8186" stop-color="#0024dd"/><stop offset="0.8195" stop-color="#0000d3"/><stop offset="0.8224" stop-color="#0000d3"/><stop offset="0.8233" stop-color="#0079dd"/><stop offset="0.8242" stop-color="#009ece"/><stop offset="0.8252" stop-color="#00a7b4"/><stop offset="0.8261" stop-color="#00a7b4"/><stop offset="0.8271" stop-color="#007ddd"/><stop offset="0.8280" stop-color="#0000b1"/><stop offset="0.8289" stop-color="#79008a"/><stop offset="0.8590" stop-color="#740084"/><stop offset="0.9323" stop-color="#400045"/><stop offset="0.9680" stop-color="#230022"/><stop offset="1.0000" stop-color="#0f000d"/></linearGradient><linearGradient id="b19" gradientUnits="userSpaceOnUse" x1="329.00" y1="0" x2="595.00" y2="0"><stop offset="0.0000" stop-color="#11000f"/><stop offset="0.2246" stop-color="#140011"/><stop offset="0.2453" stop-color="#180015"/><stop offset="0.4568" stop-color="#150013"/><stop offset="0.4652" stop-color="#0d000b"/><stop offset="1.0000" stop-color="#0b000a"/></linearGradient><linearGradient id="b20" gradientUnits="userSpaceOnUse" x1="329.00" y1="0" x2="595.00" y2="0"><stop offset="0.0000" stop-color="#0b000a"/><stop offset="0.2613" stop-color="#090008"/><stop offset="0.2716" stop-color="#020002"/><stop offset="0.5320" stop-color="#040004"/><stop offset="0.5423" stop-color="#0b000a"/><stop offset="1.0000" stop-color="#090008"/></linearGradient><linearGradient id="b21" gradientUnits="userSpaceOnUse" x1="329.00" y1="0" x2="595.00" y2="0"><stop offset="0.0000" stop-color="#140011"/><stop offset="0.0113" stop-color="#140011"/><stop offset="0.0141" stop-color="#210020"/><stop offset="0.0169" stop-color="#1f001e"/><stop offset="0.0188" stop-color="#140011"/><stop offset="0.0733" stop-color="#140011"/><stop offset="0.0761" stop-color="#1d001c"/><stop offset="0.0789" stop-color="#1c001a"/><stop offset="0.0818" stop-color="#140011"/><stop offset="0.0855" stop-color="#160013"/><stop offset="0.0883" stop-color="#1b001a"/><stop offset="0.0921" stop-color="#140011"/><stop offset="0.0959" stop-color="#1d001c"/><stop offset="0.1006" stop-color="#140011"/><stop offset="0.1748" stop-color="#160014"/><stop offset="0.1823" stop-color="#1f001e"/><stop offset="0.1861" stop-color="#360039"/><stop offset="0.1898" stop-color="#500058"/><stop offset="0.1917" stop-color="#700080"/><stop offset="0.1927" stop-color="#780089"/><stop offset="0.2002" stop-color="#870098"/><stop offset="0.2011" stop-color="#7a009b"/><stop offset="0.2030" stop-color="#5200a0"/><stop offset="0.2039" stop-color="#0200aa"/><stop offset="0.2049" stop-color="#0000c7"/><stop offset="0.2058" stop-color="#0001dd"/><stop offset="0.2077" stop-color="#0054dd"/><stop offset="0.2086" stop-color="#0079dd"/><stop offset="0.2162" stop-color="#0099dd"/><stop offset="0.2218" stop-color="#00aaa3"/><stop offset="0.2227" stop-color="#00aa94"/><stop offset="0.2237" stop-color="#00a87a"/><stop offset="0.2256" stop-color="#009900"/><stop offset="0.2293" stop-color="#00cf00"/><stop offset="0.2434" stop-color="#00e500"/><stop offset="0.2707" stop-color="#00f000"/><stop offset="0.3496" stop-color="#00da00"/><stop offset="0.4831" stop-color="#00c000"/><stop offset="0.5150" stop-color="#00b100"/><stop offset="0.5602" stop-color="#009900"/><stop offset="0.5865" stop-color="#00aa88"/><stop offset="0.6344" stop-color="#00a6b6"/><stop offset="0.6758" stop-color="#0098dd"/><stop offset="0.7077" stop-color="#008cdd"/><stop offset="0.7350" stop-color="#007edd"/><stop offset="0.7359" stop-color="#0079dd"/><stop offset="0.7368" stop-color="#005ddd"/><stop offset="0.7378" stop-color="#0033dd"/><stop offset="0.7387" stop-color="#0018dd"/><stop offset="0.7415" stop-color="#0018dd"/><stop offset="0.7425" stop-color="#007edd"/><stop offset="0.7434" stop-color="#00a3c0"/><stop offset="0.7444" stop-color="#00aaa3"/><stop offset="0.7500" stop-color="#00aaa3"/><stop offset="0.7509" stop-color="#00a1c6"/><stop offset="0.7519" stop-color="#008fdd"/><stop offset="0.7528" stop-color="#0085dd"/><stop offset="0.7566" stop-color="#0085dd"/><stop offset="0.7575" stop-color="#0099dd"/><stop offset="0.7585" stop-color="#00a6b7"/><stop offset="0.7594" stop-color="#00aaa3"/><stop offset="0.7650" stop-color="#00aaa3"/><stop offset="0.7660" stop-color="#00a1c6"/><stop offset="0.7669" stop-color="#008fdd"/><stop offset="0.7679" stop-color="#0085dd"/><stop offset="0.7820" stop-color="#0085dd"/><stop offset="0.7829" stop-color="#0097dd"/><stop offset="0.7838" stop-color="#00a3be"/><stop offset="0.7848" stop-color="#00aaaa"/><stop offset="0.7885" stop-color="#00aaaa"/><stop offset="0.7895" stop-color="#00a8b1"/><stop offset="0.7904" stop-color="#009cd3"/><stop offset="0.7914" stop-color="#0089dd"/><stop offset="0.7932" stop-color="#0085dd"/><stop offset="0.7942" stop-color="#0085dd"/><stop offset="0.7951" stop-color="#0092dd"/><stop offset="0.7970" stop-color="#00aaaa"/><stop offset="0.8017" stop-color="#00aaaa"/><stop offset="0.8026" stop-color="#009fcc"/><stop offset="0.8036" stop-color="#008edd"/><stop offset="0.8045" stop-color="#0085dd"/><stop offset="0.8073" stop-color="#0085dd"/><stop offset="0.8083" stop-color="#0061dd"/><stop offset="0.8092" stop-color="#001cdd"/><stop offset="0.8102" stop-color="#0000dd"/><stop offset="0.8130" stop-color="#0000dd"/><stop offset="0.8139" stop-color="#000edd"/><stop offset="0.8148" stop-color="#0053dd"/><stop offset="0.8158" stop-color="#0081dd"/><stop offset="0.8195" stop-color="#0085dd"/><stop offset="0.8242" stop-color="#0085dd"/><stop offset="0.8252" stop-color="#006cdd"/><stop offset="0.8261" stop-color="#0024dd"/><stop offset="0.8271" stop-color="#0000cd"/><stop offset="0.8280" stop-color="#0000b2"/><stop offset="0.8289" stop-color="#0e00a8"/><stop offset="0.8318" stop-color="#74009c"/><stop offset="0.8327" stop-color="#860097"/><stop offset="0.9389" stop-color="#810092"/><stop offset="0.9633" stop-color="#770088"/><stop offset="0.9727" stop-color="#55005f"/><stop offset="0.9906" stop-color="#260025"/><stop offset="1.0000" stop-color="#160013"/></linearGradient><linearGradient id="bf2" gradientUnits="userSpaceOnUse" x1="329.00" y1="0" x2="595.00" y2="0"><stop offset="0.0000" stop-color="#120010"/><stop offset="0.0122" stop-color="#150013"/><stop offset="0.0169" stop-color="#190016"/><stop offset="0.0235" stop-color="#120010"/><stop offset="0.0752" stop-color="#170014"/><stop offset="0.0865" stop-color="#150012"/><stop offset="0.0940" stop-color="#160013"/><stop offset="0.1786" stop-color="#160013"/><stop offset="0.1861" stop-color="#230023"/><stop offset="0.1898" stop-color="#300032"/><stop offset="0.1974" stop-color="#740085"/><stop offset="0.2039" stop-color="#840095"/><stop offset="0.2049" stop-color="#78009b"/><stop offset="0.2077" stop-color="#1d00a6"/><stop offset="0.2086" stop-color="#0200aa"/><stop offset="0.2180" stop-color="#0000d1"/><stop offset="0.2199" stop-color="#0000dd"/><stop offset="0.2218" stop-color="#001bdd"/><stop offset="0.2246" stop-color="#0077dd"/><stop offset="0.2284" stop-color="#0098dd"/><stop offset="0.2303" stop-color="#009dd1"/><stop offset="0.2481" stop-color="#00a3be"/><stop offset="0.2763" stop-color="#00a5b8"/><stop offset="0.4962" stop-color="#0095dd"/><stop offset="0.5724" stop-color="#0077dd"/><stop offset="0.6128" stop-color="#001bdd"/><stop offset="0.6363" stop-color="#0000db"/><stop offset="0.6945" stop-color="#0000c0"/><stop offset="0.7359" stop-color="#0300aa"/><stop offset="0.7387" stop-color="#4600a1"/><stop offset="0.7415" stop-color="#4600a1"/><stop offset="0.7425" stop-color="#0000ad"/><stop offset="0.7434" stop-color="#0000d6"/><stop offset="0.7444" stop-color="#001add"/><stop offset="0.7500" stop-color="#001add"/><stop offset="0.7509" stop-color="#0000d2"/><stop offset="0.7519" stop-color="#0000bc"/><stop offset="0.7538" stop-color="#0000b3"/><stop offset="0.7566" stop-color="#0000b3"/><stop offset="0.7585" stop-color="#0000db"/><stop offset="0.7594" stop-color="#001add"/><stop offset="0.7650" stop-color="#001add"/><stop offset="0.7660" stop-color="#0000d2"/><stop offset="0.7669" stop-color="#0000bc"/><stop offset="0.7688" stop-color="#0000b3"/><stop offset="0.7820" stop-color="#0000b3"/><stop offset="0.7838" stop-color="#0000d7"/><stop offset="0.7848" stop-color="#000ddd"/><stop offset="0.7885" stop-color="#000ddd"/><stop offset="0.7895" stop-color="#0003dd"/><stop offset="0.7914" stop-color="#0000b7"/><stop offset="0.7942" stop-color="#0000b3"/><stop offset="0.7961" stop-color="#0000d3"/><stop offset="0.7970" stop-color="#000ddd"/><stop offset="0.8017" stop-color="#000ddd"/><stop offset="0.8026" stop-color="#0000cf"/><stop offset="0.8036" stop-color="#0000bb"/><stop offset="0.8055" stop-color="#0000b3"/><stop offset="0.8073" stop-color="#0000b3"/><stop offset="0.8083" stop-color="#1600a7"/><stop offset="0.8092" stop-color="#4400a2"/><stop offset="0.8102" stop-color="#56009f"/><stop offset="0.8130" stop-color="#56009f"/><stop offset="0.8139" stop-color="#4d00a0"/><stop offset="0.8148" stop-color="#1f00a6"/><stop offset="0.8158" stop-color="#0000b0"/><stop offset="0.8242" stop-color="#0000b3"/><stop offset="0.8252" stop-color="#0f00a8"/><stop offset="0.8271" stop-color="#6f009c"/><stop offset="0.8280" stop-color="#860097"/><stop offset="0.8355" stop-color="#79008a"/><stop offset="0.9370" stop-color="#740085"/><stop offset="0.9549" stop-color="#5b0066"/><stop offset="0.9774" stop-color="#2b002b"/><stop offset="1.0000" stop-color="#11000f"/></linearGradient><linearGradient id="bf3" gradientUnits="userSpaceOnUse" x1="329.00" y1="0" x2="595.00" y2="0"><stop offset="0.0000" stop-color="#120010"/><stop offset="0.1983" stop-color="#170014"/><stop offset="0.2021" stop-color="#2a002a"/><stop offset="0.2086" stop-color="#63006f"/><stop offset="0.2124" stop-color="#780089"/><stop offset="0.2256" stop-color="#7d008e"/><stop offset="0.2274" stop-color="#870098"/><stop offset="0.2312" stop-color="#55009f"/><stop offset="0.2368" stop-color="#5300a0"/><stop offset="0.2378" stop-color="#72009c"/><stop offset="0.2500" stop-color="#68009d"/><stop offset="0.2613" stop-color="#4d00a0"/><stop offset="0.4051" stop-color="#1f00a6"/><stop offset="0.4408" stop-color="#0000ae"/><stop offset="0.5179" stop-color="#0000da"/><stop offset="0.5526" stop-color="#0000d4"/><stop offset="0.5667" stop-color="#0000c9"/><stop offset="0.5677" stop-color="#0000d4"/><stop offset="0.5949" stop-color="#0000b5"/><stop offset="0.6015" stop-color="#0700a9"/><stop offset="0.6137" stop-color="#4700a1"/><stop offset="0.6438" stop-color="#7a009b"/><stop offset="0.6513" stop-color="#870098"/><stop offset="0.7378" stop-color="#7a008b"/><stop offset="0.7387" stop-color="#800091"/><stop offset="0.7397" stop-color="#4f00a0"/><stop offset="0.7415" stop-color="#56009f"/><stop offset="0.7425" stop-color="#870098"/><stop offset="0.7434" stop-color="#7b009b"/><stop offset="0.7444" stop-color="#1f00a6"/><stop offset="0.7453" stop-color="#0000c1"/><stop offset="0.7481" stop-color="#0000c8"/><stop offset="0.7500" stop-color="#0000c8"/><stop offset="0.7509" stop-color="#0000aa"/><stop offset="0.7519" stop-color="#62009e"/><stop offset="0.7528" stop-color="#850096"/><stop offset="0.7556" stop-color="#850096"/><stop offset="0.7566" stop-color="#4e00a0"/><stop offset="0.7575" stop-color="#0000b2"/><stop offset="0.7585" stop-color="#0008dd"/><stop offset="0.7594" stop-color="#0042dd"/><stop offset="0.7603" stop-color="#0059dd"/><stop offset="0.7641" stop-color="#0059dd"/><stop offset="0.7660" stop-color="#0000d7"/><stop offset="0.7669" stop-color="#0000c8"/><stop offset="0.7754" stop-color="#0000c8"/><stop offset="0.7782" stop-color="#0000aa"/><stop offset="0.7810" stop-color="#0000aa"/><stop offset="0.7848" stop-color="#0000d5"/><stop offset="0.7867" stop-color="#004bdd"/><stop offset="0.7895" stop-color="#004bdd"/><stop offset="0.7904" stop-color="#0017dd"/><stop offset="0.7914" stop-color="#0000d1"/><stop offset="0.7932" stop-color="#0000c8"/><stop offset="0.7951" stop-color="#0000c8"/><stop offset="0.7961" stop-color="#000edd"/><stop offset="0.7970" stop-color="#004ddd"/><stop offset="0.7979" stop-color="#0066dd"/><stop offset="0.8026" stop-color="#0066dd"/><stop offset="0.8036" stop-color="#005add"/><stop offset="0.8045" stop-color="#001add"/><stop offset="0.8055" stop-color="#0000cd"/><stop offset="0.8167" stop-color="#0000c8"/><stop offset="0.8177" stop-color="#1300a8"/><stop offset="0.8186" stop-color="#76009b"/><stop offset="0.8195" stop-color="#850096"/><stop offset="0.8224" stop-color="#850096"/><stop offset="0.8233" stop-color="#0400aa"/><stop offset="0.8242" stop-color="#0000ce"/><stop offset="0.8252" stop-color="#0000dc"/><stop offset="0.8261" stop-color="#0000dc"/><stop offset="0.8271" stop-color="#0000ac"/><stop offset="0.8280" stop-color="#860097"/><stop offset="0.8289" stop-color="#4e0056"/><stop offset="0.8299" stop-color="#6f007e"/><stop offset="0.9370" stop-color="#340037"/><stop offset="1.0000" stop-color="#11000f"/></linearGradient><linearGradient id="bf19" gradientUnits="userSpaceOnUse" x1="329.00" y1="0" x2="595.00" y2="0"><stop offset="0.0000" stop-color="#130010"/><stop offset="0.1983" stop-color="#180016"/><stop offset="0.2021" stop-color="#2c002d"/><stop offset="0.2086" stop-color="#650072"/><stop offset="0.2124" stop-color="#780089"/><stop offset="0.2256" stop-color="#7e008f"/><stop offset="0.2274" stop-color="#870098"/><stop offset="0.2312" stop-color="#5000a0"/><stop offset="0.2368" stop-color="#4d00a0"/><stop offset="0.2378" stop-color="#5d009e"/><stop offset="0.2500" stop-color="#5300a0"/><stop offset="0.2613" stop-color="#3700a3"/><stop offset="0.4051" stop-color="#0a00a9"/><stop offset="0.4239" stop-color="#0000ae"/><stop offset="0.5141" stop-color="#0004dd"/><stop offset="0.5338" stop-color="#000add"/><stop offset="0.5555" stop-color="#0000d8"/><stop offset="0.5667" stop-color="#0000cf"/><stop offset="0.5724" stop-color="#0000d0"/><stop offset="0.5959" stop-color="#0000b3"/><stop offset="0.6015" stop-color="#0700a9"/><stop offset="0.6137" stop-color="#4700a1"/><stop offset="0.6438" stop-color="#7a009b"/><stop offset="0.6513" stop-color="#870098"/><stop offset="0.7378" stop-color="#7a008b"/><stop offset="0.7387" stop-color="#800091"/><stop offset="0.7397" stop-color="#4f00a0"/><stop offset="0.7425" stop-color="#56009f"/><stop offset="0.7434" stop-color="#4400a2"/><stop offset="0.7444" stop-color="#0000b3"/><stop offset="0.7453" stop-color="#0000d6"/><stop offset="0.7481" stop-color="#0000dd"/><stop offset="0.7500" stop-color="#0000dd"/><stop offset="0.7509" stop-color="#0000bf"/><stop offset="0.7519" stop-color="#2b00a5"/><stop offset="0.7528" stop-color="#66009d"/><stop offset="0.7556" stop-color="#66009d"/><stop offset="0.7566" stop-color="#1700a7"/><stop offset="0.7575" stop-color="#0000c6"/><stop offset="0.7585" stop-color="#0038dd"/><stop offset="0.7594" stop-color="#0072dd"/><stop offset="0.7603" stop-color="#007cdd"/><stop offset="0.7641" stop-color="#007cdd"/><stop offset="0.7650" stop-color="#005bdd"/><stop offset="0.7660" stop-color="#0021dd"/><stop offset="0.7669" stop-color="#0000dd"/><stop offset="0.7754" stop-color="#0000dc"/><stop offset="0.7782" stop-color="#0000bf"/><stop offset="0.7810" stop-color="#0000bf"/><stop offset="0.7838" stop-color="#0000dc"/><stop offset="0.7848" stop-color="#001edd"/><stop offset="0.7857" stop-color="#0052dd"/><stop offset="0.7867" stop-color="#0078dd"/><stop offset="0.7895" stop-color="#0078dd"/><stop offset="0.7914" stop-color="#0013dd"/><stop offset="0.7923" stop-color="#0000dc"/><stop offset="0.7951" stop-color="#0000dc"/><stop offset="0.7970" stop-color="#0079dd"/><stop offset="0.7998" stop-color="#0080dd"/><stop offset="0.8036" stop-color="#007cdd"/><stop offset="0.8045" stop-color="#004bdd"/><stop offset="0.8055" stop-color="#000bdd"/><stop offset="0.8064" stop-color="#0000dc"/><stop offset="0.8167" stop-color="#0000dc"/><stop offset="0.8177" stop-color="#0000b7"/><stop offset="0.8186" stop-color="#3f00a2"/><stop offset="0.8195" stop-color="#66009d"/><stop offset="0.8224" stop-color="#66009d"/><stop offset="0.8233" stop-color="#0400aa"/><stop offset="0.8242" stop-color="#0000ce"/><stop offset="0.8252" stop-color="#0000dc"/><stop offset="0.8261" stop-color="#0000dc"/><stop offset="0.8271" stop-color="#0000ac"/><stop offset="0.8280" stop-color="#860097"/><stop offset="0.8289" stop-color="#4e0056"/><stop offset="1.0000" stop-color="#0d000c"/></linearGradient><linearGradient id="bf21" gradientUnits="userSpaceOnUse" x1="329.00" y1="0" x2="595.00" y2="0"><stop offset="0.0000" stop-color="#10000e"/><stop offset="0.0122" stop-color="#140011"/><stop offset="0.0179" stop-color="#140011"/><stop offset="0.0742" stop-color="#120010"/><stop offset="0.0799" stop-color="#120010"/><stop offset="0.0940" stop-color="#140012"/><stop offset="0.1786" stop-color="#140012"/><stop offset="0.1861" stop-color="#220021"/><stop offset="0.1898" stop-color="#2f0030"/><stop offset="0.1974" stop-color="#730083"/><stop offset="0.2039" stop-color="#840095"/><stop offset="0.2049" stop-color="#79009b"/><stop offset="0.2077" stop-color="#1f00a6"/><stop offset="0.2086" stop-color="#0300aa"/><stop offset="0.2180" stop-color="#0000d0"/><stop offset="0.2199" stop-color="#0000dc"/><stop offset="0.2218" stop-color="#001add"/><stop offset="0.2246" stop-color="#0077dd"/><stop offset="0.2284" stop-color="#0098dd"/><stop offset="0.2303" stop-color="#009dd2"/><stop offset="0.2481" stop-color="#00a3be"/><stop offset="0.2791" stop-color="#00a4bb"/><stop offset="0.4887" stop-color="#0094dd"/><stop offset="0.5714" stop-color="#0077dd"/><stop offset="0.6147" stop-color="#0017dd"/><stop offset="0.6353" stop-color="#0000db"/><stop offset="0.6936" stop-color="#0000c0"/><stop offset="0.7359" stop-color="#0400a9"/><stop offset="0.7387" stop-color="#4700a1"/><stop offset="0.7415" stop-color="#4700a1"/><stop offset="0.7425" stop-color="#0000ad"/><stop offset="0.7434" stop-color="#0000d5"/><stop offset="0.7444" stop-color="#0019dd"/><stop offset="0.7500" stop-color="#0019dd"/><stop offset="0.7509" stop-color="#0000d2"/><stop offset="0.7519" stop-color="#0000bc"/><stop offset="0.7538" stop-color="#0000b3"/><stop offset="0.7566" stop-color="#0000b3"/><stop offset="0.7585" stop-color="#0000db"/><stop offset="0.7594" stop-color="#0019dd"/><stop offset="0.7650" stop-color="#0019dd"/><stop offset="0.7660" stop-color="#0000d2"/><stop offset="0.7669" stop-color="#0000bc"/><stop offset="0.7688" stop-color="#0000b3"/><stop offset="0.7820" stop-color="#0000b3"/><stop offset="0.7838" stop-color="#0000d6"/><stop offset="0.7848" stop-color="#000cdd"/><stop offset="0.7885" stop-color="#000cdd"/><stop offset="0.7895" stop-color="#0002dd"/><stop offset="0.7914" stop-color="#0000b7"/><stop offset="0.7942" stop-color="#0000b3"/><stop offset="0.7961" stop-color="#0000d2"/><stop offset="0.7970" stop-color="#000cdd"/><stop offset="0.8017" stop-color="#000cdd"/><stop offset="0.8026" stop-color="#0000ce"/><stop offset="0.8036" stop-color="#0000bb"/><stop offset="0.8055" stop-color="#0000b3"/><stop offset="0.8073" stop-color="#0000b3"/><stop offset="0.8083" stop-color="#1700a7"/><stop offset="0.8092" stop-color="#4500a1"/><stop offset="0.8102" stop-color="#57009f"/><stop offset="0.8130" stop-color="#57009f"/><stop offset="0.8139" stop-color="#4e00a0"/><stop offset="0.8148" stop-color="#2000a6"/><stop offset="0.8158" stop-color="#0000af"/><stop offset="0.8242" stop-color="#0000b3"/><stop offset="0.8252" stop-color="#1000a8"/><stop offset="0.8271" stop-color="#70009c"/><stop offset="0.8280" stop-color="#860097"/><stop offset="0.8355" stop-color="#79008a"/><stop offset="0.9361" stop-color="#740085"/><stop offset="0.9549" stop-color="#5a0065"/><stop offset="0.9774" stop-color="#29002a"/><stop offset="1.0000" stop-color="#10000e"/></linearGradient></defs>
<rect x="49.00" y="28.00" width="266.00" height="17.52" fill="url(#a0)"/>
<rect x="49.00" y="44.72" width="266.00" height="17.52" fill="url(#a1)"/>
<rect x="49.00" y="61.44" width="266.00" height="17.52" fill="url(#a2)"/>
<rect x="49.00" y="78.15" width="266.00" height="17.52" fill="url(#a3)"/>
<rect x="49.00" y="94.87" width="266.00" height="17.52" fill="url(#a4)"/>
<rect x="49.00" y="111.59" width="266.00" height="17.52" fill="url(#a5)"/>
<rect x="49.00" y="128.31" width="266.00" height="17.52" fill="url(#a6)"/>
<rect x="49.00" y="145.03" width="266.00" height="17.52" fill="url(#a7)"/>
<rect x="49.00" y="161.75" width="266.00" height="17.52" fill="url(#a8)"/>
<rect x="49.00" y="178.46" width="266.00" height="17.52" fill="url(#a9)"/>
<rect x="49.00" y="195.18" width="266.00" height="17.52" fill="url(#a10)"/>
<rect x="49.00" y="211.90" width="266.00" height="17.52" fill="url(#a11)"/>
<rect x="49.00" y="228.62" width="266.00" height="17.52" fill="url(#a12)"/>
<rect x="49.00" y="245.34" width="266.00" height="17.52" fill="url(#a13)"/>
<rect x="49.00" y="262.05" width="266.00" height="17.52" fill="url(#a14)"/>
<rect x="49.00" y="278.77" width="266.00" height="17.52" fill="url(#a15)"/>
<rect x="49.00" y="295.49" width="266.00" height="17.52" fill="url(#a16)"/>
<rect x="49.00" y="312.21" width="266.00" height="17.52" fill="url(#a17)"/>
<rect x="49.00" y="328.93" width="266.00" height="17.52" fill="url(#a18)"/>
<rect x="49.00" y="345.65" width="266.00" height="17.52" fill="url(#a19)"/>
<rect x="49.00" y="362.36" width="266.00" height="17.52" fill="url(#a20)"/>
<rect x="49.00" y="379.08" width="266.00" height="16.72" fill="url(#a21)"/>
<rect x="49.00" y="44.17" width="266.00" height="1.1" fill="url(#af1)"/>
<rect x="49.00" y="77.60" width="266.00" height="1.1" fill="url(#af3)"/>
<rect x="49.00" y="345.10" width="266.00" height="1.1" fill="url(#af19)"/>
<rect x="49.00" y="361.81" width="266.00" height="1.1" fill="url(#af20)"/>
<rect x="329.00" y="28.00" width="266.00" height="17.52" fill="url(#b0)"/>
<rect x="329.00" y="44.72" width="266.00" height="17.52" fill="url(#b1)"/>
<rect x="329.00" y="61.44" width="266.00" height="17.52" fill="url(#b2)"/>
<rect x="329.00" y="78.15" width="266.00" height="17.52" fill="url(#b3)"/>
<rect x="329.00" y="94.87" width="266.00" height="17.52" fill="url(#b4)"/>
<rect x="329.00" y="111.59" width="266.00" height="17.52" fill="url(#b5)"/>
<rect x="329.00" y="128.31" width="266.00" height="17.52" fill="url(#b6)"/>
<rect x="329.00" y="145.03" width="266.00" height="17.52" fill="url(#b7)"/>
<rect x="329.00" y="161.75" width="266.00" height="17.52" fill="url(#b8)"/>
<rect x="329.00" y="178.46" width="266.00" height="17.52" fill="url(#b9)"/>
<rect x="329.00" y="195.18" width="266.00" height="17.52" fill="url(#b10)"/>
<rect x="329.00" y="211.90" width="266.00" height="17.52" fill="url(#b11)"/>
<rect x="329.00" y="228.62" width="266.00" height="17.52" fill="url(#b12)"/>
<rect x="329.00" y="245.34" width="266.00" height="17.52" fill="url(#b13)"/>
<rect x="329.00" y="262.05" width="266.00" height="17.52" fill="url(#b14)"/>
<rect x="329.00" y="278.77" width="266.00" height="17.52" fill="url(#b15)"/>
<rect x="329.00" y="295.49" width="266.00" height="17.52" fill="url(#b16)"/>
<rect x="329.00" y="312.21" width="266.00" height="17.52" fill="url(#b17)"/>
<rect x="329.00" y="328.93" width="266.00" height="17.52" fill="url(#b18)"/>
<rect x="329.00" y="345.65" width="266.00" height="17.52" fill="url(#b19)"/>
<rect x="329.00" y="362.36" width="266.00" height="17.52" fill="url(#b20)"/>
<rect x="329.00" y="379.08" width="266.00" height="16.72" fill="url(#b21)"/>
<rect x="329.00" y="60.89" width="266.00" height="1.1" fill="url(#bf2)"/>
<rect x="329.00" y="77.60" width="266.00" height="1.1" fill="url(#bf3)"/>
<rect x="329.00" y="345.10" width="266.00" height="1.1" fill="url(#bf19)"/>
<rect x="329.00" y="378.53" width="266.00" height="1.1" fill="url(#bf21)"/>

<rect x="48.5" y="27" width="1.5" height="60" fill="#fff"/>
<rect x="48.5" y="86" width="2.0" height="197.5" fill="#fff"/>
<rect x="50.5" y="86" width="0.6" height="197.5" fill="#fff" fill-opacity="0.5"/>
<rect x="328.5" y="27" width="2.3" height="256.5" fill="#fff"/>
<rect x="49" y="285" width="0.9" height="110.8" fill="#6a0080"/>
<rect x="329" y="285" width="0.9" height="110.8" fill="#6a0080"/>
<g clip-path="url(#clipL)">
<polyline points="48.5,283.8 100.0,283.8 101.5,282.8 103.0,278.5" fill="none" stroke="#ffffff" stroke-width="3.20" stroke-linejoin="round" stroke-linecap="round"/>
<polyline points="103.0,278.5 105.0,266.0 107.0,254.0 108.8,244.0 110.2,236.0 111.0,231.0" fill="none" stroke="#ffffff" stroke-width="4.20" stroke-linejoin="round" stroke-linecap="round"/>
<polyline points="110.5,228.0 113.0,219.0 116.0,212.5 119.0,210.0 122.0,209.5 125.0,209.0 127.5,207.0 129.3,205.8 131.0,208.0 134.0,211.5 139.0,213.0 144.0,212.3 149.0,210.5 154.0,207.5 159.0,202.5 163.0,198.0 166.0,195.5 169.0,194.0" fill="none" stroke="#ffffff" stroke-width="2.90" stroke-linejoin="round" stroke-linecap="round"/>
<polyline points="111.0,232.0 113.5,223.0 116.0,216.0 119.0,213.5 122.0,213.0 125.0,212.5 128.0,210.5 129.8,209.0 132.0,212.0 135.0,214.5 139.0,215.5 144.0,215.0 149.0,213.5 154.0,210.5 159.0,205.5 163.0,201.0 166.0,198.0 169.0,196.0" fill="none" stroke="#ffffff" stroke-width="2.90" stroke-linejoin="round" stroke-linecap="round"/>
<polyline points="111.5,236.0 114.0,226.0 116.5,219.5 119.0,217.0 122.0,216.5 125.0,216.0 128.0,214.5 130.3,213.0 133.0,215.5 136.0,217.5 139.0,218.3 144.0,218.0 149.0,216.5 154.0,213.5 159.0,208.5 163.0,204.0 166.0,200.5 169.0,198.0" fill="none" stroke="#ffffff" stroke-width="2.90" stroke-linejoin="round" stroke-linecap="round"/>
<polyline points="112.0,240.0 114.5,230.0 117.0,222.0 119.0,219.5 122.0,219.0 125.0,218.5 128.0,218.0 131.0,217.5 134.0,218.5 137.0,219.8 140.0,220.0 144.0,219.8 149.0,218.5 154.0,216.0 159.0,211.5 163.0,207.0 166.0,203.0 169.0,200.0" fill="none" stroke="#ffffff" stroke-width="2.90" stroke-linejoin="round" stroke-linecap="round"/>
<polyline points="110.3,234.0 111.2,224.0 112.2,216.5 113.5,213.5 116.0,209.5 119.5,200.3 121.5,199.6 123.5,201.5 126.0,200.2 128.0,200.6 130.0,203.0 135.0,205.5 140.0,207.0 145.0,206.4 150.0,205.2 155.0,203.0 158.0,201.0 162.0,197.5 165.0,195.5" fill="none" stroke="#ffffff" stroke-width="1.90" stroke-linejoin="round" stroke-linecap="round"/>
<polyline points="165.0,198.5 170.0,193.5 175.5,188.8 179.9,194.2 185.1,186.8 190.3,194.5 194.5,192.8 198.5,200.5 203.5,208.5 208.5,217.5 213.0,224.0 217.5,232.5 222.0,238.0 225.5,244.4 228.6,249.5 231.6,248.7 235.5,254.6 237.8,258.0 239.3,257.5 240.1,245.0 240.9,257.5 241.8,257.5 245.3,263.1 247.0,264.0" fill="none" stroke="#ffffff" stroke-width="5.60" stroke-linejoin="round" stroke-linecap="round"/>
<polygon points="245.5,264.0 246.3,200.0 247.4,178.0 248.6,185.0 249.5,198.0 250.5,192.0 251.8,188.5 253.0,196.0 254.3,219.0 255.5,200.0 257.0,184.0 258.0,178.0 259.0,184.0 260.0,193.0 261.2,190.0 262.4,186.3 263.5,192.0 264.5,205.0 265.5,228.0 267.0,228.0 267.8,226.5 268.8,232.0 269.6,250.0 270.0,268.0 271.0,274.5 270.0,276.0 267.0,272.0 265.5,264.0 262.5,264.0 261.5,252.0 259.5,252.0 258.5,261.0 255.5,262.5 254.5,255.0 252.5,255.0 251.5,249.0 249.5,249.0 249.0,259.5 246.5,261.0" fill="#fff" stroke="#fff" stroke-width="0.6" stroke-linejoin="round"/>
<polyline points="269.2,273.0 270.8,274.4 280.8,278.1 284.2,279.0 285.1,259.5 286.0,279.3 290.8,280.0 294.5,278.3 299.5,281.2 304.5,283.1 308.2,281.5 311.0,283.5 316.0,284.4" fill="none" stroke="#ffffff" stroke-width="3.00" stroke-linejoin="round" stroke-linecap="round"/>
</g>
<g clip-path="url(#clipR)">
<polyline points="328.8,283.6 381.5,283.6 383.0,281.8 384.5,276.5" fill="none" stroke="#ffffff" stroke-width="3.20" stroke-linejoin="round" stroke-linecap="round"/>
<polyline points="384.5,276.5 386.5,263.5 388.5,251.0 390.5,241.0 392.5,236.0" fill="none" stroke="#ffffff" stroke-width="4.60" stroke-linejoin="round" stroke-linecap="round"/>
<polyline points="392.5,236.0 395.5,232.5 399.0,225.5 402.0,223.5 405.0,222.5 408.0,220.5 409.7,218.3 411.5,221.5 414.0,223.5 420.0,223.5 425.0,223.0 430.0,221.5 434.0,219.0 438.6,216.0 446.8,208.6 455.0,201.0 460.4,199.0 465.2,194.5 469.7,196.8 472.7,196.2 477.8,205.0" fill="none" stroke="#ffffff" stroke-width="7.50" stroke-linejoin="round" stroke-linecap="round"/>
<polyline points="477.8,205.0 483.0,210.1 488.0,220.3 493.2,226.5 499.3,237.7 505.4,246.9 511.6,252.0 518.7,256.1 520.8,254.1 522.5,258.0 524.9,264.0 527.0,263.0" fill="none" stroke="#ffffff" stroke-width="6.20" stroke-linejoin="round" stroke-linecap="round"/>
<polygon points="525.0,262.0 526.0,205.0 526.6,175.0 527.6,157.5 528.5,163.0 529.3,180.0 530.0,188.0 530.8,172.0 532.0,150.0 533.0,160.0 534.0,185.0 535.0,195.0 536.2,185.0 537.9,166.5 539.0,178.0 539.8,184.0 540.5,165.0 541.3,151.5 542.3,160.0 543.5,172.0 545.0,182.0 546.5,190.0 548.0,197.0 549.6,205.0 549.6,270.0 549.5,273.0 546.5,271.0 546.0,243.0 542.0,242.0 541.0,244.0 537.0,244.0 536.5,227.0 534.0,227.0 534.4,219.0 531.5,219.0 531.2,250.0 529.5,256.0 526.0,263.0" fill="#fff" stroke="#fff" stroke-width="0.6" stroke-linejoin="round"/>
<polyline points="548.5,271.0 551.8,274.3 562.2,277.0 564.6,277.5 565.4,238.0 566.2,277.5 574.0,278.2 578.4,280.2 584.3,282.4 588.7,281.2 596.0,283.4" fill="none" stroke="#ffffff" stroke-width="3.00" stroke-linejoin="round" stroke-linecap="round"/>
<polyline points="430.5,221.0 430.5,161.5" fill="none" stroke="#ffffff" stroke-width="2.00" stroke-linejoin="round" stroke-linecap="round"/>
</g>
<clipPath id="clipL"><rect x="48" y="28" width="267" height="368"/></clipPath>
<clipPath id="clipR"><rect x="328" y="28" width="267" height="368"/></clipPath>
<rect x="69.1" y="43.20" width="5.4" height="1.2" fill="#fff"/>
<text x="78.8" y="48.70" font-size="13.3" fill="#fff">25</text>
<rect x="69.1" y="91.20" width="5.4" height="1.2" fill="#fff"/>
<text x="78.8" y="96.70" font-size="13.3" fill="#fff">20</text>
<rect x="69.1" y="139.20" width="5.4" height="1.2" fill="#fff"/>
<text x="78.8" y="144.70" font-size="13.3" fill="#fff">15</text>
<rect x="69.1" y="187.20" width="5.4" height="1.2" fill="#fff"/>
<text x="78.8" y="192.70" font-size="13.3" fill="#fff">10</text>
<rect x="69.1" y="235.20" width="5.4" height="1.2" fill="#fff"/>
<text x="78.8" y="240.70" font-size="13.3" fill="#fff">5</text>
<text x="78.8" y="288.70" font-size="13.3" fill="#fff">0</text>
<rect x="350.1" y="43.20" width="5.4" height="1.2" fill="#fff"/>
<text x="359.2" y="48.70" font-size="13.3" fill="#fff">25</text>
<rect x="350.1" y="91.20" width="5.4" height="1.2" fill="#fff"/>
<text x="359.2" y="96.70" font-size="13.3" fill="#fff">20</text>
<rect x="350.1" y="139.20" width="5.4" height="1.2" fill="#fff"/>
<text x="359.2" y="144.70" font-size="13.3" fill="#fff">15</text>
<rect x="350.1" y="187.20" width="5.4" height="1.2" fill="#fff"/>
<text x="359.2" y="192.70" font-size="13.3" fill="#fff">10</text>
<rect x="350.1" y="235.20" width="5.4" height="1.2" fill="#fff"/>
<text x="359.2" y="240.70" font-size="13.3" fill="#fff">5</text>
<text x="359.2" y="288.70" font-size="13.3" fill="#fff">0</text>
<g clip-path="url(#clipHid)">
<text x="37.6" y="48.70" font-size="13.3" fill="#fff" text-anchor="end">25</text>
<text x="37.6" y="96.70" font-size="13.3" fill="#fff" text-anchor="end">20</text>
<text x="37.6" y="144.70" font-size="13.3" fill="#fff" text-anchor="end">15</text>
<text x="37.6" y="192.70" font-size="13.3" fill="#fff" text-anchor="end">10</text>
<text x="37.6" y="240.70" font-size="13.3" fill="#fff" text-anchor="end">5</text>
<text x="37.6" y="288.70" font-size="13.3" fill="#fff" text-anchor="end">0</text>
<text x="317.6" y="48.70" font-size="13.3" fill="#fff" text-anchor="end">25</text>
<text x="317.6" y="96.70" font-size="13.3" fill="#fff" text-anchor="end">20</text>
<text x="317.6" y="144.70" font-size="13.3" fill="#fff" text-anchor="end">15</text>
<text x="317.6" y="192.70" font-size="13.3" fill="#fff" text-anchor="end">10</text>
<text x="317.6" y="240.70" font-size="13.3" fill="#fff" text-anchor="end">5</text>
<text x="317.6" y="288.70" font-size="13.3" fill="#fff" text-anchor="end">0</text>
</g>
<clipPath id="clipHid"><rect x="0" y="0" width="315" height="440"/></clipPath>
<text x="32.3" y="41.90" font-size="13.3" fill="#000" text-anchor="end" xml:space="preserve">On</text>
<text x="611.8" y="41.90" font-size="13.3" fill="#000">On</text>
<text x="32.3" y="58.90" font-size="13.3" fill="#000" text-anchor="end" xml:space="preserve">Y</text>
<text x="611.8" y="58.90" font-size="13.3" fill="#000">Y</text>
<text x="32.3" y="75.90" font-size="13.3" fill="#000" text-anchor="end" xml:space="preserve">Off</text>
<text x="611.8" y="75.90" font-size="13.3" fill="#000">Off</text>
<text x="31.8" y="91.90" font-size="13.3" fill="#000" text-anchor="end" xml:space="preserve">** P</text>
<text x="611.8" y="91.90" font-size="13.3" fill="#000">P</text>
<text x="32.3" y="108.90" font-size="13.3" fill="#000" text-anchor="end" xml:space="preserve">O</text>
<text x="611.8" y="108.90" font-size="13.3" fill="#000">O</text>
<text x="32.3" y="125.90" font-size="13.3" fill="#000" text-anchor="end" xml:space="preserve">N</text>
<text x="611.8" y="125.90" font-size="13.3" fill="#000">N</text>
<text x="32.3" y="141.90" font-size="13.3" fill="#000" text-anchor="end" xml:space="preserve">M</text>
<text x="611.8" y="141.90" font-size="13.3" fill="#000">M</text>
<text x="32.3" y="158.90" font-size="13.3" fill="#000" text-anchor="end" xml:space="preserve">L</text>
<text x="611.8" y="158.90" font-size="13.3" fill="#000">L</text>
<text x="32.3" y="175.90" font-size="13.3" fill="#000" text-anchor="end" xml:space="preserve">K</text>
<text x="611.8" y="175.90" font-size="13.3" fill="#000">K</text>
<text x="32.3" y="191.90" font-size="13.3" fill="#000" text-anchor="end" xml:space="preserve">J</text>
<text x="611.8" y="191.90" font-size="13.3" fill="#000">J</text>
<text x="32.3" y="208.90" font-size="13.3" fill="#000" text-anchor="end" xml:space="preserve">I</text>
<text x="611.8" y="208.90" font-size="13.3" fill="#000">I</text>
<text x="32.3" y="225.90" font-size="13.3" fill="#000" text-anchor="end" xml:space="preserve">H</text>
<text x="611.8" y="225.90" font-size="13.3" fill="#000">H</text>
<text x="32.3" y="241.90" font-size="13.3" fill="#000" text-anchor="end" xml:space="preserve">G</text>
<text x="611.8" y="241.90" font-size="13.3" fill="#000">G</text>
<text x="32.3" y="258.90" font-size="13.3" fill="#000" text-anchor="end" xml:space="preserve">F</text>
<text x="611.8" y="258.90" font-size="13.3" fill="#000">F</text>
<text x="32.3" y="275.90" font-size="13.3" fill="#000" text-anchor="end" xml:space="preserve">E</text>
<text x="611.8" y="275.90" font-size="13.3" fill="#000">E</text>
<text x="32.3" y="291.90" font-size="13.3" fill="#000" text-anchor="end" xml:space="preserve">D</text>
<text x="611.8" y="291.90" font-size="13.3" fill="#000">D</text>
<text x="32.3" y="308.90" font-size="13.3" fill="#000" text-anchor="end" xml:space="preserve">C</text>
<text x="611.8" y="308.90" font-size="13.3" fill="#000">C</text>
<text x="32.3" y="325.90" font-size="13.3" fill="#000" text-anchor="end" xml:space="preserve">B</text>
<text x="611.8" y="325.90" font-size="13.3" fill="#000">B</text>
<text x="32.3" y="341.90" font-size="13.3" fill="#000" text-anchor="end" xml:space="preserve">A</text>
<text x="611.8" y="341.90" font-size="13.3" fill="#000">A</text>
<text x="32.3" y="358.90" font-size="13.3" fill="#000" text-anchor="end" xml:space="preserve">Off</text>
<text x="611.8" y="358.90" font-size="13.3" fill="#000">Off</text>
<text x="32.3" y="375.90" font-size="13.3" fill="#000" text-anchor="end" xml:space="preserve">X</text>
<text x="611.8" y="375.90" font-size="13.3" fill="#000">X</text>
<text x="32.3" y="391.90" font-size="13.3" fill="#000" text-anchor="end" xml:space="preserve">On</text>
<text x="611.8" y="391.90" font-size="13.3" fill="#000">On</text>
<text x="37.6" y="48.70" font-size="13.3" fill="#fff" text-anchor="end">25</text>
<text x="37.6" y="96.70" font-size="13.3" fill="#fff" text-anchor="end">20</text>
<text x="37.6" y="144.70" font-size="13.3" fill="#fff" text-anchor="end">15</text>
<text x="37.6" y="192.70" font-size="13.3" fill="#fff" text-anchor="end">10</text>
<text x="37.6" y="240.70" font-size="13.3" fill="#fff" text-anchor="end">5</text>
<text x="37.6" y="288.70" font-size="13.3" fill="#fff" text-anchor="end">0</text>
<text x="181.4" y="16" font-size="16.6" fill="#000" text-anchor="middle">1.1 (LBA1=2001) X</text>
<text x="461.5" y="16" font-size="16.6" fill="#000" text-anchor="middle">1.1 (LBA1=2001) Y</text>
<rect x="49.00" y="408.1" width="1" height="5.6" fill="#000"/>
<text x="48.90" y="425.7" font-size="9.3" fill="#000" text-anchor="middle">0</text>
<rect x="89.00" y="408.1" width="1" height="5.6" fill="#000"/>
<text x="89.57" y="425.7" font-size="9.3" fill="#000" text-anchor="middle">50</text>
<rect x="130.00" y="408.1" width="1" height="5.6" fill="#000"/>
<text x="130.23" y="425.7" font-size="9.3" fill="#000" text-anchor="middle">100</text>
<rect x="171.00" y="408.1" width="1" height="5.6" fill="#000"/>
<text x="170.89" y="425.7" font-size="9.3" fill="#000" text-anchor="middle">150</text>
<rect x="211.00" y="408.1" width="1" height="5.6" fill="#000"/>
<text x="211.56" y="425.7" font-size="9.3" fill="#000" text-anchor="middle">200</text>
<rect x="252.00" y="408.1" width="1" height="5.6" fill="#000"/>
<text x="252.23" y="425.7" font-size="9.3" fill="#000" text-anchor="middle">250</text>
<rect x="293.00" y="408.1" width="1" height="5.6" fill="#000"/>
<text x="292.89" y="425.7" font-size="9.3" fill="#000" text-anchor="middle">300</text>
<rect x="329.00" y="408.1" width="1" height="5.6" fill="#000"/>
<text x="328.90" y="425.7" font-size="9.3" fill="#000" text-anchor="middle">0</text>
<rect x="369.00" y="408.1" width="1" height="5.6" fill="#000"/>
<text x="369.56" y="425.7" font-size="9.3" fill="#000" text-anchor="middle">50</text>
<rect x="410.00" y="408.1" width="1" height="5.6" fill="#000"/>
<text x="410.23" y="425.7" font-size="9.3" fill="#000" text-anchor="middle">100</text>
<rect x="451.00" y="408.1" width="1" height="5.6" fill="#000"/>
<text x="450.89" y="425.7" font-size="9.3" fill="#000" text-anchor="middle">150</text>
<rect x="491.00" y="408.1" width="1" height="5.6" fill="#000"/>
<text x="491.56" y="425.7" font-size="9.3" fill="#000" text-anchor="middle">200</text>
<rect x="532.00" y="408.1" width="1" height="5.6" fill="#000"/>
<text x="532.23" y="425.7" font-size="9.3" fill="#000" text-anchor="middle">250</text>
<rect x="573.00" y="408.1" width="1" height="5.6" fill="#000"/>
<text x="572.89" y="425.7" font-size="9.3" fill="#000" text-anchor="middle">300</text>
</svg></body></html>
